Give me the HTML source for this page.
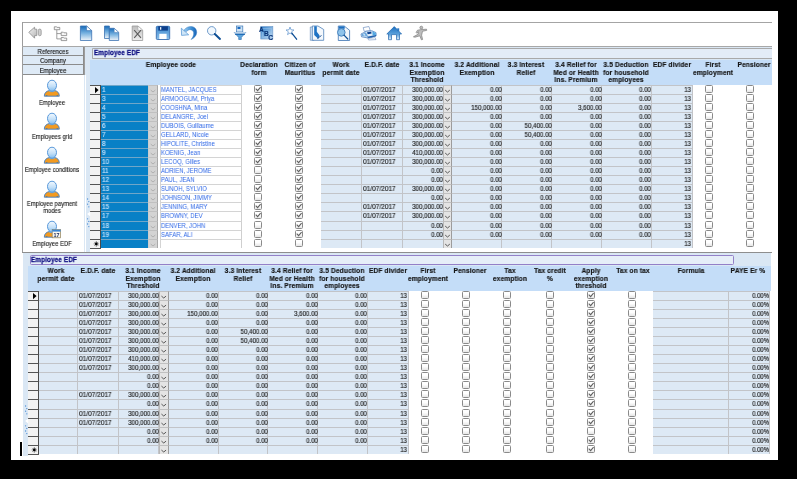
<!DOCTYPE html><html><head><meta charset="utf-8"><style>
*{margin:0;padding:0;box-sizing:border-box}
html,body{width:797px;height:479px;overflow:hidden;background:#000}
body{position:relative;font-family:"Liberation Sans",sans-serif}
div,span{position:absolute}
.x{white-space:nowrap;font-size:7px;line-height:7px;will-change:transform}
.h{font-weight:bold;font-size:6.9px;line-height:7.4px;color:#111;text-align:center;white-space:nowrap;-webkit-text-stroke:0.1px #111}
.cb{width:8px;height:8px;border:1px solid #8a8a8a;border-radius:1.5px;background:linear-gradient(#fff 40%,#e6e6e6)}
</style></head><body><div style="left:11px;top:11px;width:767px;height:449px;background:#fff"></div>
<div style="left:22px;top:22px;width:750px;height:1px;background:#a4a4a4"></div>
<div style="left:22px;top:22px;width:1px;height:231px;background:#9c9c9c"></div>
<div style="left:22px;top:46px;width:750px;height:1px;background:#a8a8a8"></div>
<div style="left:20px;top:442px;width:2px;height:14px;background:#000"></div>
<div style="left:23px;top:47px;width:61px;height:9px;background:#deeaf6;border-bottom:1px solid #8c8c8c;border-right:1px solid #8c8c8c"></div>
<div class="x" style="font-size:7px;line-height:7px;color:#1c1c1c;-webkit-text-stroke:0.160px #1c1c1c;left:23.1px;width:60px;text-align:center;top:48px;transform:scaleX(0.86);transform-origin:50% 0;">References</div>
<div style="left:23px;top:56px;width:61px;height:9px;background:#deeaf6;border-bottom:1px solid #8c8c8c;border-right:1px solid #8c8c8c"></div>
<div class="x" style="font-size:7px;line-height:7px;color:#1c1c1c;-webkit-text-stroke:0.160px #1c1c1c;left:23.1px;width:60px;text-align:center;top:57px;transform:scaleX(0.86);transform-origin:50% 0;">Company</div>
<div style="left:23px;top:65px;width:61px;height:10px;background:#deeaf6;border-bottom:1px solid #8c8c8c;border-right:1px solid #8c8c8c"></div>
<div class="x" style="font-size:7px;line-height:7px;color:#1c1c1c;-webkit-text-stroke:0.160px #1c1c1c;left:23.1px;width:60px;text-align:center;top:67px;transform:scaleX(0.86);transform-origin:50% 0;">Employee</div>
<div style="left:22px;top:252px;width:750px;height:1px;background:#8e8e8e"></div>
<div style="left:84px;top:47px;width:688px;height:205px;background:#dae7f4"></div>
<div style="left:84px;top:47px;width:1px;height:28px;background:#9c9c9c"></div>
<div style="left:85px;top:75px;width:0.8px;height:177px;background:#fff"></div>
<div style="left:92px;top:48px;width:680px;height:10.5px;background:#e3ecf7;border:1px solid #a9a9a9;border-right:none;border-radius:1.5px 0 0 1.5px"></div>
<div class="x" style="font-size:7px;line-height:7px;color:#0e0e82;font-weight:bold;letter-spacing:0.17px;-webkit-text-stroke:0.270px #0e0e82;left:93.8px;top:49px;transform:scaleX(0.9);transform-origin:0 0;">Employee EDF</div>
<div style="left:90px;top:60px;width:682px;height:192px;background:#fff"></div>
<div style="left:90px;top:60px;width:682px;height:25px;background:#c4ddf8"></div>
<div class="x" style="font-size:7px;line-height:7px;color:#141414;font-weight:bold;letter-spacing:0.15px;-webkit-text-stroke:0.170px #141414;left:126.0px;width:90px;text-align:center;top:61px;transform:scaleX(0.94);transform-origin:50% 0;">Employee code</div>
<div class="x" style="font-size:7px;line-height:7px;color:#141414;font-weight:bold;letter-spacing:0.15px;-webkit-text-stroke:0.170px #141414;left:214.0px;width:90px;text-align:center;top:61px;transform:scaleX(0.94);transform-origin:50% 0;">Declaration</div>
<div class="x" style="font-size:7px;line-height:7px;color:#141414;font-weight:bold;letter-spacing:0.15px;-webkit-text-stroke:0.170px #141414;left:214.0px;width:90px;text-align:center;top:69px;transform:scaleX(0.94);transform-origin:50% 0;">form</div>
<div class="x" style="font-size:7px;line-height:7px;color:#141414;font-weight:bold;letter-spacing:0.15px;-webkit-text-stroke:0.170px #141414;left:254.5px;width:90px;text-align:center;top:61px;transform:scaleX(0.94);transform-origin:50% 0;">Citizen of</div>
<div class="x" style="font-size:7px;line-height:7px;color:#141414;font-weight:bold;letter-spacing:0.15px;-webkit-text-stroke:0.170px #141414;left:254.5px;width:90px;text-align:center;top:69px;transform:scaleX(0.94);transform-origin:50% 0;">Mauritius</div>
<div class="x" style="font-size:7px;line-height:7px;color:#141414;font-weight:bold;letter-spacing:0.15px;-webkit-text-stroke:0.170px #141414;left:296.0px;width:90px;text-align:center;top:61px;transform:scaleX(0.94);transform-origin:50% 0;">Work</div>
<div class="x" style="font-size:7px;line-height:7px;color:#141414;font-weight:bold;letter-spacing:0.15px;-webkit-text-stroke:0.170px #141414;left:296.0px;width:90px;text-align:center;top:69px;transform:scaleX(0.94);transform-origin:50% 0;">permit date</div>
<div class="x" style="font-size:7px;line-height:7px;color:#141414;font-weight:bold;letter-spacing:0.15px;-webkit-text-stroke:0.170px #141414;left:336.5px;width:90px;text-align:center;top:61px;transform:scaleX(0.94);transform-origin:50% 0;">E.D.F. date</div>
<div class="x" style="font-size:7px;line-height:7px;color:#141414;font-weight:bold;letter-spacing:0.15px;-webkit-text-stroke:0.170px #141414;left:382.0px;width:90px;text-align:center;top:61px;transform:scaleX(0.94);transform-origin:50% 0;">3.1 Income</div>
<div class="x" style="font-size:7px;line-height:7px;color:#141414;font-weight:bold;letter-spacing:0.15px;-webkit-text-stroke:0.170px #141414;left:382.0px;width:90px;text-align:center;top:69px;transform:scaleX(0.94);transform-origin:50% 0;">Exemption</div>
<div class="x" style="font-size:7px;line-height:7px;color:#141414;font-weight:bold;letter-spacing:0.15px;-webkit-text-stroke:0.170px #141414;left:382.0px;width:90px;text-align:center;top:76px;transform:scaleX(0.94);transform-origin:50% 0;">Threshold</div>
<div class="x" style="font-size:7px;line-height:7px;color:#141414;font-weight:bold;letter-spacing:0.15px;-webkit-text-stroke:0.170px #141414;left:431.5px;width:90px;text-align:center;top:61px;transform:scaleX(0.94);transform-origin:50% 0;">3.2 Additional</div>
<div class="x" style="font-size:7px;line-height:7px;color:#141414;font-weight:bold;letter-spacing:0.15px;-webkit-text-stroke:0.170px #141414;left:431.5px;width:90px;text-align:center;top:69px;transform:scaleX(0.94);transform-origin:50% 0;">Exemption</div>
<div class="x" style="font-size:7px;line-height:7px;color:#141414;font-weight:bold;letter-spacing:0.15px;-webkit-text-stroke:0.170px #141414;left:480.5px;width:90px;text-align:center;top:61px;transform:scaleX(0.94);transform-origin:50% 0;">3.3 Interest</div>
<div class="x" style="font-size:7px;line-height:7px;color:#141414;font-weight:bold;letter-spacing:0.15px;-webkit-text-stroke:0.170px #141414;left:480.5px;width:90px;text-align:center;top:69px;transform:scaleX(0.94);transform-origin:50% 0;">Relief</div>
<div class="x" style="font-size:7px;line-height:7px;color:#141414;font-weight:bold;letter-spacing:0.15px;-webkit-text-stroke:0.170px #141414;left:531.0px;width:90px;text-align:center;top:61px;transform:scaleX(0.94);transform-origin:50% 0;">3.4 Relief for</div>
<div class="x" style="font-size:7px;line-height:7px;color:#141414;font-weight:bold;letter-spacing:0.15px;-webkit-text-stroke:0.170px #141414;left:531.0px;width:90px;text-align:center;top:69px;transform:scaleX(0.94);transform-origin:50% 0;">Med or Health</div>
<div class="x" style="font-size:7px;line-height:7px;color:#141414;font-weight:bold;letter-spacing:0.15px;-webkit-text-stroke:0.170px #141414;left:531.0px;width:90px;text-align:center;top:76px;transform:scaleX(0.94);transform-origin:50% 0;">Ins. Premium</div>
<div class="x" style="font-size:7px;line-height:7px;color:#141414;font-weight:bold;letter-spacing:0.15px;-webkit-text-stroke:0.170px #141414;left:580.5px;width:90px;text-align:center;top:61px;transform:scaleX(0.94);transform-origin:50% 0;">3.5 Deduction</div>
<div class="x" style="font-size:7px;line-height:7px;color:#141414;font-weight:bold;letter-spacing:0.15px;-webkit-text-stroke:0.170px #141414;left:580.5px;width:90px;text-align:center;top:69px;transform:scaleX(0.94);transform-origin:50% 0;">for household</div>
<div class="x" style="font-size:7px;line-height:7px;color:#141414;font-weight:bold;letter-spacing:0.15px;-webkit-text-stroke:0.170px #141414;left:580.5px;width:90px;text-align:center;top:76px;transform:scaleX(0.94);transform-origin:50% 0;">employees</div>
<div class="x" style="font-size:7px;line-height:7px;color:#141414;font-weight:bold;letter-spacing:0.15px;-webkit-text-stroke:0.170px #141414;left:626.8px;width:90px;text-align:center;top:61px;transform:scaleX(0.94);transform-origin:50% 0;">EDF divider</div>
<div class="x" style="font-size:7px;line-height:7px;color:#141414;font-weight:bold;letter-spacing:0.15px;-webkit-text-stroke:0.170px #141414;left:667.5px;width:90px;text-align:center;top:61px;transform:scaleX(0.94);transform-origin:50% 0;">First</div>
<div class="x" style="font-size:7px;line-height:7px;color:#141414;font-weight:bold;letter-spacing:0.15px;-webkit-text-stroke:0.170px #141414;left:667.5px;width:90px;text-align:center;top:69px;transform:scaleX(0.94);transform-origin:50% 0;">employment</div>
<div class="x" style="font-size:7px;line-height:7px;color:#141414;font-weight:bold;letter-spacing:0.15px;-webkit-text-stroke:0.170px #141414;left:708.5px;width:90px;text-align:center;top:61px;transform:scaleX(0.94);transform-origin:50% 0;">Pensioner</div>
<div style="left:90px;top:85px;width:11px;height:9px;background:#f3f3f3;border-top:1px solid #555;border-right:1px solid #4a4a4a"><svg width="10" height="8" style="position:absolute;left:0;top:0"><path d="M5 0.9 L8.6 4 L5 7.2Z" fill="#000"/></svg></div>
<div style="left:101px;top:85px;width:47px;height:9px;background:#0880c6;border-top:1px solid #70a6c8"></div>
<div class="x" style="font-size:7px;line-height:7px;color:#cde5fb;-webkit-text-stroke:0.110px #cde5fb;left:102px;top:86px;transform:scaleX(0.9);transform-origin:0 0;">1</div>
<div style="left:148px;top:85px;width:10px;height:9px;background:#d3d3d3;border-top:1px solid #c0c0c0;border-right:1px solid #a8a8a8;border-left:1px solid #cdcdcd"><svg width="9" height="9" style="position:absolute;left:-1px;top:-1px"><path d="M2.7 5.1 L5.0 7 L7.3 5.1" fill="none" stroke="#a6a6a6" stroke-width="0.8"/></svg></div>
<div style="left:159.5px;top:85px;width:82px;height:9px;background:#fff;border-top:1px solid #d4d4d4;border-left:1px solid #d4d4d4;border-right:1px solid #cfcfcf"></div>
<div class="x" style="font-size:7px;line-height:7px;color:#356ce6;-webkit-text-stroke:0.030px #356ce6;left:161px;top:86px;transform:scaleX(0.85);transform-origin:0 0;">MANTEL, JACQUES</div>
<div class="cb" style="left:254.00px;top:85.00px"><svg width="8" height="8" style="position:absolute;left:-1px;top:-1px"><path d="M1.7 3.7 L3.6 5.6 L6.6 2.2" fill="none" stroke="#5e5e5e" stroke-width="1.1"/></svg></div>
<div class="cb" style="left:295.00px;top:85.00px"><svg width="8" height="8" style="position:absolute;left:-1px;top:-1px"><path d="M1.7 3.7 L3.6 5.6 L6.6 2.2" fill="none" stroke="#5e5e5e" stroke-width="1.1"/></svg></div>
<div style="left:320.5px;top:85px;width:41px;height:9px;background:#dde9f5;border-right:1px solid #c2c4c8;border-top:1px solid #c2c4c8;"></div>
<div style="left:361.5px;top:85px;width:41px;height:9px;background:#dde9f5;border-right:1px solid #c2c4c8;border-top:1px solid #c2c4c8;"></div>
<div style="left:402.5px;top:85px;width:41px;height:9px;background:#dde9f5;border-right:1px solid #c2c4c8;border-top:1px solid #c2c4c8;"></div>
<div style="left:443.2px;top:85px;width:9px;height:9px;background:#e4e4e4;border-top:1px solid #c0c0c0;border-right:1px solid #9c9c9c;border-left:1px solid #b8b8b8"><svg width="9" height="9" style="position:absolute;left:-1px;top:-1px"><path d="M2.2 5.1 L4.5 7 L6.8 5.1" fill="none" stroke="#585858" stroke-width="1.0"/></svg></div>
<div style="left:452px;top:85px;width:50px;height:9px;background:#dde9f5;border-right:1px solid #c2c4c8;border-top:1px solid #c2c4c8;"></div>
<div style="left:502px;top:85px;width:50px;height:9px;background:#dde9f5;border-right:1px solid #c2c4c8;border-top:1px solid #c2c4c8;"></div>
<div style="left:552px;top:85px;width:50px;height:9px;background:#dde9f5;border-right:1px solid #c2c4c8;border-top:1px solid #c2c4c8;"></div>
<div style="left:602px;top:85px;width:49.5px;height:9px;background:#dde9f5;border-right:1px solid #c2c4c8;border-top:1px solid #c2c4c8;"></div>
<div style="left:651.5px;top:85px;width:41.5px;height:9px;background:#dde9f5;border-right:1px solid #c2c4c8;border-top:1px solid #c2c4c8;"></div>
<div class="x" style="font-size:7px;line-height:7px;color:#262626;letter-spacing:0.05px;-webkit-text-stroke:0.180px #262626;left:362.8px;top:86px;transform:scaleX(0.92);transform-origin:0 0;">01/07/2017</div>
<div class="x" style="font-size:7px;line-height:7px;color:#262626;-webkit-text-stroke:0.180px #262626;left:322.9px;width:120px;text-align:right;top:86px;transform:scaleX(0.88);transform-origin:100% 0;">300,000.00</div>
<div class="x" style="font-size:7px;line-height:7px;color:#262626;-webkit-text-stroke:0.180px #262626;left:381.6px;width:120px;text-align:right;top:86px;transform:scaleX(0.88);transform-origin:100% 0;">0.00</div>
<div class="x" style="font-size:7px;line-height:7px;color:#262626;-webkit-text-stroke:0.180px #262626;left:431.6px;width:120px;text-align:right;top:86px;transform:scaleX(0.88);transform-origin:100% 0;">0.00</div>
<div class="x" style="font-size:7px;line-height:7px;color:#262626;-webkit-text-stroke:0.180px #262626;left:481.6px;width:120px;text-align:right;top:86px;transform:scaleX(0.88);transform-origin:100% 0;">0.00</div>
<div class="x" style="font-size:7px;line-height:7px;color:#262626;-webkit-text-stroke:0.180px #262626;left:530.9px;width:120px;text-align:right;top:86px;transform:scaleX(0.88);transform-origin:100% 0;">0.00</div>
<div class="x" style="font-size:7px;line-height:7px;color:#262626;-webkit-text-stroke:0.180px #262626;left:570.5px;width:120px;text-align:right;top:86px;transform:scaleX(0.88);transform-origin:100% 0;">13</div>
<div class="cb" style="left:705.00px;top:85.00px"></div>
<div class="cb" style="left:746.00px;top:85.00px"></div>
<div style="left:90px;top:94px;width:11px;height:9px;background:#f3f3f3;border-top:1px solid #555;border-right:1px solid #4a4a4a"></div>
<div style="left:101px;top:94px;width:47px;height:9px;background:#0880c6;border-top:1px solid #70a6c8"></div>
<div class="x" style="font-size:7px;line-height:7px;color:#cde5fb;-webkit-text-stroke:0.110px #cde5fb;left:102px;top:95px;transform:scaleX(0.9);transform-origin:0 0;">3</div>
<div style="left:148px;top:94px;width:10px;height:9px;background:#d3d3d3;border-top:1px solid #c0c0c0;border-right:1px solid #a8a8a8;border-left:1px solid #cdcdcd"><svg width="9" height="9" style="position:absolute;left:-1px;top:-1px"><path d="M2.7 5.1 L5.0 7 L7.3 5.1" fill="none" stroke="#a6a6a6" stroke-width="0.8"/></svg></div>
<div style="left:159.5px;top:94px;width:82px;height:9px;background:#fff;border-top:1px solid #d4d4d4;border-left:1px solid #d4d4d4;border-right:1px solid #cfcfcf"></div>
<div class="x" style="font-size:7px;line-height:7px;color:#356ce6;-webkit-text-stroke:0.030px #356ce6;left:161px;top:95px;transform:scaleX(0.85);transform-origin:0 0;">ARMOOGUM, Priya</div>
<div class="cb" style="left:254.00px;top:94.00px"><svg width="8" height="8" style="position:absolute;left:-1px;top:-1px"><path d="M1.7 3.7 L3.6 5.6 L6.6 2.2" fill="none" stroke="#5e5e5e" stroke-width="1.1"/></svg></div>
<div class="cb" style="left:295.00px;top:94.00px"><svg width="8" height="8" style="position:absolute;left:-1px;top:-1px"><path d="M1.7 3.7 L3.6 5.6 L6.6 2.2" fill="none" stroke="#5e5e5e" stroke-width="1.1"/></svg></div>
<div style="left:320.5px;top:94px;width:41px;height:9px;background:#dde9f5;border-right:1px solid #c2c4c8;border-top:1px solid #c2c4c8;"></div>
<div style="left:361.5px;top:94px;width:41px;height:9px;background:#dde9f5;border-right:1px solid #c2c4c8;border-top:1px solid #c2c4c8;"></div>
<div style="left:402.5px;top:94px;width:41px;height:9px;background:#dde9f5;border-right:1px solid #c2c4c8;border-top:1px solid #c2c4c8;"></div>
<div style="left:443.2px;top:94px;width:9px;height:9px;background:#e4e4e4;border-top:1px solid #c0c0c0;border-right:1px solid #9c9c9c;border-left:1px solid #b8b8b8"><svg width="9" height="9" style="position:absolute;left:-1px;top:-1px"><path d="M2.2 5.1 L4.5 7 L6.8 5.1" fill="none" stroke="#585858" stroke-width="1.0"/></svg></div>
<div style="left:452px;top:94px;width:50px;height:9px;background:#dde9f5;border-right:1px solid #c2c4c8;border-top:1px solid #c2c4c8;"></div>
<div style="left:502px;top:94px;width:50px;height:9px;background:#dde9f5;border-right:1px solid #c2c4c8;border-top:1px solid #c2c4c8;"></div>
<div style="left:552px;top:94px;width:50px;height:9px;background:#dde9f5;border-right:1px solid #c2c4c8;border-top:1px solid #c2c4c8;"></div>
<div style="left:602px;top:94px;width:49.5px;height:9px;background:#dde9f5;border-right:1px solid #c2c4c8;border-top:1px solid #c2c4c8;"></div>
<div style="left:651.5px;top:94px;width:41.5px;height:9px;background:#dde9f5;border-right:1px solid #c2c4c8;border-top:1px solid #c2c4c8;"></div>
<div class="x" style="font-size:7px;line-height:7px;color:#262626;letter-spacing:0.05px;-webkit-text-stroke:0.180px #262626;left:362.8px;top:95px;transform:scaleX(0.92);transform-origin:0 0;">01/07/2017</div>
<div class="x" style="font-size:7px;line-height:7px;color:#262626;-webkit-text-stroke:0.180px #262626;left:322.9px;width:120px;text-align:right;top:95px;transform:scaleX(0.88);transform-origin:100% 0;">300,000.00</div>
<div class="x" style="font-size:7px;line-height:7px;color:#262626;-webkit-text-stroke:0.180px #262626;left:381.6px;width:120px;text-align:right;top:95px;transform:scaleX(0.88);transform-origin:100% 0;">0.00</div>
<div class="x" style="font-size:7px;line-height:7px;color:#262626;-webkit-text-stroke:0.180px #262626;left:431.6px;width:120px;text-align:right;top:95px;transform:scaleX(0.88);transform-origin:100% 0;">0.00</div>
<div class="x" style="font-size:7px;line-height:7px;color:#262626;-webkit-text-stroke:0.180px #262626;left:481.6px;width:120px;text-align:right;top:95px;transform:scaleX(0.88);transform-origin:100% 0;">0.00</div>
<div class="x" style="font-size:7px;line-height:7px;color:#262626;-webkit-text-stroke:0.180px #262626;left:530.9px;width:120px;text-align:right;top:95px;transform:scaleX(0.88);transform-origin:100% 0;">0.00</div>
<div class="x" style="font-size:7px;line-height:7px;color:#262626;-webkit-text-stroke:0.180px #262626;left:570.5px;width:120px;text-align:right;top:95px;transform:scaleX(0.88);transform-origin:100% 0;">13</div>
<div class="cb" style="left:705.00px;top:94.00px"></div>
<div class="cb" style="left:746.00px;top:94.00px"></div>
<div style="left:90px;top:103px;width:11px;height:9px;background:#f3f3f3;border-top:1px solid #555;border-right:1px solid #4a4a4a"></div>
<div style="left:101px;top:103px;width:47px;height:9px;background:#0880c6;border-top:1px solid #70a6c8"></div>
<div class="x" style="font-size:7px;line-height:7px;color:#cde5fb;-webkit-text-stroke:0.110px #cde5fb;left:102px;top:104px;transform:scaleX(0.9);transform-origin:0 0;">4</div>
<div style="left:148px;top:103px;width:10px;height:9px;background:#d3d3d3;border-top:1px solid #c0c0c0;border-right:1px solid #a8a8a8;border-left:1px solid #cdcdcd"><svg width="9" height="9" style="position:absolute;left:-1px;top:-1px"><path d="M2.7 5.1 L5.0 7 L7.3 5.1" fill="none" stroke="#a6a6a6" stroke-width="0.8"/></svg></div>
<div style="left:159.5px;top:103px;width:82px;height:9px;background:#fff;border-top:1px solid #d4d4d4;border-left:1px solid #d4d4d4;border-right:1px solid #cfcfcf"></div>
<div class="x" style="font-size:7px;line-height:7px;color:#356ce6;-webkit-text-stroke:0.030px #356ce6;left:161px;top:104px;transform:scaleX(0.85);transform-origin:0 0;">COOSHNA, Mina</div>
<div class="cb" style="left:254.00px;top:103.00px"><svg width="8" height="8" style="position:absolute;left:-1px;top:-1px"><path d="M1.7 3.7 L3.6 5.6 L6.6 2.2" fill="none" stroke="#5e5e5e" stroke-width="1.1"/></svg></div>
<div class="cb" style="left:295.00px;top:103.00px"><svg width="8" height="8" style="position:absolute;left:-1px;top:-1px"><path d="M1.7 3.7 L3.6 5.6 L6.6 2.2" fill="none" stroke="#5e5e5e" stroke-width="1.1"/></svg></div>
<div style="left:320.5px;top:103px;width:41px;height:9px;background:#dde9f5;border-right:1px solid #c2c4c8;border-top:1px solid #c2c4c8;"></div>
<div style="left:361.5px;top:103px;width:41px;height:9px;background:#dde9f5;border-right:1px solid #c2c4c8;border-top:1px solid #c2c4c8;"></div>
<div style="left:402.5px;top:103px;width:41px;height:9px;background:#dde9f5;border-right:1px solid #c2c4c8;border-top:1px solid #c2c4c8;"></div>
<div style="left:443.2px;top:103px;width:9px;height:9px;background:#e4e4e4;border-top:1px solid #c0c0c0;border-right:1px solid #9c9c9c;border-left:1px solid #b8b8b8"><svg width="9" height="9" style="position:absolute;left:-1px;top:-1px"><path d="M2.2 5.1 L4.5 7 L6.8 5.1" fill="none" stroke="#585858" stroke-width="1.0"/></svg></div>
<div style="left:452px;top:103px;width:50px;height:9px;background:#dde9f5;border-right:1px solid #c2c4c8;border-top:1px solid #c2c4c8;"></div>
<div style="left:502px;top:103px;width:50px;height:9px;background:#dde9f5;border-right:1px solid #c2c4c8;border-top:1px solid #c2c4c8;"></div>
<div style="left:552px;top:103px;width:50px;height:9px;background:#dde9f5;border-right:1px solid #c2c4c8;border-top:1px solid #c2c4c8;"></div>
<div style="left:602px;top:103px;width:49.5px;height:9px;background:#dde9f5;border-right:1px solid #c2c4c8;border-top:1px solid #c2c4c8;"></div>
<div style="left:651.5px;top:103px;width:41.5px;height:9px;background:#dde9f5;border-right:1px solid #c2c4c8;border-top:1px solid #c2c4c8;"></div>
<div class="x" style="font-size:7px;line-height:7px;color:#262626;letter-spacing:0.05px;-webkit-text-stroke:0.180px #262626;left:362.8px;top:104px;transform:scaleX(0.92);transform-origin:0 0;">01/07/2017</div>
<div class="x" style="font-size:7px;line-height:7px;color:#262626;-webkit-text-stroke:0.180px #262626;left:322.9px;width:120px;text-align:right;top:104px;transform:scaleX(0.88);transform-origin:100% 0;">300,000.00</div>
<div class="x" style="font-size:7px;line-height:7px;color:#262626;-webkit-text-stroke:0.180px #262626;left:381.6px;width:120px;text-align:right;top:104px;transform:scaleX(0.88);transform-origin:100% 0;">150,000.00</div>
<div class="x" style="font-size:7px;line-height:7px;color:#262626;-webkit-text-stroke:0.180px #262626;left:431.6px;width:120px;text-align:right;top:104px;transform:scaleX(0.88);transform-origin:100% 0;">0.00</div>
<div class="x" style="font-size:7px;line-height:7px;color:#262626;-webkit-text-stroke:0.180px #262626;left:481.6px;width:120px;text-align:right;top:104px;transform:scaleX(0.88);transform-origin:100% 0;">3,600.00</div>
<div class="x" style="font-size:7px;line-height:7px;color:#262626;-webkit-text-stroke:0.180px #262626;left:530.9px;width:120px;text-align:right;top:104px;transform:scaleX(0.88);transform-origin:100% 0;">0.00</div>
<div class="x" style="font-size:7px;line-height:7px;color:#262626;-webkit-text-stroke:0.180px #262626;left:570.5px;width:120px;text-align:right;top:104px;transform:scaleX(0.88);transform-origin:100% 0;">13</div>
<div class="cb" style="left:705.00px;top:103.00px"></div>
<div class="cb" style="left:746.00px;top:103.00px"></div>
<div style="left:90px;top:112px;width:11px;height:9px;background:#f3f3f3;border-top:1px solid #555;border-right:1px solid #4a4a4a"></div>
<div style="left:101px;top:112px;width:47px;height:9px;background:#0880c6;border-top:1px solid #70a6c8"></div>
<div class="x" style="font-size:7px;line-height:7px;color:#cde5fb;-webkit-text-stroke:0.110px #cde5fb;left:102px;top:113px;transform:scaleX(0.9);transform-origin:0 0;">5</div>
<div style="left:148px;top:112px;width:10px;height:9px;background:#d3d3d3;border-top:1px solid #c0c0c0;border-right:1px solid #a8a8a8;border-left:1px solid #cdcdcd"><svg width="9" height="9" style="position:absolute;left:-1px;top:-1px"><path d="M2.7 5.1 L5.0 7 L7.3 5.1" fill="none" stroke="#a6a6a6" stroke-width="0.8"/></svg></div>
<div style="left:159.5px;top:112px;width:82px;height:9px;background:#fff;border-top:1px solid #d4d4d4;border-left:1px solid #d4d4d4;border-right:1px solid #cfcfcf"></div>
<div class="x" style="font-size:7px;line-height:7px;color:#356ce6;-webkit-text-stroke:0.030px #356ce6;left:161px;top:113px;transform:scaleX(0.85);transform-origin:0 0;">DELANGRE, Joel</div>
<div class="cb" style="left:254.00px;top:112.00px"><svg width="8" height="8" style="position:absolute;left:-1px;top:-1px"><path d="M1.7 3.7 L3.6 5.6 L6.6 2.2" fill="none" stroke="#5e5e5e" stroke-width="1.1"/></svg></div>
<div class="cb" style="left:295.00px;top:112.00px"><svg width="8" height="8" style="position:absolute;left:-1px;top:-1px"><path d="M1.7 3.7 L3.6 5.6 L6.6 2.2" fill="none" stroke="#5e5e5e" stroke-width="1.1"/></svg></div>
<div style="left:320.5px;top:112px;width:41px;height:9px;background:#dde9f5;border-right:1px solid #c2c4c8;border-top:1px solid #c2c4c8;"></div>
<div style="left:361.5px;top:112px;width:41px;height:9px;background:#dde9f5;border-right:1px solid #c2c4c8;border-top:1px solid #c2c4c8;"></div>
<div style="left:402.5px;top:112px;width:41px;height:9px;background:#dde9f5;border-right:1px solid #c2c4c8;border-top:1px solid #c2c4c8;"></div>
<div style="left:443.2px;top:112px;width:9px;height:9px;background:#e4e4e4;border-top:1px solid #c0c0c0;border-right:1px solid #9c9c9c;border-left:1px solid #b8b8b8"><svg width="9" height="9" style="position:absolute;left:-1px;top:-1px"><path d="M2.2 5.1 L4.5 7 L6.8 5.1" fill="none" stroke="#585858" stroke-width="1.0"/></svg></div>
<div style="left:452px;top:112px;width:50px;height:9px;background:#dde9f5;border-right:1px solid #c2c4c8;border-top:1px solid #c2c4c8;"></div>
<div style="left:502px;top:112px;width:50px;height:9px;background:#dde9f5;border-right:1px solid #c2c4c8;border-top:1px solid #c2c4c8;"></div>
<div style="left:552px;top:112px;width:50px;height:9px;background:#dde9f5;border-right:1px solid #c2c4c8;border-top:1px solid #c2c4c8;"></div>
<div style="left:602px;top:112px;width:49.5px;height:9px;background:#dde9f5;border-right:1px solid #c2c4c8;border-top:1px solid #c2c4c8;"></div>
<div style="left:651.5px;top:112px;width:41.5px;height:9px;background:#dde9f5;border-right:1px solid #c2c4c8;border-top:1px solid #c2c4c8;"></div>
<div class="x" style="font-size:7px;line-height:7px;color:#262626;letter-spacing:0.05px;-webkit-text-stroke:0.180px #262626;left:362.8px;top:113px;transform:scaleX(0.92);transform-origin:0 0;">01/07/2017</div>
<div class="x" style="font-size:7px;line-height:7px;color:#262626;-webkit-text-stroke:0.180px #262626;left:322.9px;width:120px;text-align:right;top:113px;transform:scaleX(0.88);transform-origin:100% 0;">300,000.00</div>
<div class="x" style="font-size:7px;line-height:7px;color:#262626;-webkit-text-stroke:0.180px #262626;left:381.6px;width:120px;text-align:right;top:113px;transform:scaleX(0.88);transform-origin:100% 0;">0.00</div>
<div class="x" style="font-size:7px;line-height:7px;color:#262626;-webkit-text-stroke:0.180px #262626;left:431.6px;width:120px;text-align:right;top:113px;transform:scaleX(0.88);transform-origin:100% 0;">0.00</div>
<div class="x" style="font-size:7px;line-height:7px;color:#262626;-webkit-text-stroke:0.180px #262626;left:481.6px;width:120px;text-align:right;top:113px;transform:scaleX(0.88);transform-origin:100% 0;">0.00</div>
<div class="x" style="font-size:7px;line-height:7px;color:#262626;-webkit-text-stroke:0.180px #262626;left:530.9px;width:120px;text-align:right;top:113px;transform:scaleX(0.88);transform-origin:100% 0;">0.00</div>
<div class="x" style="font-size:7px;line-height:7px;color:#262626;-webkit-text-stroke:0.180px #262626;left:570.5px;width:120px;text-align:right;top:113px;transform:scaleX(0.88);transform-origin:100% 0;">13</div>
<div class="cb" style="left:705.00px;top:112.00px"></div>
<div class="cb" style="left:746.00px;top:112.00px"></div>
<div style="left:90px;top:121px;width:11px;height:9px;background:#f3f3f3;border-top:1px solid #555;border-right:1px solid #4a4a4a"></div>
<div style="left:101px;top:121px;width:47px;height:9px;background:#0880c6;border-top:1px solid #70a6c8"></div>
<div class="x" style="font-size:7px;line-height:7px;color:#cde5fb;-webkit-text-stroke:0.110px #cde5fb;left:102px;top:122px;transform:scaleX(0.9);transform-origin:0 0;">6</div>
<div style="left:148px;top:121px;width:10px;height:9px;background:#d3d3d3;border-top:1px solid #c0c0c0;border-right:1px solid #a8a8a8;border-left:1px solid #cdcdcd"><svg width="9" height="9" style="position:absolute;left:-1px;top:-1px"><path d="M2.7 5.1 L5.0 7 L7.3 5.1" fill="none" stroke="#a6a6a6" stroke-width="0.8"/></svg></div>
<div style="left:159.5px;top:121px;width:82px;height:9px;background:#fff;border-top:1px solid #d4d4d4;border-left:1px solid #d4d4d4;border-right:1px solid #cfcfcf"></div>
<div class="x" style="font-size:7px;line-height:7px;color:#356ce6;-webkit-text-stroke:0.030px #356ce6;left:161px;top:122px;transform:scaleX(0.85);transform-origin:0 0;">DUBOIS, Guillaume</div>
<div class="cb" style="left:254.00px;top:121.00px"><svg width="8" height="8" style="position:absolute;left:-1px;top:-1px"><path d="M1.7 3.7 L3.6 5.6 L6.6 2.2" fill="none" stroke="#5e5e5e" stroke-width="1.1"/></svg></div>
<div class="cb" style="left:295.00px;top:121.00px"><svg width="8" height="8" style="position:absolute;left:-1px;top:-1px"><path d="M1.7 3.7 L3.6 5.6 L6.6 2.2" fill="none" stroke="#5e5e5e" stroke-width="1.1"/></svg></div>
<div style="left:320.5px;top:121px;width:41px;height:9px;background:#dde9f5;border-right:1px solid #c2c4c8;border-top:1px solid #c2c4c8;"></div>
<div style="left:361.5px;top:121px;width:41px;height:9px;background:#dde9f5;border-right:1px solid #c2c4c8;border-top:1px solid #c2c4c8;"></div>
<div style="left:402.5px;top:121px;width:41px;height:9px;background:#dde9f5;border-right:1px solid #c2c4c8;border-top:1px solid #c2c4c8;"></div>
<div style="left:443.2px;top:121px;width:9px;height:9px;background:#e4e4e4;border-top:1px solid #c0c0c0;border-right:1px solid #9c9c9c;border-left:1px solid #b8b8b8"><svg width="9" height="9" style="position:absolute;left:-1px;top:-1px"><path d="M2.2 5.1 L4.5 7 L6.8 5.1" fill="none" stroke="#585858" stroke-width="1.0"/></svg></div>
<div style="left:452px;top:121px;width:50px;height:9px;background:#dde9f5;border-right:1px solid #c2c4c8;border-top:1px solid #c2c4c8;"></div>
<div style="left:502px;top:121px;width:50px;height:9px;background:#dde9f5;border-right:1px solid #c2c4c8;border-top:1px solid #c2c4c8;"></div>
<div style="left:552px;top:121px;width:50px;height:9px;background:#dde9f5;border-right:1px solid #c2c4c8;border-top:1px solid #c2c4c8;"></div>
<div style="left:602px;top:121px;width:49.5px;height:9px;background:#dde9f5;border-right:1px solid #c2c4c8;border-top:1px solid #c2c4c8;"></div>
<div style="left:651.5px;top:121px;width:41.5px;height:9px;background:#dde9f5;border-right:1px solid #c2c4c8;border-top:1px solid #c2c4c8;"></div>
<div class="x" style="font-size:7px;line-height:7px;color:#262626;letter-spacing:0.05px;-webkit-text-stroke:0.180px #262626;left:362.8px;top:122px;transform:scaleX(0.92);transform-origin:0 0;">01/07/2017</div>
<div class="x" style="font-size:7px;line-height:7px;color:#262626;-webkit-text-stroke:0.180px #262626;left:322.9px;width:120px;text-align:right;top:122px;transform:scaleX(0.88);transform-origin:100% 0;">300,000.00</div>
<div class="x" style="font-size:7px;line-height:7px;color:#262626;-webkit-text-stroke:0.180px #262626;left:381.6px;width:120px;text-align:right;top:122px;transform:scaleX(0.88);transform-origin:100% 0;">0.00</div>
<div class="x" style="font-size:7px;line-height:7px;color:#262626;-webkit-text-stroke:0.180px #262626;left:431.6px;width:120px;text-align:right;top:122px;transform:scaleX(0.88);transform-origin:100% 0;">50,400.00</div>
<div class="x" style="font-size:7px;line-height:7px;color:#262626;-webkit-text-stroke:0.180px #262626;left:481.6px;width:120px;text-align:right;top:122px;transform:scaleX(0.88);transform-origin:100% 0;">0.00</div>
<div class="x" style="font-size:7px;line-height:7px;color:#262626;-webkit-text-stroke:0.180px #262626;left:530.9px;width:120px;text-align:right;top:122px;transform:scaleX(0.88);transform-origin:100% 0;">0.00</div>
<div class="x" style="font-size:7px;line-height:7px;color:#262626;-webkit-text-stroke:0.180px #262626;left:570.5px;width:120px;text-align:right;top:122px;transform:scaleX(0.88);transform-origin:100% 0;">13</div>
<div class="cb" style="left:705.00px;top:121.00px"></div>
<div class="cb" style="left:746.00px;top:121.00px"></div>
<div style="left:90px;top:130px;width:11px;height:9px;background:#f3f3f3;border-top:1px solid #555;border-right:1px solid #4a4a4a"></div>
<div style="left:101px;top:130px;width:47px;height:9px;background:#0880c6;border-top:1px solid #70a6c8"></div>
<div class="x" style="font-size:7px;line-height:7px;color:#cde5fb;-webkit-text-stroke:0.110px #cde5fb;left:102px;top:131px;transform:scaleX(0.9);transform-origin:0 0;">7</div>
<div style="left:148px;top:130px;width:10px;height:9px;background:#d3d3d3;border-top:1px solid #c0c0c0;border-right:1px solid #a8a8a8;border-left:1px solid #cdcdcd"><svg width="9" height="9" style="position:absolute;left:-1px;top:-1px"><path d="M2.7 5.1 L5.0 7 L7.3 5.1" fill="none" stroke="#a6a6a6" stroke-width="0.8"/></svg></div>
<div style="left:159.5px;top:130px;width:82px;height:9px;background:#fff;border-top:1px solid #d4d4d4;border-left:1px solid #d4d4d4;border-right:1px solid #cfcfcf"></div>
<div class="x" style="font-size:7px;line-height:7px;color:#356ce6;-webkit-text-stroke:0.030px #356ce6;left:161px;top:131px;transform:scaleX(0.85);transform-origin:0 0;">GELLARD, Nicole</div>
<div class="cb" style="left:254.00px;top:130.00px"><svg width="8" height="8" style="position:absolute;left:-1px;top:-1px"><path d="M1.7 3.7 L3.6 5.6 L6.6 2.2" fill="none" stroke="#5e5e5e" stroke-width="1.1"/></svg></div>
<div class="cb" style="left:295.00px;top:130.00px"><svg width="8" height="8" style="position:absolute;left:-1px;top:-1px"><path d="M1.7 3.7 L3.6 5.6 L6.6 2.2" fill="none" stroke="#5e5e5e" stroke-width="1.1"/></svg></div>
<div style="left:320.5px;top:130px;width:41px;height:9px;background:#dde9f5;border-right:1px solid #c2c4c8;border-top:1px solid #c2c4c8;"></div>
<div style="left:361.5px;top:130px;width:41px;height:9px;background:#dde9f5;border-right:1px solid #c2c4c8;border-top:1px solid #c2c4c8;"></div>
<div style="left:402.5px;top:130px;width:41px;height:9px;background:#dde9f5;border-right:1px solid #c2c4c8;border-top:1px solid #c2c4c8;"></div>
<div style="left:443.2px;top:130px;width:9px;height:9px;background:#e4e4e4;border-top:1px solid #c0c0c0;border-right:1px solid #9c9c9c;border-left:1px solid #b8b8b8"><svg width="9" height="9" style="position:absolute;left:-1px;top:-1px"><path d="M2.2 5.1 L4.5 7 L6.8 5.1" fill="none" stroke="#585858" stroke-width="1.0"/></svg></div>
<div style="left:452px;top:130px;width:50px;height:9px;background:#dde9f5;border-right:1px solid #c2c4c8;border-top:1px solid #c2c4c8;"></div>
<div style="left:502px;top:130px;width:50px;height:9px;background:#dde9f5;border-right:1px solid #c2c4c8;border-top:1px solid #c2c4c8;"></div>
<div style="left:552px;top:130px;width:50px;height:9px;background:#dde9f5;border-right:1px solid #c2c4c8;border-top:1px solid #c2c4c8;"></div>
<div style="left:602px;top:130px;width:49.5px;height:9px;background:#dde9f5;border-right:1px solid #c2c4c8;border-top:1px solid #c2c4c8;"></div>
<div style="left:651.5px;top:130px;width:41.5px;height:9px;background:#dde9f5;border-right:1px solid #c2c4c8;border-top:1px solid #c2c4c8;"></div>
<div class="x" style="font-size:7px;line-height:7px;color:#262626;letter-spacing:0.05px;-webkit-text-stroke:0.180px #262626;left:362.8px;top:131px;transform:scaleX(0.92);transform-origin:0 0;">01/07/2017</div>
<div class="x" style="font-size:7px;line-height:7px;color:#262626;-webkit-text-stroke:0.180px #262626;left:322.9px;width:120px;text-align:right;top:131px;transform:scaleX(0.88);transform-origin:100% 0;">300,000.00</div>
<div class="x" style="font-size:7px;line-height:7px;color:#262626;-webkit-text-stroke:0.180px #262626;left:381.6px;width:120px;text-align:right;top:131px;transform:scaleX(0.88);transform-origin:100% 0;">0.00</div>
<div class="x" style="font-size:7px;line-height:7px;color:#262626;-webkit-text-stroke:0.180px #262626;left:431.6px;width:120px;text-align:right;top:131px;transform:scaleX(0.88);transform-origin:100% 0;">50,400.00</div>
<div class="x" style="font-size:7px;line-height:7px;color:#262626;-webkit-text-stroke:0.180px #262626;left:481.6px;width:120px;text-align:right;top:131px;transform:scaleX(0.88);transform-origin:100% 0;">0.00</div>
<div class="x" style="font-size:7px;line-height:7px;color:#262626;-webkit-text-stroke:0.180px #262626;left:530.9px;width:120px;text-align:right;top:131px;transform:scaleX(0.88);transform-origin:100% 0;">0.00</div>
<div class="x" style="font-size:7px;line-height:7px;color:#262626;-webkit-text-stroke:0.180px #262626;left:570.5px;width:120px;text-align:right;top:131px;transform:scaleX(0.88);transform-origin:100% 0;">13</div>
<div class="cb" style="left:705.00px;top:130.00px"></div>
<div class="cb" style="left:746.00px;top:130.00px"></div>
<div style="left:90px;top:139px;width:11px;height:9px;background:#f3f3f3;border-top:1px solid #555;border-right:1px solid #4a4a4a"></div>
<div style="left:101px;top:139px;width:47px;height:9px;background:#0880c6;border-top:1px solid #70a6c8"></div>
<div class="x" style="font-size:7px;line-height:7px;color:#cde5fb;-webkit-text-stroke:0.110px #cde5fb;left:102px;top:140px;transform:scaleX(0.9);transform-origin:0 0;">8</div>
<div style="left:148px;top:139px;width:10px;height:9px;background:#d3d3d3;border-top:1px solid #c0c0c0;border-right:1px solid #a8a8a8;border-left:1px solid #cdcdcd"><svg width="9" height="9" style="position:absolute;left:-1px;top:-1px"><path d="M2.7 5.1 L5.0 7 L7.3 5.1" fill="none" stroke="#a6a6a6" stroke-width="0.8"/></svg></div>
<div style="left:159.5px;top:139px;width:82px;height:9px;background:#fff;border-top:1px solid #d4d4d4;border-left:1px solid #d4d4d4;border-right:1px solid #cfcfcf"></div>
<div class="x" style="font-size:7px;line-height:7px;color:#356ce6;-webkit-text-stroke:0.030px #356ce6;left:161px;top:140px;transform:scaleX(0.85);transform-origin:0 0;">HIPOLITE, Christine</div>
<div class="cb" style="left:254.00px;top:139.00px"><svg width="8" height="8" style="position:absolute;left:-1px;top:-1px"><path d="M1.7 3.7 L3.6 5.6 L6.6 2.2" fill="none" stroke="#5e5e5e" stroke-width="1.1"/></svg></div>
<div class="cb" style="left:295.00px;top:139.00px"><svg width="8" height="8" style="position:absolute;left:-1px;top:-1px"><path d="M1.7 3.7 L3.6 5.6 L6.6 2.2" fill="none" stroke="#5e5e5e" stroke-width="1.1"/></svg></div>
<div style="left:320.5px;top:139px;width:41px;height:9px;background:#dde9f5;border-right:1px solid #c2c4c8;border-top:1px solid #c2c4c8;"></div>
<div style="left:361.5px;top:139px;width:41px;height:9px;background:#dde9f5;border-right:1px solid #c2c4c8;border-top:1px solid #c2c4c8;"></div>
<div style="left:402.5px;top:139px;width:41px;height:9px;background:#dde9f5;border-right:1px solid #c2c4c8;border-top:1px solid #c2c4c8;"></div>
<div style="left:443.2px;top:139px;width:9px;height:9px;background:#e4e4e4;border-top:1px solid #c0c0c0;border-right:1px solid #9c9c9c;border-left:1px solid #b8b8b8"><svg width="9" height="9" style="position:absolute;left:-1px;top:-1px"><path d="M2.2 5.1 L4.5 7 L6.8 5.1" fill="none" stroke="#585858" stroke-width="1.0"/></svg></div>
<div style="left:452px;top:139px;width:50px;height:9px;background:#dde9f5;border-right:1px solid #c2c4c8;border-top:1px solid #c2c4c8;"></div>
<div style="left:502px;top:139px;width:50px;height:9px;background:#dde9f5;border-right:1px solid #c2c4c8;border-top:1px solid #c2c4c8;"></div>
<div style="left:552px;top:139px;width:50px;height:9px;background:#dde9f5;border-right:1px solid #c2c4c8;border-top:1px solid #c2c4c8;"></div>
<div style="left:602px;top:139px;width:49.5px;height:9px;background:#dde9f5;border-right:1px solid #c2c4c8;border-top:1px solid #c2c4c8;"></div>
<div style="left:651.5px;top:139px;width:41.5px;height:9px;background:#dde9f5;border-right:1px solid #c2c4c8;border-top:1px solid #c2c4c8;"></div>
<div class="x" style="font-size:7px;line-height:7px;color:#262626;letter-spacing:0.05px;-webkit-text-stroke:0.180px #262626;left:362.8px;top:140px;transform:scaleX(0.92);transform-origin:0 0;">01/07/2017</div>
<div class="x" style="font-size:7px;line-height:7px;color:#262626;-webkit-text-stroke:0.180px #262626;left:322.9px;width:120px;text-align:right;top:140px;transform:scaleX(0.88);transform-origin:100% 0;">300,000.00</div>
<div class="x" style="font-size:7px;line-height:7px;color:#262626;-webkit-text-stroke:0.180px #262626;left:381.6px;width:120px;text-align:right;top:140px;transform:scaleX(0.88);transform-origin:100% 0;">0.00</div>
<div class="x" style="font-size:7px;line-height:7px;color:#262626;-webkit-text-stroke:0.180px #262626;left:431.6px;width:120px;text-align:right;top:140px;transform:scaleX(0.88);transform-origin:100% 0;">0.00</div>
<div class="x" style="font-size:7px;line-height:7px;color:#262626;-webkit-text-stroke:0.180px #262626;left:481.6px;width:120px;text-align:right;top:140px;transform:scaleX(0.88);transform-origin:100% 0;">0.00</div>
<div class="x" style="font-size:7px;line-height:7px;color:#262626;-webkit-text-stroke:0.180px #262626;left:530.9px;width:120px;text-align:right;top:140px;transform:scaleX(0.88);transform-origin:100% 0;">0.00</div>
<div class="x" style="font-size:7px;line-height:7px;color:#262626;-webkit-text-stroke:0.180px #262626;left:570.5px;width:120px;text-align:right;top:140px;transform:scaleX(0.88);transform-origin:100% 0;">13</div>
<div class="cb" style="left:705.00px;top:139.00px"></div>
<div class="cb" style="left:746.00px;top:139.00px"></div>
<div style="left:90px;top:148px;width:11px;height:9px;background:#f3f3f3;border-top:1px solid #555;border-right:1px solid #4a4a4a"></div>
<div style="left:101px;top:148px;width:47px;height:9px;background:#0880c6;border-top:1px solid #70a6c8"></div>
<div class="x" style="font-size:7px;line-height:7px;color:#cde5fb;-webkit-text-stroke:0.110px #cde5fb;left:102px;top:149px;transform:scaleX(0.9);transform-origin:0 0;">9</div>
<div style="left:148px;top:148px;width:10px;height:9px;background:#d3d3d3;border-top:1px solid #c0c0c0;border-right:1px solid #a8a8a8;border-left:1px solid #cdcdcd"><svg width="9" height="9" style="position:absolute;left:-1px;top:-1px"><path d="M2.7 5.1 L5.0 7 L7.3 5.1" fill="none" stroke="#a6a6a6" stroke-width="0.8"/></svg></div>
<div style="left:159.5px;top:148px;width:82px;height:9px;background:#fff;border-top:1px solid #d4d4d4;border-left:1px solid #d4d4d4;border-right:1px solid #cfcfcf"></div>
<div class="x" style="font-size:7px;line-height:7px;color:#356ce6;-webkit-text-stroke:0.030px #356ce6;left:161px;top:149px;transform:scaleX(0.85);transform-origin:0 0;">KOENIG, Jean</div>
<div class="cb" style="left:254.00px;top:148.00px"><svg width="8" height="8" style="position:absolute;left:-1px;top:-1px"><path d="M1.7 3.7 L3.6 5.6 L6.6 2.2" fill="none" stroke="#5e5e5e" stroke-width="1.1"/></svg></div>
<div class="cb" style="left:295.00px;top:148.00px"><svg width="8" height="8" style="position:absolute;left:-1px;top:-1px"><path d="M1.7 3.7 L3.6 5.6 L6.6 2.2" fill="none" stroke="#5e5e5e" stroke-width="1.1"/></svg></div>
<div style="left:320.5px;top:148px;width:41px;height:9px;background:#dde9f5;border-right:1px solid #c2c4c8;border-top:1px solid #c2c4c8;"></div>
<div style="left:361.5px;top:148px;width:41px;height:9px;background:#dde9f5;border-right:1px solid #c2c4c8;border-top:1px solid #c2c4c8;"></div>
<div style="left:402.5px;top:148px;width:41px;height:9px;background:#dde9f5;border-right:1px solid #c2c4c8;border-top:1px solid #c2c4c8;"></div>
<div style="left:443.2px;top:148px;width:9px;height:9px;background:#e4e4e4;border-top:1px solid #c0c0c0;border-right:1px solid #9c9c9c;border-left:1px solid #b8b8b8"><svg width="9" height="9" style="position:absolute;left:-1px;top:-1px"><path d="M2.2 5.1 L4.5 7 L6.8 5.1" fill="none" stroke="#585858" stroke-width="1.0"/></svg></div>
<div style="left:452px;top:148px;width:50px;height:9px;background:#dde9f5;border-right:1px solid #c2c4c8;border-top:1px solid #c2c4c8;"></div>
<div style="left:502px;top:148px;width:50px;height:9px;background:#dde9f5;border-right:1px solid #c2c4c8;border-top:1px solid #c2c4c8;"></div>
<div style="left:552px;top:148px;width:50px;height:9px;background:#dde9f5;border-right:1px solid #c2c4c8;border-top:1px solid #c2c4c8;"></div>
<div style="left:602px;top:148px;width:49.5px;height:9px;background:#dde9f5;border-right:1px solid #c2c4c8;border-top:1px solid #c2c4c8;"></div>
<div style="left:651.5px;top:148px;width:41.5px;height:9px;background:#dde9f5;border-right:1px solid #c2c4c8;border-top:1px solid #c2c4c8;"></div>
<div class="x" style="font-size:7px;line-height:7px;color:#262626;letter-spacing:0.05px;-webkit-text-stroke:0.180px #262626;left:362.8px;top:149px;transform:scaleX(0.92);transform-origin:0 0;">01/07/2017</div>
<div class="x" style="font-size:7px;line-height:7px;color:#262626;-webkit-text-stroke:0.180px #262626;left:322.9px;width:120px;text-align:right;top:149px;transform:scaleX(0.88);transform-origin:100% 0;">410,000.00</div>
<div class="x" style="font-size:7px;line-height:7px;color:#262626;-webkit-text-stroke:0.180px #262626;left:381.6px;width:120px;text-align:right;top:149px;transform:scaleX(0.88);transform-origin:100% 0;">0.00</div>
<div class="x" style="font-size:7px;line-height:7px;color:#262626;-webkit-text-stroke:0.180px #262626;left:431.6px;width:120px;text-align:right;top:149px;transform:scaleX(0.88);transform-origin:100% 0;">0.00</div>
<div class="x" style="font-size:7px;line-height:7px;color:#262626;-webkit-text-stroke:0.180px #262626;left:481.6px;width:120px;text-align:right;top:149px;transform:scaleX(0.88);transform-origin:100% 0;">0.00</div>
<div class="x" style="font-size:7px;line-height:7px;color:#262626;-webkit-text-stroke:0.180px #262626;left:530.9px;width:120px;text-align:right;top:149px;transform:scaleX(0.88);transform-origin:100% 0;">0.00</div>
<div class="x" style="font-size:7px;line-height:7px;color:#262626;-webkit-text-stroke:0.180px #262626;left:570.5px;width:120px;text-align:right;top:149px;transform:scaleX(0.88);transform-origin:100% 0;">13</div>
<div class="cb" style="left:705.00px;top:148.00px"></div>
<div class="cb" style="left:746.00px;top:148.00px"></div>
<div style="left:90px;top:157px;width:11px;height:9px;background:#f3f3f3;border-top:1px solid #555;border-right:1px solid #4a4a4a"></div>
<div style="left:101px;top:157px;width:47px;height:9px;background:#0880c6;border-top:1px solid #70a6c8"></div>
<div class="x" style="font-size:7px;line-height:7px;color:#cde5fb;-webkit-text-stroke:0.110px #cde5fb;left:102px;top:158px;transform:scaleX(0.9);transform-origin:0 0;">10</div>
<div style="left:148px;top:157px;width:10px;height:9px;background:#d3d3d3;border-top:1px solid #c0c0c0;border-right:1px solid #a8a8a8;border-left:1px solid #cdcdcd"><svg width="9" height="9" style="position:absolute;left:-1px;top:-1px"><path d="M2.7 5.1 L5.0 7 L7.3 5.1" fill="none" stroke="#a6a6a6" stroke-width="0.8"/></svg></div>
<div style="left:159.5px;top:157px;width:82px;height:9px;background:#fff;border-top:1px solid #d4d4d4;border-left:1px solid #d4d4d4;border-right:1px solid #cfcfcf"></div>
<div class="x" style="font-size:7px;line-height:7px;color:#356ce6;-webkit-text-stroke:0.030px #356ce6;left:161px;top:158px;transform:scaleX(0.85);transform-origin:0 0;">LECOQ, Gilles</div>
<div class="cb" style="left:254.00px;top:157.00px"><svg width="8" height="8" style="position:absolute;left:-1px;top:-1px"><path d="M1.7 3.7 L3.6 5.6 L6.6 2.2" fill="none" stroke="#5e5e5e" stroke-width="1.1"/></svg></div>
<div class="cb" style="left:295.00px;top:157.00px"><svg width="8" height="8" style="position:absolute;left:-1px;top:-1px"><path d="M1.7 3.7 L3.6 5.6 L6.6 2.2" fill="none" stroke="#5e5e5e" stroke-width="1.1"/></svg></div>
<div style="left:320.5px;top:157px;width:41px;height:9px;background:#dde9f5;border-right:1px solid #c2c4c8;border-top:1px solid #c2c4c8;"></div>
<div style="left:361.5px;top:157px;width:41px;height:9px;background:#dde9f5;border-right:1px solid #c2c4c8;border-top:1px solid #c2c4c8;"></div>
<div style="left:402.5px;top:157px;width:41px;height:9px;background:#dde9f5;border-right:1px solid #c2c4c8;border-top:1px solid #c2c4c8;"></div>
<div style="left:443.2px;top:157px;width:9px;height:9px;background:#e4e4e4;border-top:1px solid #c0c0c0;border-right:1px solid #9c9c9c;border-left:1px solid #b8b8b8"><svg width="9" height="9" style="position:absolute;left:-1px;top:-1px"><path d="M2.2 5.1 L4.5 7 L6.8 5.1" fill="none" stroke="#585858" stroke-width="1.0"/></svg></div>
<div style="left:452px;top:157px;width:50px;height:9px;background:#dde9f5;border-right:1px solid #c2c4c8;border-top:1px solid #c2c4c8;"></div>
<div style="left:502px;top:157px;width:50px;height:9px;background:#dde9f5;border-right:1px solid #c2c4c8;border-top:1px solid #c2c4c8;"></div>
<div style="left:552px;top:157px;width:50px;height:9px;background:#dde9f5;border-right:1px solid #c2c4c8;border-top:1px solid #c2c4c8;"></div>
<div style="left:602px;top:157px;width:49.5px;height:9px;background:#dde9f5;border-right:1px solid #c2c4c8;border-top:1px solid #c2c4c8;"></div>
<div style="left:651.5px;top:157px;width:41.5px;height:9px;background:#dde9f5;border-right:1px solid #c2c4c8;border-top:1px solid #c2c4c8;"></div>
<div class="x" style="font-size:7px;line-height:7px;color:#262626;letter-spacing:0.05px;-webkit-text-stroke:0.180px #262626;left:362.8px;top:158px;transform:scaleX(0.92);transform-origin:0 0;">01/07/2017</div>
<div class="x" style="font-size:7px;line-height:7px;color:#262626;-webkit-text-stroke:0.180px #262626;left:322.9px;width:120px;text-align:right;top:158px;transform:scaleX(0.88);transform-origin:100% 0;">300,000.00</div>
<div class="x" style="font-size:7px;line-height:7px;color:#262626;-webkit-text-stroke:0.180px #262626;left:381.6px;width:120px;text-align:right;top:158px;transform:scaleX(0.88);transform-origin:100% 0;">0.00</div>
<div class="x" style="font-size:7px;line-height:7px;color:#262626;-webkit-text-stroke:0.180px #262626;left:431.6px;width:120px;text-align:right;top:158px;transform:scaleX(0.88);transform-origin:100% 0;">0.00</div>
<div class="x" style="font-size:7px;line-height:7px;color:#262626;-webkit-text-stroke:0.180px #262626;left:481.6px;width:120px;text-align:right;top:158px;transform:scaleX(0.88);transform-origin:100% 0;">0.00</div>
<div class="x" style="font-size:7px;line-height:7px;color:#262626;-webkit-text-stroke:0.180px #262626;left:530.9px;width:120px;text-align:right;top:158px;transform:scaleX(0.88);transform-origin:100% 0;">0.00</div>
<div class="x" style="font-size:7px;line-height:7px;color:#262626;-webkit-text-stroke:0.180px #262626;left:570.5px;width:120px;text-align:right;top:158px;transform:scaleX(0.88);transform-origin:100% 0;">13</div>
<div class="cb" style="left:705.00px;top:157.00px"></div>
<div class="cb" style="left:746.00px;top:157.00px"></div>
<div style="left:90px;top:166px;width:11px;height:9px;background:#f3f3f3;border-top:1px solid #555;border-right:1px solid #4a4a4a"></div>
<div style="left:101px;top:166px;width:47px;height:9px;background:#0880c6;border-top:1px solid #70a6c8"></div>
<div class="x" style="font-size:7px;line-height:7px;color:#cde5fb;-webkit-text-stroke:0.110px #cde5fb;left:102px;top:167px;transform:scaleX(0.9);transform-origin:0 0;">11</div>
<div style="left:148px;top:166px;width:10px;height:9px;background:#d3d3d3;border-top:1px solid #c0c0c0;border-right:1px solid #a8a8a8;border-left:1px solid #cdcdcd"><svg width="9" height="9" style="position:absolute;left:-1px;top:-1px"><path d="M2.7 5.1 L5.0 7 L7.3 5.1" fill="none" stroke="#a6a6a6" stroke-width="0.8"/></svg></div>
<div style="left:159.5px;top:166px;width:82px;height:9px;background:#fff;border-top:1px solid #d4d4d4;border-left:1px solid #d4d4d4;border-right:1px solid #cfcfcf"></div>
<div class="x" style="font-size:7px;line-height:7px;color:#356ce6;-webkit-text-stroke:0.030px #356ce6;left:161px;top:167px;transform:scaleX(0.85);transform-origin:0 0;">ADRIEN, JEROME</div>
<div class="cb" style="left:254.00px;top:166.00px"></div>
<div class="cb" style="left:295.00px;top:166.00px"><svg width="8" height="8" style="position:absolute;left:-1px;top:-1px"><path d="M1.7 3.7 L3.6 5.6 L6.6 2.2" fill="none" stroke="#5e5e5e" stroke-width="1.1"/></svg></div>
<div style="left:320.5px;top:166px;width:41px;height:9px;background:#dde9f5;border-right:1px solid #c2c4c8;border-top:1px solid #c2c4c8;"></div>
<div style="left:361.5px;top:166px;width:41px;height:9px;background:#dde9f5;border-right:1px solid #c2c4c8;border-top:1px solid #c2c4c8;"></div>
<div style="left:402.5px;top:166px;width:41px;height:9px;background:#dde9f5;border-right:1px solid #c2c4c8;border-top:1px solid #c2c4c8;"></div>
<div style="left:443.2px;top:166px;width:9px;height:9px;background:#e4e4e4;border-top:1px solid #c0c0c0;border-right:1px solid #9c9c9c;border-left:1px solid #b8b8b8"><svg width="9" height="9" style="position:absolute;left:-1px;top:-1px"><path d="M2.2 5.1 L4.5 7 L6.8 5.1" fill="none" stroke="#585858" stroke-width="1.0"/></svg></div>
<div style="left:452px;top:166px;width:50px;height:9px;background:#dde9f5;border-right:1px solid #c2c4c8;border-top:1px solid #c2c4c8;"></div>
<div style="left:502px;top:166px;width:50px;height:9px;background:#dde9f5;border-right:1px solid #c2c4c8;border-top:1px solid #c2c4c8;"></div>
<div style="left:552px;top:166px;width:50px;height:9px;background:#dde9f5;border-right:1px solid #c2c4c8;border-top:1px solid #c2c4c8;"></div>
<div style="left:602px;top:166px;width:49.5px;height:9px;background:#dde9f5;border-right:1px solid #c2c4c8;border-top:1px solid #c2c4c8;"></div>
<div style="left:651.5px;top:166px;width:41.5px;height:9px;background:#dde9f5;border-right:1px solid #c2c4c8;border-top:1px solid #c2c4c8;"></div>
<div class="x" style="font-size:7px;line-height:7px;color:#262626;-webkit-text-stroke:0.180px #262626;left:322.9px;width:120px;text-align:right;top:167px;transform:scaleX(0.88);transform-origin:100% 0;">0.00</div>
<div class="x" style="font-size:7px;line-height:7px;color:#262626;-webkit-text-stroke:0.180px #262626;left:381.6px;width:120px;text-align:right;top:167px;transform:scaleX(0.88);transform-origin:100% 0;">0.00</div>
<div class="x" style="font-size:7px;line-height:7px;color:#262626;-webkit-text-stroke:0.180px #262626;left:431.6px;width:120px;text-align:right;top:167px;transform:scaleX(0.88);transform-origin:100% 0;">0.00</div>
<div class="x" style="font-size:7px;line-height:7px;color:#262626;-webkit-text-stroke:0.180px #262626;left:481.6px;width:120px;text-align:right;top:167px;transform:scaleX(0.88);transform-origin:100% 0;">0.00</div>
<div class="x" style="font-size:7px;line-height:7px;color:#262626;-webkit-text-stroke:0.180px #262626;left:530.9px;width:120px;text-align:right;top:167px;transform:scaleX(0.88);transform-origin:100% 0;">0.00</div>
<div class="x" style="font-size:7px;line-height:7px;color:#262626;-webkit-text-stroke:0.180px #262626;left:570.5px;width:120px;text-align:right;top:167px;transform:scaleX(0.88);transform-origin:100% 0;">13</div>
<div class="cb" style="left:705.00px;top:166.00px"></div>
<div class="cb" style="left:746.00px;top:166.00px"></div>
<div style="left:90px;top:175px;width:11px;height:9px;background:#f3f3f3;border-top:1px solid #555;border-right:1px solid #4a4a4a"></div>
<div style="left:101px;top:175px;width:47px;height:9px;background:#0880c6;border-top:1px solid #70a6c8"></div>
<div class="x" style="font-size:7px;line-height:7px;color:#cde5fb;-webkit-text-stroke:0.110px #cde5fb;left:102px;top:176px;transform:scaleX(0.9);transform-origin:0 0;">12</div>
<div style="left:148px;top:175px;width:10px;height:9px;background:#d3d3d3;border-top:1px solid #c0c0c0;border-right:1px solid #a8a8a8;border-left:1px solid #cdcdcd"><svg width="9" height="9" style="position:absolute;left:-1px;top:-1px"><path d="M2.7 5.1 L5.0 7 L7.3 5.1" fill="none" stroke="#a6a6a6" stroke-width="0.8"/></svg></div>
<div style="left:159.5px;top:175px;width:82px;height:9px;background:#fff;border-top:1px solid #d4d4d4;border-left:1px solid #d4d4d4;border-right:1px solid #cfcfcf"></div>
<div class="x" style="font-size:7px;line-height:7px;color:#356ce6;-webkit-text-stroke:0.030px #356ce6;left:161px;top:176px;transform:scaleX(0.85);transform-origin:0 0;">PAUL, JEAN</div>
<div class="cb" style="left:254.00px;top:175.00px"></div>
<div class="cb" style="left:295.00px;top:175.00px"><svg width="8" height="8" style="position:absolute;left:-1px;top:-1px"><path d="M1.7 3.7 L3.6 5.6 L6.6 2.2" fill="none" stroke="#5e5e5e" stroke-width="1.1"/></svg></div>
<div style="left:320.5px;top:175px;width:41px;height:9px;background:#dde9f5;border-right:1px solid #c2c4c8;border-top:1px solid #c2c4c8;"></div>
<div style="left:361.5px;top:175px;width:41px;height:9px;background:#dde9f5;border-right:1px solid #c2c4c8;border-top:1px solid #c2c4c8;"></div>
<div style="left:402.5px;top:175px;width:41px;height:9px;background:#dde9f5;border-right:1px solid #c2c4c8;border-top:1px solid #c2c4c8;"></div>
<div style="left:443.2px;top:175px;width:9px;height:9px;background:#e4e4e4;border-top:1px solid #c0c0c0;border-right:1px solid #9c9c9c;border-left:1px solid #b8b8b8"><svg width="9" height="9" style="position:absolute;left:-1px;top:-1px"><path d="M2.2 5.1 L4.5 7 L6.8 5.1" fill="none" stroke="#585858" stroke-width="1.0"/></svg></div>
<div style="left:452px;top:175px;width:50px;height:9px;background:#dde9f5;border-right:1px solid #c2c4c8;border-top:1px solid #c2c4c8;"></div>
<div style="left:502px;top:175px;width:50px;height:9px;background:#dde9f5;border-right:1px solid #c2c4c8;border-top:1px solid #c2c4c8;"></div>
<div style="left:552px;top:175px;width:50px;height:9px;background:#dde9f5;border-right:1px solid #c2c4c8;border-top:1px solid #c2c4c8;"></div>
<div style="left:602px;top:175px;width:49.5px;height:9px;background:#dde9f5;border-right:1px solid #c2c4c8;border-top:1px solid #c2c4c8;"></div>
<div style="left:651.5px;top:175px;width:41.5px;height:9px;background:#dde9f5;border-right:1px solid #c2c4c8;border-top:1px solid #c2c4c8;"></div>
<div class="x" style="font-size:7px;line-height:7px;color:#262626;-webkit-text-stroke:0.180px #262626;left:322.9px;width:120px;text-align:right;top:176px;transform:scaleX(0.88);transform-origin:100% 0;">0.00</div>
<div class="x" style="font-size:7px;line-height:7px;color:#262626;-webkit-text-stroke:0.180px #262626;left:381.6px;width:120px;text-align:right;top:176px;transform:scaleX(0.88);transform-origin:100% 0;">0.00</div>
<div class="x" style="font-size:7px;line-height:7px;color:#262626;-webkit-text-stroke:0.180px #262626;left:431.6px;width:120px;text-align:right;top:176px;transform:scaleX(0.88);transform-origin:100% 0;">0.00</div>
<div class="x" style="font-size:7px;line-height:7px;color:#262626;-webkit-text-stroke:0.180px #262626;left:481.6px;width:120px;text-align:right;top:176px;transform:scaleX(0.88);transform-origin:100% 0;">0.00</div>
<div class="x" style="font-size:7px;line-height:7px;color:#262626;-webkit-text-stroke:0.180px #262626;left:530.9px;width:120px;text-align:right;top:176px;transform:scaleX(0.88);transform-origin:100% 0;">0.00</div>
<div class="x" style="font-size:7px;line-height:7px;color:#262626;-webkit-text-stroke:0.180px #262626;left:570.5px;width:120px;text-align:right;top:176px;transform:scaleX(0.88);transform-origin:100% 0;">13</div>
<div class="cb" style="left:705.00px;top:175.00px"></div>
<div class="cb" style="left:746.00px;top:175.00px"></div>
<div style="left:90px;top:184px;width:11px;height:9px;background:#f3f3f3;border-top:1px solid #555;border-right:1px solid #4a4a4a"></div>
<div style="left:101px;top:184px;width:47px;height:9px;background:#0880c6;border-top:1px solid #70a6c8"></div>
<div class="x" style="font-size:7px;line-height:7px;color:#cde5fb;-webkit-text-stroke:0.110px #cde5fb;left:102px;top:185px;transform:scaleX(0.9);transform-origin:0 0;">13</div>
<div style="left:148px;top:184px;width:10px;height:9px;background:#d3d3d3;border-top:1px solid #c0c0c0;border-right:1px solid #a8a8a8;border-left:1px solid #cdcdcd"><svg width="9" height="9" style="position:absolute;left:-1px;top:-1px"><path d="M2.7 5.1 L5.0 7 L7.3 5.1" fill="none" stroke="#a6a6a6" stroke-width="0.8"/></svg></div>
<div style="left:159.5px;top:184px;width:82px;height:9px;background:#fff;border-top:1px solid #d4d4d4;border-left:1px solid #d4d4d4;border-right:1px solid #cfcfcf"></div>
<div class="x" style="font-size:7px;line-height:7px;color:#356ce6;-webkit-text-stroke:0.030px #356ce6;left:161px;top:185px;transform:scaleX(0.85);transform-origin:0 0;">SUNOH, SYLVIO</div>
<div class="cb" style="left:254.00px;top:184.00px"><svg width="8" height="8" style="position:absolute;left:-1px;top:-1px"><path d="M1.7 3.7 L3.6 5.6 L6.6 2.2" fill="none" stroke="#5e5e5e" stroke-width="1.1"/></svg></div>
<div class="cb" style="left:295.00px;top:184.00px"><svg width="8" height="8" style="position:absolute;left:-1px;top:-1px"><path d="M1.7 3.7 L3.6 5.6 L6.6 2.2" fill="none" stroke="#5e5e5e" stroke-width="1.1"/></svg></div>
<div style="left:320.5px;top:184px;width:41px;height:9px;background:#dde9f5;border-right:1px solid #c2c4c8;border-top:1px solid #c2c4c8;"></div>
<div style="left:361.5px;top:184px;width:41px;height:9px;background:#dde9f5;border-right:1px solid #c2c4c8;border-top:1px solid #c2c4c8;"></div>
<div style="left:402.5px;top:184px;width:41px;height:9px;background:#dde9f5;border-right:1px solid #c2c4c8;border-top:1px solid #c2c4c8;"></div>
<div style="left:443.2px;top:184px;width:9px;height:9px;background:#e4e4e4;border-top:1px solid #c0c0c0;border-right:1px solid #9c9c9c;border-left:1px solid #b8b8b8"><svg width="9" height="9" style="position:absolute;left:-1px;top:-1px"><path d="M2.2 5.1 L4.5 7 L6.8 5.1" fill="none" stroke="#585858" stroke-width="1.0"/></svg></div>
<div style="left:452px;top:184px;width:50px;height:9px;background:#dde9f5;border-right:1px solid #c2c4c8;border-top:1px solid #c2c4c8;"></div>
<div style="left:502px;top:184px;width:50px;height:9px;background:#dde9f5;border-right:1px solid #c2c4c8;border-top:1px solid #c2c4c8;"></div>
<div style="left:552px;top:184px;width:50px;height:9px;background:#dde9f5;border-right:1px solid #c2c4c8;border-top:1px solid #c2c4c8;"></div>
<div style="left:602px;top:184px;width:49.5px;height:9px;background:#dde9f5;border-right:1px solid #c2c4c8;border-top:1px solid #c2c4c8;"></div>
<div style="left:651.5px;top:184px;width:41.5px;height:9px;background:#dde9f5;border-right:1px solid #c2c4c8;border-top:1px solid #c2c4c8;"></div>
<div class="x" style="font-size:7px;line-height:7px;color:#262626;letter-spacing:0.05px;-webkit-text-stroke:0.180px #262626;left:362.8px;top:185px;transform:scaleX(0.92);transform-origin:0 0;">01/07/2017</div>
<div class="x" style="font-size:7px;line-height:7px;color:#262626;-webkit-text-stroke:0.180px #262626;left:322.9px;width:120px;text-align:right;top:185px;transform:scaleX(0.88);transform-origin:100% 0;">300,000.00</div>
<div class="x" style="font-size:7px;line-height:7px;color:#262626;-webkit-text-stroke:0.180px #262626;left:381.6px;width:120px;text-align:right;top:185px;transform:scaleX(0.88);transform-origin:100% 0;">0.00</div>
<div class="x" style="font-size:7px;line-height:7px;color:#262626;-webkit-text-stroke:0.180px #262626;left:431.6px;width:120px;text-align:right;top:185px;transform:scaleX(0.88);transform-origin:100% 0;">0.00</div>
<div class="x" style="font-size:7px;line-height:7px;color:#262626;-webkit-text-stroke:0.180px #262626;left:481.6px;width:120px;text-align:right;top:185px;transform:scaleX(0.88);transform-origin:100% 0;">0.00</div>
<div class="x" style="font-size:7px;line-height:7px;color:#262626;-webkit-text-stroke:0.180px #262626;left:530.9px;width:120px;text-align:right;top:185px;transform:scaleX(0.88);transform-origin:100% 0;">0.00</div>
<div class="x" style="font-size:7px;line-height:7px;color:#262626;-webkit-text-stroke:0.180px #262626;left:570.5px;width:120px;text-align:right;top:185px;transform:scaleX(0.88);transform-origin:100% 0;">13</div>
<div class="cb" style="left:705.00px;top:184.00px"></div>
<div class="cb" style="left:746.00px;top:184.00px"></div>
<div style="left:90px;top:193px;width:11px;height:9px;background:#f3f3f3;border-top:1px solid #555;border-right:1px solid #4a4a4a"></div>
<div style="left:101px;top:193px;width:47px;height:9px;background:#0880c6;border-top:1px solid #70a6c8"></div>
<div class="x" style="font-size:7px;line-height:7px;color:#cde5fb;-webkit-text-stroke:0.110px #cde5fb;left:102px;top:194px;transform:scaleX(0.9);transform-origin:0 0;">14</div>
<div style="left:148px;top:193px;width:10px;height:9px;background:#d3d3d3;border-top:1px solid #c0c0c0;border-right:1px solid #a8a8a8;border-left:1px solid #cdcdcd"><svg width="9" height="9" style="position:absolute;left:-1px;top:-1px"><path d="M2.7 5.1 L5.0 7 L7.3 5.1" fill="none" stroke="#a6a6a6" stroke-width="0.8"/></svg></div>
<div style="left:159.5px;top:193px;width:82px;height:9px;background:#fff;border-top:1px solid #d4d4d4;border-left:1px solid #d4d4d4;border-right:1px solid #cfcfcf"></div>
<div class="x" style="font-size:7px;line-height:7px;color:#356ce6;-webkit-text-stroke:0.030px #356ce6;left:161px;top:194px;transform:scaleX(0.85);transform-origin:0 0;">JOHNSON, JIMMY</div>
<div class="cb" style="left:254.00px;top:193.00px"></div>
<div class="cb" style="left:295.00px;top:193.00px"><svg width="8" height="8" style="position:absolute;left:-1px;top:-1px"><path d="M1.7 3.7 L3.6 5.6 L6.6 2.2" fill="none" stroke="#5e5e5e" stroke-width="1.1"/></svg></div>
<div style="left:320.5px;top:193px;width:41px;height:9px;background:#dde9f5;border-right:1px solid #c2c4c8;border-top:1px solid #c2c4c8;"></div>
<div style="left:361.5px;top:193px;width:41px;height:9px;background:#dde9f5;border-right:1px solid #c2c4c8;border-top:1px solid #c2c4c8;"></div>
<div style="left:402.5px;top:193px;width:41px;height:9px;background:#dde9f5;border-right:1px solid #c2c4c8;border-top:1px solid #c2c4c8;"></div>
<div style="left:443.2px;top:193px;width:9px;height:9px;background:#e4e4e4;border-top:1px solid #c0c0c0;border-right:1px solid #9c9c9c;border-left:1px solid #b8b8b8"><svg width="9" height="9" style="position:absolute;left:-1px;top:-1px"><path d="M2.2 5.1 L4.5 7 L6.8 5.1" fill="none" stroke="#585858" stroke-width="1.0"/></svg></div>
<div style="left:452px;top:193px;width:50px;height:9px;background:#dde9f5;border-right:1px solid #c2c4c8;border-top:1px solid #c2c4c8;"></div>
<div style="left:502px;top:193px;width:50px;height:9px;background:#dde9f5;border-right:1px solid #c2c4c8;border-top:1px solid #c2c4c8;"></div>
<div style="left:552px;top:193px;width:50px;height:9px;background:#dde9f5;border-right:1px solid #c2c4c8;border-top:1px solid #c2c4c8;"></div>
<div style="left:602px;top:193px;width:49.5px;height:9px;background:#dde9f5;border-right:1px solid #c2c4c8;border-top:1px solid #c2c4c8;"></div>
<div style="left:651.5px;top:193px;width:41.5px;height:9px;background:#dde9f5;border-right:1px solid #c2c4c8;border-top:1px solid #c2c4c8;"></div>
<div class="x" style="font-size:7px;line-height:7px;color:#262626;-webkit-text-stroke:0.180px #262626;left:322.9px;width:120px;text-align:right;top:194px;transform:scaleX(0.88);transform-origin:100% 0;">0.00</div>
<div class="x" style="font-size:7px;line-height:7px;color:#262626;-webkit-text-stroke:0.180px #262626;left:381.6px;width:120px;text-align:right;top:194px;transform:scaleX(0.88);transform-origin:100% 0;">0.00</div>
<div class="x" style="font-size:7px;line-height:7px;color:#262626;-webkit-text-stroke:0.180px #262626;left:431.6px;width:120px;text-align:right;top:194px;transform:scaleX(0.88);transform-origin:100% 0;">0.00</div>
<div class="x" style="font-size:7px;line-height:7px;color:#262626;-webkit-text-stroke:0.180px #262626;left:481.6px;width:120px;text-align:right;top:194px;transform:scaleX(0.88);transform-origin:100% 0;">0.00</div>
<div class="x" style="font-size:7px;line-height:7px;color:#262626;-webkit-text-stroke:0.180px #262626;left:530.9px;width:120px;text-align:right;top:194px;transform:scaleX(0.88);transform-origin:100% 0;">0.00</div>
<div class="x" style="font-size:7px;line-height:7px;color:#262626;-webkit-text-stroke:0.180px #262626;left:570.5px;width:120px;text-align:right;top:194px;transform:scaleX(0.88);transform-origin:100% 0;">13</div>
<div class="cb" style="left:705.00px;top:193.00px"></div>
<div class="cb" style="left:746.00px;top:193.00px"></div>
<div style="left:90px;top:202px;width:11px;height:9px;background:#f3f3f3;border-top:1px solid #555;border-right:1px solid #4a4a4a"></div>
<div style="left:101px;top:202px;width:47px;height:9px;background:#0880c6;border-top:1px solid #70a6c8"></div>
<div class="x" style="font-size:7px;line-height:7px;color:#cde5fb;-webkit-text-stroke:0.110px #cde5fb;left:102px;top:203px;transform:scaleX(0.9);transform-origin:0 0;">15</div>
<div style="left:148px;top:202px;width:10px;height:9px;background:#d3d3d3;border-top:1px solid #c0c0c0;border-right:1px solid #a8a8a8;border-left:1px solid #cdcdcd"><svg width="9" height="9" style="position:absolute;left:-1px;top:-1px"><path d="M2.7 5.1 L5.0 7 L7.3 5.1" fill="none" stroke="#a6a6a6" stroke-width="0.8"/></svg></div>
<div style="left:159.5px;top:202px;width:82px;height:9px;background:#fff;border-top:1px solid #d4d4d4;border-left:1px solid #d4d4d4;border-right:1px solid #cfcfcf"></div>
<div class="x" style="font-size:7px;line-height:7px;color:#356ce6;-webkit-text-stroke:0.030px #356ce6;left:161px;top:203px;transform:scaleX(0.85);transform-origin:0 0;">JENNING, MARY</div>
<div class="cb" style="left:254.00px;top:202.00px"><svg width="8" height="8" style="position:absolute;left:-1px;top:-1px"><path d="M1.7 3.7 L3.6 5.6 L6.6 2.2" fill="none" stroke="#5e5e5e" stroke-width="1.1"/></svg></div>
<div class="cb" style="left:295.00px;top:202.00px"><svg width="8" height="8" style="position:absolute;left:-1px;top:-1px"><path d="M1.7 3.7 L3.6 5.6 L6.6 2.2" fill="none" stroke="#5e5e5e" stroke-width="1.1"/></svg></div>
<div style="left:320.5px;top:202px;width:41px;height:9px;background:#dde9f5;border-right:1px solid #c2c4c8;border-top:1px solid #c2c4c8;"></div>
<div style="left:361.5px;top:202px;width:41px;height:9px;background:#dde9f5;border-right:1px solid #c2c4c8;border-top:1px solid #c2c4c8;"></div>
<div style="left:402.5px;top:202px;width:41px;height:9px;background:#dde9f5;border-right:1px solid #c2c4c8;border-top:1px solid #c2c4c8;"></div>
<div style="left:443.2px;top:202px;width:9px;height:9px;background:#e4e4e4;border-top:1px solid #c0c0c0;border-right:1px solid #9c9c9c;border-left:1px solid #b8b8b8"><svg width="9" height="9" style="position:absolute;left:-1px;top:-1px"><path d="M2.2 5.1 L4.5 7 L6.8 5.1" fill="none" stroke="#585858" stroke-width="1.0"/></svg></div>
<div style="left:452px;top:202px;width:50px;height:9px;background:#dde9f5;border-right:1px solid #c2c4c8;border-top:1px solid #c2c4c8;"></div>
<div style="left:502px;top:202px;width:50px;height:9px;background:#dde9f5;border-right:1px solid #c2c4c8;border-top:1px solid #c2c4c8;"></div>
<div style="left:552px;top:202px;width:50px;height:9px;background:#dde9f5;border-right:1px solid #c2c4c8;border-top:1px solid #c2c4c8;"></div>
<div style="left:602px;top:202px;width:49.5px;height:9px;background:#dde9f5;border-right:1px solid #c2c4c8;border-top:1px solid #c2c4c8;"></div>
<div style="left:651.5px;top:202px;width:41.5px;height:9px;background:#dde9f5;border-right:1px solid #c2c4c8;border-top:1px solid #c2c4c8;"></div>
<div class="x" style="font-size:7px;line-height:7px;color:#262626;letter-spacing:0.05px;-webkit-text-stroke:0.180px #262626;left:362.8px;top:203px;transform:scaleX(0.92);transform-origin:0 0;">01/07/2017</div>
<div class="x" style="font-size:7px;line-height:7px;color:#262626;-webkit-text-stroke:0.180px #262626;left:322.9px;width:120px;text-align:right;top:203px;transform:scaleX(0.88);transform-origin:100% 0;">300,000.00</div>
<div class="x" style="font-size:7px;line-height:7px;color:#262626;-webkit-text-stroke:0.180px #262626;left:381.6px;width:120px;text-align:right;top:203px;transform:scaleX(0.88);transform-origin:100% 0;">0.00</div>
<div class="x" style="font-size:7px;line-height:7px;color:#262626;-webkit-text-stroke:0.180px #262626;left:431.6px;width:120px;text-align:right;top:203px;transform:scaleX(0.88);transform-origin:100% 0;">0.00</div>
<div class="x" style="font-size:7px;line-height:7px;color:#262626;-webkit-text-stroke:0.180px #262626;left:481.6px;width:120px;text-align:right;top:203px;transform:scaleX(0.88);transform-origin:100% 0;">0.00</div>
<div class="x" style="font-size:7px;line-height:7px;color:#262626;-webkit-text-stroke:0.180px #262626;left:530.9px;width:120px;text-align:right;top:203px;transform:scaleX(0.88);transform-origin:100% 0;">0.00</div>
<div class="x" style="font-size:7px;line-height:7px;color:#262626;-webkit-text-stroke:0.180px #262626;left:570.5px;width:120px;text-align:right;top:203px;transform:scaleX(0.88);transform-origin:100% 0;">13</div>
<div class="cb" style="left:705.00px;top:202.00px"></div>
<div class="cb" style="left:746.00px;top:202.00px"></div>
<div style="left:90px;top:211px;width:11px;height:10px;background:#f3f3f3;border-top:1px solid #555;border-right:1px solid #4a4a4a"></div>
<div style="left:101px;top:211px;width:47px;height:10px;background:#0880c6;border-top:1px solid #70a6c8"></div>
<div class="x" style="font-size:7px;line-height:7px;color:#cde5fb;-webkit-text-stroke:0.110px #cde5fb;left:102px;top:212px;transform:scaleX(0.9);transform-origin:0 0;">17</div>
<div style="left:148px;top:211px;width:10px;height:10px;background:#d3d3d3;border-top:1px solid #c0c0c0;border-right:1px solid #a8a8a8;border-left:1px solid #cdcdcd"><svg width="9" height="9" style="position:absolute;left:-1px;top:-1px"><path d="M2.7 5.1 L5.0 7 L7.3 5.1" fill="none" stroke="#a6a6a6" stroke-width="0.8"/></svg></div>
<div style="left:159.5px;top:211px;width:82px;height:10px;background:#fff;border-top:1px solid #d4d4d4;border-left:1px solid #d4d4d4;border-right:1px solid #cfcfcf"></div>
<div class="x" style="font-size:7px;line-height:7px;color:#356ce6;-webkit-text-stroke:0.030px #356ce6;left:161px;top:212px;transform:scaleX(0.85);transform-origin:0 0;">BROWNY, DEV</div>
<div class="cb" style="left:254.00px;top:211.00px"><svg width="8" height="8" style="position:absolute;left:-1px;top:-1px"><path d="M1.7 3.7 L3.6 5.6 L6.6 2.2" fill="none" stroke="#5e5e5e" stroke-width="1.1"/></svg></div>
<div class="cb" style="left:295.00px;top:211.00px"><svg width="8" height="8" style="position:absolute;left:-1px;top:-1px"><path d="M1.7 3.7 L3.6 5.6 L6.6 2.2" fill="none" stroke="#5e5e5e" stroke-width="1.1"/></svg></div>
<div style="left:320.5px;top:211px;width:41px;height:10px;background:#dde9f5;border-right:1px solid #c2c4c8;border-top:1px solid #c2c4c8;"></div>
<div style="left:361.5px;top:211px;width:41px;height:10px;background:#dde9f5;border-right:1px solid #c2c4c8;border-top:1px solid #c2c4c8;"></div>
<div style="left:402.5px;top:211px;width:41px;height:10px;background:#dde9f5;border-right:1px solid #c2c4c8;border-top:1px solid #c2c4c8;"></div>
<div style="left:443.2px;top:211px;width:9px;height:10px;background:#e4e4e4;border-top:1px solid #c0c0c0;border-right:1px solid #9c9c9c;border-left:1px solid #b8b8b8"><svg width="9" height="9" style="position:absolute;left:-1px;top:-1px"><path d="M2.2 5.1 L4.5 7 L6.8 5.1" fill="none" stroke="#585858" stroke-width="1.0"/></svg></div>
<div style="left:452px;top:211px;width:50px;height:10px;background:#dde9f5;border-right:1px solid #c2c4c8;border-top:1px solid #c2c4c8;"></div>
<div style="left:502px;top:211px;width:50px;height:10px;background:#dde9f5;border-right:1px solid #c2c4c8;border-top:1px solid #c2c4c8;"></div>
<div style="left:552px;top:211px;width:50px;height:10px;background:#dde9f5;border-right:1px solid #c2c4c8;border-top:1px solid #c2c4c8;"></div>
<div style="left:602px;top:211px;width:49.5px;height:10px;background:#dde9f5;border-right:1px solid #c2c4c8;border-top:1px solid #c2c4c8;"></div>
<div style="left:651.5px;top:211px;width:41.5px;height:10px;background:#dde9f5;border-right:1px solid #c2c4c8;border-top:1px solid #c2c4c8;"></div>
<div class="x" style="font-size:7px;line-height:7px;color:#262626;letter-spacing:0.05px;-webkit-text-stroke:0.180px #262626;left:362.8px;top:212px;transform:scaleX(0.92);transform-origin:0 0;">01/07/2017</div>
<div class="x" style="font-size:7px;line-height:7px;color:#262626;-webkit-text-stroke:0.180px #262626;left:322.9px;width:120px;text-align:right;top:212px;transform:scaleX(0.88);transform-origin:100% 0;">300,000.00</div>
<div class="x" style="font-size:7px;line-height:7px;color:#262626;-webkit-text-stroke:0.180px #262626;left:381.6px;width:120px;text-align:right;top:212px;transform:scaleX(0.88);transform-origin:100% 0;">0.00</div>
<div class="x" style="font-size:7px;line-height:7px;color:#262626;-webkit-text-stroke:0.180px #262626;left:431.6px;width:120px;text-align:right;top:212px;transform:scaleX(0.88);transform-origin:100% 0;">0.00</div>
<div class="x" style="font-size:7px;line-height:7px;color:#262626;-webkit-text-stroke:0.180px #262626;left:481.6px;width:120px;text-align:right;top:212px;transform:scaleX(0.88);transform-origin:100% 0;">0.00</div>
<div class="x" style="font-size:7px;line-height:7px;color:#262626;-webkit-text-stroke:0.180px #262626;left:530.9px;width:120px;text-align:right;top:212px;transform:scaleX(0.88);transform-origin:100% 0;">0.00</div>
<div class="x" style="font-size:7px;line-height:7px;color:#262626;-webkit-text-stroke:0.180px #262626;left:570.5px;width:120px;text-align:right;top:212px;transform:scaleX(0.88);transform-origin:100% 0;">13</div>
<div class="cb" style="left:705.00px;top:211.00px"></div>
<div class="cb" style="left:746.00px;top:211.00px"></div>
<div style="left:90px;top:221px;width:11px;height:9px;background:#f3f3f3;border-top:1px solid #555;border-right:1px solid #4a4a4a"></div>
<div style="left:101px;top:221px;width:47px;height:9px;background:#0880c6;border-top:1px solid #70a6c8"></div>
<div class="x" style="font-size:7px;line-height:7px;color:#cde5fb;-webkit-text-stroke:0.110px #cde5fb;left:102px;top:222px;transform:scaleX(0.9);transform-origin:0 0;">18</div>
<div style="left:148px;top:221px;width:10px;height:9px;background:#d3d3d3;border-top:1px solid #c0c0c0;border-right:1px solid #a8a8a8;border-left:1px solid #cdcdcd"><svg width="9" height="9" style="position:absolute;left:-1px;top:-1px"><path d="M2.7 5.1 L5.0 7 L7.3 5.1" fill="none" stroke="#a6a6a6" stroke-width="0.8"/></svg></div>
<div style="left:159.5px;top:221px;width:82px;height:9px;background:#fff;border-top:1px solid #d4d4d4;border-left:1px solid #d4d4d4;border-right:1px solid #cfcfcf"></div>
<div class="x" style="font-size:7px;line-height:7px;color:#356ce6;-webkit-text-stroke:0.030px #356ce6;left:161px;top:222px;transform:scaleX(0.85);transform-origin:0 0;">DENVER, JOHN</div>
<div class="cb" style="left:254.00px;top:221.00px"></div>
<div class="cb" style="left:295.00px;top:221.00px"><svg width="8" height="8" style="position:absolute;left:-1px;top:-1px"><path d="M1.7 3.7 L3.6 5.6 L6.6 2.2" fill="none" stroke="#5e5e5e" stroke-width="1.1"/></svg></div>
<div style="left:320.5px;top:221px;width:41px;height:9px;background:#dde9f5;border-right:1px solid #c2c4c8;border-top:1px solid #c2c4c8;"></div>
<div style="left:361.5px;top:221px;width:41px;height:9px;background:#dde9f5;border-right:1px solid #c2c4c8;border-top:1px solid #c2c4c8;"></div>
<div style="left:402.5px;top:221px;width:41px;height:9px;background:#dde9f5;border-right:1px solid #c2c4c8;border-top:1px solid #c2c4c8;"></div>
<div style="left:443.2px;top:221px;width:9px;height:9px;background:#e4e4e4;border-top:1px solid #c0c0c0;border-right:1px solid #9c9c9c;border-left:1px solid #b8b8b8"><svg width="9" height="9" style="position:absolute;left:-1px;top:-1px"><path d="M2.2 5.1 L4.5 7 L6.8 5.1" fill="none" stroke="#585858" stroke-width="1.0"/></svg></div>
<div style="left:452px;top:221px;width:50px;height:9px;background:#dde9f5;border-right:1px solid #c2c4c8;border-top:1px solid #c2c4c8;"></div>
<div style="left:502px;top:221px;width:50px;height:9px;background:#dde9f5;border-right:1px solid #c2c4c8;border-top:1px solid #c2c4c8;"></div>
<div style="left:552px;top:221px;width:50px;height:9px;background:#dde9f5;border-right:1px solid #c2c4c8;border-top:1px solid #c2c4c8;"></div>
<div style="left:602px;top:221px;width:49.5px;height:9px;background:#dde9f5;border-right:1px solid #c2c4c8;border-top:1px solid #c2c4c8;"></div>
<div style="left:651.5px;top:221px;width:41.5px;height:9px;background:#dde9f5;border-right:1px solid #c2c4c8;border-top:1px solid #c2c4c8;"></div>
<div class="x" style="font-size:7px;line-height:7px;color:#262626;-webkit-text-stroke:0.180px #262626;left:322.9px;width:120px;text-align:right;top:222px;transform:scaleX(0.88);transform-origin:100% 0;">0.00</div>
<div class="x" style="font-size:7px;line-height:7px;color:#262626;-webkit-text-stroke:0.180px #262626;left:381.6px;width:120px;text-align:right;top:222px;transform:scaleX(0.88);transform-origin:100% 0;">0.00</div>
<div class="x" style="font-size:7px;line-height:7px;color:#262626;-webkit-text-stroke:0.180px #262626;left:431.6px;width:120px;text-align:right;top:222px;transform:scaleX(0.88);transform-origin:100% 0;">0.00</div>
<div class="x" style="font-size:7px;line-height:7px;color:#262626;-webkit-text-stroke:0.180px #262626;left:481.6px;width:120px;text-align:right;top:222px;transform:scaleX(0.88);transform-origin:100% 0;">0.00</div>
<div class="x" style="font-size:7px;line-height:7px;color:#262626;-webkit-text-stroke:0.180px #262626;left:530.9px;width:120px;text-align:right;top:222px;transform:scaleX(0.88);transform-origin:100% 0;">0.00</div>
<div class="x" style="font-size:7px;line-height:7px;color:#262626;-webkit-text-stroke:0.180px #262626;left:570.5px;width:120px;text-align:right;top:222px;transform:scaleX(0.88);transform-origin:100% 0;">13</div>
<div class="cb" style="left:705.00px;top:221.00px"></div>
<div class="cb" style="left:746.00px;top:221.00px"></div>
<div style="left:90px;top:230px;width:11px;height:9px;background:#f3f3f3;border-top:1px solid #555;border-right:1px solid #4a4a4a"></div>
<div style="left:101px;top:230px;width:47px;height:9px;background:#0880c6;border-top:1px solid #70a6c8"></div>
<div class="x" style="font-size:7px;line-height:7px;color:#cde5fb;-webkit-text-stroke:0.110px #cde5fb;left:102px;top:231px;transform:scaleX(0.9);transform-origin:0 0;">19</div>
<div style="left:148px;top:230px;width:10px;height:9px;background:#d3d3d3;border-top:1px solid #c0c0c0;border-right:1px solid #a8a8a8;border-left:1px solid #cdcdcd"><svg width="9" height="9" style="position:absolute;left:-1px;top:-1px"><path d="M2.7 5.1 L5.0 7 L7.3 5.1" fill="none" stroke="#a6a6a6" stroke-width="0.8"/></svg></div>
<div style="left:159.5px;top:230px;width:82px;height:9px;background:#fff;border-top:1px solid #d4d4d4;border-left:1px solid #d4d4d4;border-right:1px solid #cfcfcf"></div>
<div class="x" style="font-size:7px;line-height:7px;color:#356ce6;-webkit-text-stroke:0.030px #356ce6;left:161px;top:231px;transform:scaleX(0.85);transform-origin:0 0;">SAFAR, ALI</div>
<div class="cb" style="left:254.00px;top:230.00px"></div>
<div class="cb" style="left:295.00px;top:230.00px"><svg width="8" height="8" style="position:absolute;left:-1px;top:-1px"><path d="M1.7 3.7 L3.6 5.6 L6.6 2.2" fill="none" stroke="#5e5e5e" stroke-width="1.1"/></svg></div>
<div style="left:320.5px;top:230px;width:41px;height:9px;background:#dde9f5;border-right:1px solid #c2c4c8;border-top:1px solid #c2c4c8;"></div>
<div style="left:361.5px;top:230px;width:41px;height:9px;background:#dde9f5;border-right:1px solid #c2c4c8;border-top:1px solid #c2c4c8;"></div>
<div style="left:402.5px;top:230px;width:41px;height:9px;background:#dde9f5;border-right:1px solid #c2c4c8;border-top:1px solid #c2c4c8;"></div>
<div style="left:443.2px;top:230px;width:9px;height:9px;background:#e4e4e4;border-top:1px solid #c0c0c0;border-right:1px solid #9c9c9c;border-left:1px solid #b8b8b8"><svg width="9" height="9" style="position:absolute;left:-1px;top:-1px"><path d="M2.2 5.1 L4.5 7 L6.8 5.1" fill="none" stroke="#585858" stroke-width="1.0"/></svg></div>
<div style="left:452px;top:230px;width:50px;height:9px;background:#dde9f5;border-right:1px solid #c2c4c8;border-top:1px solid #c2c4c8;"></div>
<div style="left:502px;top:230px;width:50px;height:9px;background:#dde9f5;border-right:1px solid #c2c4c8;border-top:1px solid #c2c4c8;"></div>
<div style="left:552px;top:230px;width:50px;height:9px;background:#dde9f5;border-right:1px solid #c2c4c8;border-top:1px solid #c2c4c8;"></div>
<div style="left:602px;top:230px;width:49.5px;height:9px;background:#dde9f5;border-right:1px solid #c2c4c8;border-top:1px solid #c2c4c8;"></div>
<div style="left:651.5px;top:230px;width:41.5px;height:9px;background:#dde9f5;border-right:1px solid #c2c4c8;border-top:1px solid #c2c4c8;"></div>
<div class="x" style="font-size:7px;line-height:7px;color:#262626;-webkit-text-stroke:0.180px #262626;left:322.9px;width:120px;text-align:right;top:231px;transform:scaleX(0.88);transform-origin:100% 0;">0.00</div>
<div class="x" style="font-size:7px;line-height:7px;color:#262626;-webkit-text-stroke:0.180px #262626;left:381.6px;width:120px;text-align:right;top:231px;transform:scaleX(0.88);transform-origin:100% 0;">0.00</div>
<div class="x" style="font-size:7px;line-height:7px;color:#262626;-webkit-text-stroke:0.180px #262626;left:431.6px;width:120px;text-align:right;top:231px;transform:scaleX(0.88);transform-origin:100% 0;">0.00</div>
<div class="x" style="font-size:7px;line-height:7px;color:#262626;-webkit-text-stroke:0.180px #262626;left:481.6px;width:120px;text-align:right;top:231px;transform:scaleX(0.88);transform-origin:100% 0;">0.00</div>
<div class="x" style="font-size:7px;line-height:7px;color:#262626;-webkit-text-stroke:0.180px #262626;left:530.9px;width:120px;text-align:right;top:231px;transform:scaleX(0.88);transform-origin:100% 0;">0.00</div>
<div class="x" style="font-size:7px;line-height:7px;color:#262626;-webkit-text-stroke:0.180px #262626;left:570.5px;width:120px;text-align:right;top:231px;transform:scaleX(0.88);transform-origin:100% 0;">13</div>
<div class="cb" style="left:705.00px;top:230.00px"></div>
<div class="cb" style="left:746.00px;top:230.00px"></div>
<div style="left:90px;top:239px;width:11px;height:9px;background:#f3f3f3;border-top:1px solid #555;border-right:1px solid #4a4a4a"><svg width="10" height="8" style="position:absolute;left:0;top:0"><g stroke="#444" stroke-width="0.6"><path d="M6.3 1V6.8M3.6 3.9H9M4.3 1.9L8.3 5.9M8.3 1.9L4.3 5.9"/></g><circle cx="6.3" cy="3.9" r="1.3" fill="#000"/></svg></div>
<div style="left:101px;top:239px;width:47px;height:9px;background:#0880c6;border-top:1px solid #70a6c8"></div>
<div style="left:148px;top:239px;width:10px;height:9px;background:#d3d3d3;border-top:1px solid #c0c0c0;border-right:1px solid #a8a8a8;border-left:1px solid #cdcdcd"><svg width="9" height="9" style="position:absolute;left:-1px;top:-1px"><path d="M2.7 5.1 L5.0 7 L7.3 5.1" fill="none" stroke="#a6a6a6" stroke-width="0.8"/></svg></div>
<div style="left:159.5px;top:239px;width:82px;height:9px;background:#fff;border-top:1px solid #d4d4d4;border-left:1px solid #d4d4d4;border-right:1px solid #cfcfcf"></div>
<div class="cb" style="left:254.00px;top:239.00px"></div>
<div class="cb" style="left:295.00px;top:239.00px"></div>
<div style="left:320.5px;top:239px;width:41px;height:9px;background:#dde9f5;border-right:1px solid #c2c4c8;border-top:1px solid #c2c4c8;"></div>
<div style="left:361.5px;top:239px;width:41px;height:9px;background:#dde9f5;border-right:1px solid #c2c4c8;border-top:1px solid #c2c4c8;"></div>
<div style="left:402.5px;top:239px;width:41px;height:9px;background:#dde9f5;border-right:1px solid #c2c4c8;border-top:1px solid #c2c4c8;"></div>
<div style="left:443.2px;top:239px;width:9px;height:9px;background:#e4e4e4;border-top:1px solid #c0c0c0;border-right:1px solid #9c9c9c;border-left:1px solid #b8b8b8"><svg width="9" height="9" style="position:absolute;left:-1px;top:-1px"><path d="M2.2 5.1 L4.5 7 L6.8 5.1" fill="none" stroke="#585858" stroke-width="1.0"/></svg></div>
<div style="left:452px;top:239px;width:50px;height:9px;background:#dde9f5;border-right:1px solid #c2c4c8;border-top:1px solid #c2c4c8;"></div>
<div style="left:502px;top:239px;width:50px;height:9px;background:#dde9f5;border-right:1px solid #c2c4c8;border-top:1px solid #c2c4c8;"></div>
<div style="left:552px;top:239px;width:50px;height:9px;background:#dde9f5;border-right:1px solid #c2c4c8;border-top:1px solid #c2c4c8;"></div>
<div style="left:602px;top:239px;width:49.5px;height:9px;background:#dde9f5;border-right:1px solid #c2c4c8;border-top:1px solid #c2c4c8;"></div>
<div style="left:651.5px;top:239px;width:41.5px;height:9px;background:#dde9f5;border-right:1px solid #c2c4c8;border-top:1px solid #c2c4c8;"></div>
<div class="x" style="font-size:7px;line-height:7px;color:#262626;-webkit-text-stroke:0.180px #262626;left:570.5px;width:120px;text-align:right;top:240px;transform:scaleX(0.88);transform-origin:100% 0;">13</div>
<div class="cb" style="left:705.00px;top:239.00px"></div>
<div class="cb" style="left:746.00px;top:239.00px"></div>
<div style="left:90px;top:248px;width:11px;height:1px;background:#555"></div>
<svg width="19" height="19" style="position:absolute;left:43px;top:79px" viewBox="0 0 19 19"><defs><linearGradient id="hga" x1="0" y1="0" x2="0" y2="1"><stop offset="0" stop-color="#f4faff"/><stop offset="0.55" stop-color="#c4e0f8"/><stop offset="1" stop-color="#7fbcee"/></linearGradient></defs><path d="M1.3 17.2 C1.3 13.6 3.6 12 6.6 11.5 L11.4 11.5 C14.4 12 16.3 13.6 16.3 17.2 Z" fill="#f39a20" stroke="#3f7fc6" stroke-width="0.9"/><path d="M6 11.8 C6.6 13.2 11.4 13.2 12 11.8 L11 10.8 L7 10.8 Z" fill="#a9d2f4" stroke="#5a9ad8" stroke-width="0.5"/><path d="M9 1.2 C12 1.2 13.5 4 13.5 6.5 C13.5 9.3 11.5 12.3 9 12.3 C6.5 12.3 4.5 9.3 4.5 6.5 C4.5 4 6 1.2 9 1.2 Z" fill="url(#hga)" stroke="#4a8fd6" stroke-width="0.9"/><circle cx="3.8" cy="16.6" r="0.6" fill="#2f6fb8"/><circle cx="14.2" cy="16.6" r="0.6" fill="#2f6fb8"/></svg>
<div class="x" style="font-size:7px;line-height:7px;color:#1e1e1e;-webkit-text-stroke:0.140px #1e1e1e;left:-8.0px;width:120px;text-align:center;top:99px;transform:scaleX(0.84);transform-origin:50% 0;">Employee</div>
<svg width="19" height="19" style="position:absolute;left:43px;top:112px" viewBox="0 0 19 19"><defs><linearGradient id="hgb" x1="0" y1="0" x2="0" y2="1"><stop offset="0" stop-color="#f4faff"/><stop offset="0.55" stop-color="#c4e0f8"/><stop offset="1" stop-color="#7fbcee"/></linearGradient></defs><path d="M1.3 17.2 C1.3 13.6 3.6 12 6.6 11.5 L11.4 11.5 C14.4 12 16.3 13.6 16.3 17.2 Z" fill="#f39a20" stroke="#3f7fc6" stroke-width="0.9"/><path d="M6 11.8 C6.6 13.2 11.4 13.2 12 11.8 L11 10.8 L7 10.8 Z" fill="#a9d2f4" stroke="#5a9ad8" stroke-width="0.5"/><path d="M9 1.2 C12 1.2 13.5 4 13.5 6.5 C13.5 9.3 11.5 12.3 9 12.3 C6.5 12.3 4.5 9.3 4.5 6.5 C4.5 4 6 1.2 9 1.2 Z" fill="url(#hgb)" stroke="#4a8fd6" stroke-width="0.9"/><circle cx="3.8" cy="16.6" r="0.6" fill="#2f6fb8"/><circle cx="14.2" cy="16.6" r="0.6" fill="#2f6fb8"/></svg>
<div class="x" style="font-size:7px;line-height:7px;color:#1e1e1e;-webkit-text-stroke:0.140px #1e1e1e;left:-8.0px;width:120px;text-align:center;top:133px;transform:scaleX(0.84);transform-origin:50% 0;">Employees grid</div>
<svg width="19" height="19" style="position:absolute;left:43px;top:145.5px" viewBox="0 0 19 19"><defs><linearGradient id="hgc" x1="0" y1="0" x2="0" y2="1"><stop offset="0" stop-color="#f4faff"/><stop offset="0.55" stop-color="#c4e0f8"/><stop offset="1" stop-color="#7fbcee"/></linearGradient></defs><path d="M1.3 17.2 C1.3 13.6 3.6 12 6.6 11.5 L11.4 11.5 C14.4 12 16.3 13.6 16.3 17.2 Z" fill="#f39a20" stroke="#3f7fc6" stroke-width="0.9"/><path d="M6 11.8 C6.6 13.2 11.4 13.2 12 11.8 L11 10.8 L7 10.8 Z" fill="#a9d2f4" stroke="#5a9ad8" stroke-width="0.5"/><path d="M9 1.2 C12 1.2 13.5 4 13.5 6.5 C13.5 9.3 11.5 12.3 9 12.3 C6.5 12.3 4.5 9.3 4.5 6.5 C4.5 4 6 1.2 9 1.2 Z" fill="url(#hgc)" stroke="#4a8fd6" stroke-width="0.9"/><circle cx="3.8" cy="16.6" r="0.6" fill="#2f6fb8"/><circle cx="14.2" cy="16.6" r="0.6" fill="#2f6fb8"/></svg>
<div class="x" style="font-size:7px;line-height:7px;color:#1e1e1e;-webkit-text-stroke:0.140px #1e1e1e;left:-8.0px;width:120px;text-align:center;top:166px;transform:scaleX(0.84);transform-origin:50% 0;">Employee conditions</div>
<svg width="19" height="19" style="position:absolute;left:43px;top:179.5px" viewBox="0 0 19 19"><defs><linearGradient id="hgd" x1="0" y1="0" x2="0" y2="1"><stop offset="0" stop-color="#f4faff"/><stop offset="0.55" stop-color="#c4e0f8"/><stop offset="1" stop-color="#7fbcee"/></linearGradient></defs><path d="M1.3 17.2 C1.3 13.6 3.6 12 6.6 11.5 L11.4 11.5 C14.4 12 16.3 13.6 16.3 17.2 Z" fill="#f39a20" stroke="#3f7fc6" stroke-width="0.9"/><path d="M6 11.8 C6.6 13.2 11.4 13.2 12 11.8 L11 10.8 L7 10.8 Z" fill="#a9d2f4" stroke="#5a9ad8" stroke-width="0.5"/><path d="M9 1.2 C12 1.2 13.5 4 13.5 6.5 C13.5 9.3 11.5 12.3 9 12.3 C6.5 12.3 4.5 9.3 4.5 6.5 C4.5 4 6 1.2 9 1.2 Z" fill="url(#hgd)" stroke="#4a8fd6" stroke-width="0.9"/><circle cx="3.8" cy="16.6" r="0.6" fill="#2f6fb8"/><circle cx="14.2" cy="16.6" r="0.6" fill="#2f6fb8"/></svg>
<div class="x" style="font-size:7px;line-height:7px;color:#1e1e1e;-webkit-text-stroke:0.140px #1e1e1e;left:-8.0px;width:120px;text-align:center;top:200px;transform:scaleX(0.84);transform-origin:50% 0;">Employee payment</div>
<div class="x" style="font-size:7px;line-height:7px;color:#1e1e1e;-webkit-text-stroke:0.140px #1e1e1e;left:-8.0px;width:120px;text-align:center;top:207px;transform:scaleX(0.84);transform-origin:50% 0;">modes</div>
<svg width="19" height="19" style="position:absolute;left:43px;top:220px" viewBox="0 0 19 19"><defs><linearGradient id="hge" x1="0" y1="0" x2="0" y2="1"><stop offset="0" stop-color="#f4faff"/><stop offset="0.55" stop-color="#c4e0f8"/><stop offset="1" stop-color="#7fbcee"/></linearGradient></defs><path d="M1.3 17.2 C1.3 13.6 3.6 12 6.6 11.5 L11.4 11.5 C14.4 12 16.3 13.6 16.3 17.2 Z" fill="#f39a20" stroke="#3f7fc6" stroke-width="0.9"/><path d="M6 11.8 C6.6 13.2 11.4 13.2 12 11.8 L11 10.8 L7 10.8 Z" fill="#a9d2f4" stroke="#5a9ad8" stroke-width="0.5"/><path d="M9 1.2 C12 1.2 13.5 4 13.5 6.5 C13.5 9.3 11.5 12.3 9 12.3 C6.5 12.3 4.5 9.3 4.5 6.5 C4.5 4 6 1.2 9 1.2 Z" fill="url(#hge)" stroke="#4a8fd6" stroke-width="0.9"/><circle cx="3.8" cy="16.6" r="0.6" fill="#2f6fb8"/><circle cx="14.2" cy="16.6" r="0.6" fill="#2f6fb8"/><rect x="9.2" y="9.6" width="8.4" height="8.2" fill="#fbf8ee" stroke="#8f7f55" stroke-width="0.7"/><rect x="9.2" y="9.6" width="8.4" height="2" fill="#3b87d6"/><text x="13.4" y="16.7" font-size="5.4" font-weight="bold" text-anchor="middle" fill="#1b2c60" font-family="Liberation Sans">17</text></svg>
<div class="x" style="font-size:7px;line-height:7px;color:#1e1e1e;-webkit-text-stroke:0.140px #1e1e1e;left:-8.0px;width:120px;text-align:center;top:240px;transform:scaleX(0.84);transform-origin:50% 0;">Employee EDF</div>
<div style="left:23px;top:253px;width:748px;height:203px;background:#dae7f4"></div>
<div style="left:29.5px;top:254.5px;width:704.5px;height:10.5px;background:#e6eef8;border:1px solid #9380c8;border-radius:1.5px"></div>
<div class="x" style="font-size:7px;line-height:7px;color:#0e0e82;font-weight:bold;letter-spacing:0.17px;-webkit-text-stroke:0.270px #0e0e82;left:31.2px;top:256px;transform:scaleX(0.9);transform-origin:0 0;">Employee EDF</div>
<div style="left:28px;top:266px;width:743px;height:190px;background:#fff"></div>
<div style="left:28px;top:266px;width:743px;height:25px;background:#c4ddf8"></div>
<div class="x" style="font-size:7px;line-height:7px;color:#141414;font-weight:bold;letter-spacing:0.15px;-webkit-text-stroke:0.170px #141414;left:11.299999999999997px;width:90px;text-align:center;top:267px;transform:scaleX(0.94);transform-origin:50% 0;">Work</div>
<div class="x" style="font-size:7px;line-height:7px;color:#141414;font-weight:bold;letter-spacing:0.15px;-webkit-text-stroke:0.170px #141414;left:11.299999999999997px;width:90px;text-align:center;top:275px;transform:scaleX(0.94);transform-origin:50% 0;">permit date</div>
<div class="x" style="font-size:7px;line-height:7px;color:#141414;font-weight:bold;letter-spacing:0.15px;-webkit-text-stroke:0.170px #141414;left:52.5px;width:90px;text-align:center;top:267px;transform:scaleX(0.94);transform-origin:50% 0;">E.D.F. date</div>
<div class="x" style="font-size:7px;line-height:7px;color:#141414;font-weight:bold;letter-spacing:0.15px;-webkit-text-stroke:0.170px #141414;left:97.5px;width:90px;text-align:center;top:267px;transform:scaleX(0.94);transform-origin:50% 0;">3.1 Income</div>
<div class="x" style="font-size:7px;line-height:7px;color:#141414;font-weight:bold;letter-spacing:0.15px;-webkit-text-stroke:0.170px #141414;left:97.5px;width:90px;text-align:center;top:275px;transform:scaleX(0.94);transform-origin:50% 0;">Exemption</div>
<div class="x" style="font-size:7px;line-height:7px;color:#141414;font-weight:bold;letter-spacing:0.15px;-webkit-text-stroke:0.170px #141414;left:97.5px;width:90px;text-align:center;top:282px;transform:scaleX(0.94);transform-origin:50% 0;">Threshold</div>
<div class="x" style="font-size:7px;line-height:7px;color:#141414;font-weight:bold;letter-spacing:0.15px;-webkit-text-stroke:0.170px #141414;left:147.5px;width:90px;text-align:center;top:267px;transform:scaleX(0.94);transform-origin:50% 0;">3.2 Additional</div>
<div class="x" style="font-size:7px;line-height:7px;color:#141414;font-weight:bold;letter-spacing:0.15px;-webkit-text-stroke:0.170px #141414;left:147.5px;width:90px;text-align:center;top:275px;transform:scaleX(0.94);transform-origin:50% 0;">Exemption</div>
<div class="x" style="font-size:7px;line-height:7px;color:#141414;font-weight:bold;letter-spacing:0.15px;-webkit-text-stroke:0.170px #141414;left:197.5px;width:90px;text-align:center;top:267px;transform:scaleX(0.94);transform-origin:50% 0;">3.3 Interest</div>
<div class="x" style="font-size:7px;line-height:7px;color:#141414;font-weight:bold;letter-spacing:0.15px;-webkit-text-stroke:0.170px #141414;left:197.5px;width:90px;text-align:center;top:275px;transform:scaleX(0.94);transform-origin:50% 0;">Relief</div>
<div class="x" style="font-size:7px;line-height:7px;color:#141414;font-weight:bold;letter-spacing:0.15px;-webkit-text-stroke:0.170px #141414;left:246.5px;width:90px;text-align:center;top:267px;transform:scaleX(0.94);transform-origin:50% 0;">3.4 Relief for</div>
<div class="x" style="font-size:7px;line-height:7px;color:#141414;font-weight:bold;letter-spacing:0.15px;-webkit-text-stroke:0.170px #141414;left:246.5px;width:90px;text-align:center;top:275px;transform:scaleX(0.94);transform-origin:50% 0;">Med or Health</div>
<div class="x" style="font-size:7px;line-height:7px;color:#141414;font-weight:bold;letter-spacing:0.15px;-webkit-text-stroke:0.170px #141414;left:246.5px;width:90px;text-align:center;top:282px;transform:scaleX(0.94);transform-origin:50% 0;">Ins. Premium</div>
<div class="x" style="font-size:7px;line-height:7px;color:#141414;font-weight:bold;letter-spacing:0.15px;-webkit-text-stroke:0.170px #141414;left:297.0px;width:90px;text-align:center;top:267px;transform:scaleX(0.94);transform-origin:50% 0;">3.5 Deduction</div>
<div class="x" style="font-size:7px;line-height:7px;color:#141414;font-weight:bold;letter-spacing:0.15px;-webkit-text-stroke:0.170px #141414;left:297.0px;width:90px;text-align:center;top:275px;transform:scaleX(0.94);transform-origin:50% 0;">for household</div>
<div class="x" style="font-size:7px;line-height:7px;color:#141414;font-weight:bold;letter-spacing:0.15px;-webkit-text-stroke:0.170px #141414;left:297.0px;width:90px;text-align:center;top:282px;transform:scaleX(0.94);transform-origin:50% 0;">employees</div>
<div class="x" style="font-size:7px;line-height:7px;color:#141414;font-weight:bold;letter-spacing:0.15px;-webkit-text-stroke:0.170px #141414;left:343.0px;width:90px;text-align:center;top:267px;transform:scaleX(0.94);transform-origin:50% 0;">EDF divider</div>
<div class="x" style="font-size:7px;line-height:7px;color:#141414;font-weight:bold;letter-spacing:0.15px;-webkit-text-stroke:0.170px #141414;left:383.0px;width:90px;text-align:center;top:267px;transform:scaleX(0.94);transform-origin:50% 0;">First</div>
<div class="x" style="font-size:7px;line-height:7px;color:#141414;font-weight:bold;letter-spacing:0.15px;-webkit-text-stroke:0.170px #141414;left:383.0px;width:90px;text-align:center;top:275px;transform:scaleX(0.94);transform-origin:50% 0;">employment</div>
<div class="x" style="font-size:7px;line-height:7px;color:#141414;font-weight:bold;letter-spacing:0.15px;-webkit-text-stroke:0.170px #141414;left:424.5px;width:90px;text-align:center;top:267px;transform:scaleX(0.94);transform-origin:50% 0;">Pensioner</div>
<div class="x" style="font-size:7px;line-height:7px;color:#141414;font-weight:bold;letter-spacing:0.15px;-webkit-text-stroke:0.170px #141414;left:465.0px;width:90px;text-align:center;top:267px;transform:scaleX(0.94);transform-origin:50% 0;">Tax</div>
<div class="x" style="font-size:7px;line-height:7px;color:#141414;font-weight:bold;letter-spacing:0.15px;-webkit-text-stroke:0.170px #141414;left:465.0px;width:90px;text-align:center;top:275px;transform:scaleX(0.94);transform-origin:50% 0;">exemption</div>
<div class="x" style="font-size:7px;line-height:7px;color:#141414;font-weight:bold;letter-spacing:0.15px;-webkit-text-stroke:0.170px #141414;left:505.0px;width:90px;text-align:center;top:267px;transform:scaleX(0.94);transform-origin:50% 0;">Tax credit</div>
<div class="x" style="font-size:7px;line-height:7px;color:#141414;font-weight:bold;letter-spacing:0.15px;-webkit-text-stroke:0.170px #141414;left:505.0px;width:90px;text-align:center;top:275px;transform:scaleX(0.94);transform-origin:50% 0;">%</div>
<div class="x" style="font-size:7px;line-height:7px;color:#141414;font-weight:bold;letter-spacing:0.15px;-webkit-text-stroke:0.170px #141414;left:545.5px;width:90px;text-align:center;top:267px;transform:scaleX(0.94);transform-origin:50% 0;">Apply</div>
<div class="x" style="font-size:7px;line-height:7px;color:#141414;font-weight:bold;letter-spacing:0.15px;-webkit-text-stroke:0.170px #141414;left:545.5px;width:90px;text-align:center;top:275px;transform:scaleX(0.94);transform-origin:50% 0;">exemption</div>
<div class="x" style="font-size:7px;line-height:7px;color:#141414;font-weight:bold;letter-spacing:0.15px;-webkit-text-stroke:0.170px #141414;left:545.5px;width:90px;text-align:center;top:282px;transform:scaleX(0.94);transform-origin:50% 0;">threshold</div>
<div class="x" style="font-size:7px;line-height:7px;color:#141414;font-weight:bold;letter-spacing:0.15px;-webkit-text-stroke:0.170px #141414;left:587.5px;width:90px;text-align:center;top:267px;transform:scaleX(0.94);transform-origin:50% 0;">Tax on tax</div>
<div class="x" style="font-size:7px;line-height:7px;color:#141414;font-weight:bold;letter-spacing:0.15px;-webkit-text-stroke:0.170px #141414;left:645.5px;width:90px;text-align:center;top:267px;transform:scaleX(0.94);transform-origin:50% 0;">Formula</div>
<div class="x" style="font-size:7px;line-height:7px;color:#141414;font-weight:bold;letter-spacing:0.15px;-webkit-text-stroke:0.170px #141414;left:703.0px;width:90px;text-align:center;top:267px;transform:scaleX(0.94);transform-origin:50% 0;">PAYE Er %</div>
<div style="left:28px;top:291px;width:11px;height:9px;background:#f3f3f3;border-top:1px solid #555;border-right:1px solid #4a4a4a"><svg width="10" height="8" style="position:absolute;left:0;top:0"><path d="M5 0.9 L8.6 4 L5 7.2Z" fill="#000"/></svg></div>
<div style="left:39px;top:291px;width:38.5px;height:9px;background:#dde9f5;border-right:1px solid #c2c4c8;border-top:1px solid #c2c4c8;"></div>
<div style="left:77.5px;top:291px;width:41px;height:9px;background:#dde9f5;border-right:1px solid #c2c4c8;border-top:1px solid #c2c4c8;"></div>
<div style="left:118.5px;top:291px;width:40.5px;height:9px;background:#dde9f5;border-right:1px solid #c2c4c8;border-top:1px solid #c2c4c8;"></div>
<div style="left:159px;top:291px;width:9.5px;height:9px;background:#e4e4e4;border-top:1px solid #c0c0c0;border-right:1px solid #9c9c9c;border-left:1px solid #b8b8b8"><svg width="9" height="9" style="position:absolute;left:-1px;top:-1px"><path d="M2.45 5.1 L4.75 7 L7.05 5.1" fill="none" stroke="#585858" stroke-width="1.0"/></svg></div>
<div style="left:168.5px;top:291px;width:50px;height:9px;background:#dde9f5;border-right:1px solid #c2c4c8;border-top:1px solid #c2c4c8;"></div>
<div style="left:218.5px;top:291px;width:49.5px;height:9px;background:#dde9f5;border-right:1px solid #c2c4c8;border-top:1px solid #c2c4c8;"></div>
<div style="left:268px;top:291px;width:50px;height:9px;background:#dde9f5;border-right:1px solid #c2c4c8;border-top:1px solid #c2c4c8;"></div>
<div style="left:318px;top:291px;width:49.5px;height:9px;background:#dde9f5;border-right:1px solid #c2c4c8;border-top:1px solid #c2c4c8;"></div>
<div style="left:367.5px;top:291px;width:41px;height:9px;background:#dde9f5;border-right:1px solid #c2c4c8;border-top:1px solid #c2c4c8;"></div>
<div class="x" style="font-size:7px;line-height:7px;color:#262626;letter-spacing:0.05px;-webkit-text-stroke:0.180px #262626;left:79px;top:292px;transform:scaleX(0.92);transform-origin:0 0;">01/07/2017</div>
<div class="x" style="font-size:7px;line-height:7px;color:#262626;-webkit-text-stroke:0.180px #262626;left:38.69999999999999px;width:120px;text-align:right;top:292px;transform:scaleX(0.88);transform-origin:100% 0;">300,000.00</div>
<div class="x" style="font-size:7px;line-height:7px;color:#262626;-webkit-text-stroke:0.180px #262626;left:98px;width:120px;text-align:right;top:292px;transform:scaleX(0.88);transform-origin:100% 0;">0.00</div>
<div class="x" style="font-size:7px;line-height:7px;color:#262626;-webkit-text-stroke:0.180px #262626;left:147.60000000000002px;width:120px;text-align:right;top:292px;transform:scaleX(0.88);transform-origin:100% 0;">0.00</div>
<div class="x" style="font-size:7px;line-height:7px;color:#262626;-webkit-text-stroke:0.180px #262626;left:197.60000000000002px;width:120px;text-align:right;top:292px;transform:scaleX(0.88);transform-origin:100% 0;">0.00</div>
<div class="x" style="font-size:7px;line-height:7px;color:#262626;-webkit-text-stroke:0.180px #262626;left:247px;width:120px;text-align:right;top:292px;transform:scaleX(0.88);transform-origin:100% 0;">0.00</div>
<div class="x" style="font-size:7px;line-height:7px;color:#262626;-webkit-text-stroke:0.180px #262626;left:286.5px;width:120px;text-align:right;top:292px;transform:scaleX(0.88);transform-origin:100% 0;">13</div>
<div class="cb" style="left:421.00px;top:291.00px"></div>
<div class="cb" style="left:462.00px;top:291.00px"></div>
<div class="cb" style="left:503.00px;top:291.00px"></div>
<div class="cb" style="left:546.00px;top:291.00px"></div>
<div class="cb" style="left:587.00px;top:291.00px"><svg width="8" height="8" style="position:absolute;left:-1px;top:-1px"><path d="M1.7 3.7 L3.6 5.6 L6.6 2.2" fill="none" stroke="#5e5e5e" stroke-width="1.1"/></svg></div>
<div class="cb" style="left:628.00px;top:291.00px"></div>
<div style="left:653px;top:291px;width:75.5px;height:9px;background:#dde9f5;border-right:1px solid #c2c4c8;border-top:1px solid #c2c4c8;"></div>
<div style="left:728.5px;top:291px;width:41.5px;height:9px;background:#dde9f5;border-right:1px solid #c2c4c8;border-top:1px solid #c2c4c8;"></div>
<div class="x" style="font-size:7px;line-height:7px;color:#262626;-webkit-text-stroke:0.180px #262626;left:649.4px;width:120px;text-align:right;top:292px;transform:scaleX(0.85);transform-origin:100% 0;">0.00%</div>
<div style="left:28px;top:300px;width:11px;height:9px;background:#f3f3f3;border-top:1px solid #555;border-right:1px solid #4a4a4a"></div>
<div style="left:39px;top:300px;width:38.5px;height:9px;background:#dde9f5;border-right:1px solid #c2c4c8;border-top:1px solid #c2c4c8;"></div>
<div style="left:77.5px;top:300px;width:41px;height:9px;background:#dde9f5;border-right:1px solid #c2c4c8;border-top:1px solid #c2c4c8;"></div>
<div style="left:118.5px;top:300px;width:40.5px;height:9px;background:#dde9f5;border-right:1px solid #c2c4c8;border-top:1px solid #c2c4c8;"></div>
<div style="left:159px;top:300px;width:9.5px;height:9px;background:#e4e4e4;border-top:1px solid #c0c0c0;border-right:1px solid #9c9c9c;border-left:1px solid #b8b8b8"><svg width="9" height="9" style="position:absolute;left:-1px;top:-1px"><path d="M2.45 5.1 L4.75 7 L7.05 5.1" fill="none" stroke="#585858" stroke-width="1.0"/></svg></div>
<div style="left:168.5px;top:300px;width:50px;height:9px;background:#dde9f5;border-right:1px solid #c2c4c8;border-top:1px solid #c2c4c8;"></div>
<div style="left:218.5px;top:300px;width:49.5px;height:9px;background:#dde9f5;border-right:1px solid #c2c4c8;border-top:1px solid #c2c4c8;"></div>
<div style="left:268px;top:300px;width:50px;height:9px;background:#dde9f5;border-right:1px solid #c2c4c8;border-top:1px solid #c2c4c8;"></div>
<div style="left:318px;top:300px;width:49.5px;height:9px;background:#dde9f5;border-right:1px solid #c2c4c8;border-top:1px solid #c2c4c8;"></div>
<div style="left:367.5px;top:300px;width:41px;height:9px;background:#dde9f5;border-right:1px solid #c2c4c8;border-top:1px solid #c2c4c8;"></div>
<div class="x" style="font-size:7px;line-height:7px;color:#262626;letter-spacing:0.05px;-webkit-text-stroke:0.180px #262626;left:79px;top:301px;transform:scaleX(0.92);transform-origin:0 0;">01/07/2017</div>
<div class="x" style="font-size:7px;line-height:7px;color:#262626;-webkit-text-stroke:0.180px #262626;left:38.69999999999999px;width:120px;text-align:right;top:301px;transform:scaleX(0.88);transform-origin:100% 0;">300,000.00</div>
<div class="x" style="font-size:7px;line-height:7px;color:#262626;-webkit-text-stroke:0.180px #262626;left:98px;width:120px;text-align:right;top:301px;transform:scaleX(0.88);transform-origin:100% 0;">0.00</div>
<div class="x" style="font-size:7px;line-height:7px;color:#262626;-webkit-text-stroke:0.180px #262626;left:147.60000000000002px;width:120px;text-align:right;top:301px;transform:scaleX(0.88);transform-origin:100% 0;">0.00</div>
<div class="x" style="font-size:7px;line-height:7px;color:#262626;-webkit-text-stroke:0.180px #262626;left:197.60000000000002px;width:120px;text-align:right;top:301px;transform:scaleX(0.88);transform-origin:100% 0;">0.00</div>
<div class="x" style="font-size:7px;line-height:7px;color:#262626;-webkit-text-stroke:0.180px #262626;left:247px;width:120px;text-align:right;top:301px;transform:scaleX(0.88);transform-origin:100% 0;">0.00</div>
<div class="x" style="font-size:7px;line-height:7px;color:#262626;-webkit-text-stroke:0.180px #262626;left:286.5px;width:120px;text-align:right;top:301px;transform:scaleX(0.88);transform-origin:100% 0;">13</div>
<div class="cb" style="left:421.00px;top:300.00px"></div>
<div class="cb" style="left:462.00px;top:300.00px"></div>
<div class="cb" style="left:503.00px;top:300.00px"></div>
<div class="cb" style="left:546.00px;top:300.00px"></div>
<div class="cb" style="left:587.00px;top:300.00px"><svg width="8" height="8" style="position:absolute;left:-1px;top:-1px"><path d="M1.7 3.7 L3.6 5.6 L6.6 2.2" fill="none" stroke="#5e5e5e" stroke-width="1.1"/></svg></div>
<div class="cb" style="left:628.00px;top:300.00px"></div>
<div style="left:653px;top:300px;width:75.5px;height:9px;background:#dde9f5;border-right:1px solid #c2c4c8;border-top:1px solid #c2c4c8;"></div>
<div style="left:728.5px;top:300px;width:41.5px;height:9px;background:#dde9f5;border-right:1px solid #c2c4c8;border-top:1px solid #c2c4c8;"></div>
<div class="x" style="font-size:7px;line-height:7px;color:#262626;-webkit-text-stroke:0.180px #262626;left:649.4px;width:120px;text-align:right;top:301px;transform:scaleX(0.85);transform-origin:100% 0;">0.00%</div>
<div style="left:28px;top:309px;width:11px;height:9px;background:#f3f3f3;border-top:1px solid #555;border-right:1px solid #4a4a4a"></div>
<div style="left:39px;top:309px;width:38.5px;height:9px;background:#dde9f5;border-right:1px solid #c2c4c8;border-top:1px solid #c2c4c8;"></div>
<div style="left:77.5px;top:309px;width:41px;height:9px;background:#dde9f5;border-right:1px solid #c2c4c8;border-top:1px solid #c2c4c8;"></div>
<div style="left:118.5px;top:309px;width:40.5px;height:9px;background:#dde9f5;border-right:1px solid #c2c4c8;border-top:1px solid #c2c4c8;"></div>
<div style="left:159px;top:309px;width:9.5px;height:9px;background:#e4e4e4;border-top:1px solid #c0c0c0;border-right:1px solid #9c9c9c;border-left:1px solid #b8b8b8"><svg width="9" height="9" style="position:absolute;left:-1px;top:-1px"><path d="M2.45 5.1 L4.75 7 L7.05 5.1" fill="none" stroke="#585858" stroke-width="1.0"/></svg></div>
<div style="left:168.5px;top:309px;width:50px;height:9px;background:#dde9f5;border-right:1px solid #c2c4c8;border-top:1px solid #c2c4c8;"></div>
<div style="left:218.5px;top:309px;width:49.5px;height:9px;background:#dde9f5;border-right:1px solid #c2c4c8;border-top:1px solid #c2c4c8;"></div>
<div style="left:268px;top:309px;width:50px;height:9px;background:#dde9f5;border-right:1px solid #c2c4c8;border-top:1px solid #c2c4c8;"></div>
<div style="left:318px;top:309px;width:49.5px;height:9px;background:#dde9f5;border-right:1px solid #c2c4c8;border-top:1px solid #c2c4c8;"></div>
<div style="left:367.5px;top:309px;width:41px;height:9px;background:#dde9f5;border-right:1px solid #c2c4c8;border-top:1px solid #c2c4c8;"></div>
<div class="x" style="font-size:7px;line-height:7px;color:#262626;letter-spacing:0.05px;-webkit-text-stroke:0.180px #262626;left:79px;top:310px;transform:scaleX(0.92);transform-origin:0 0;">01/07/2017</div>
<div class="x" style="font-size:7px;line-height:7px;color:#262626;-webkit-text-stroke:0.180px #262626;left:38.69999999999999px;width:120px;text-align:right;top:310px;transform:scaleX(0.88);transform-origin:100% 0;">300,000.00</div>
<div class="x" style="font-size:7px;line-height:7px;color:#262626;-webkit-text-stroke:0.180px #262626;left:98px;width:120px;text-align:right;top:310px;transform:scaleX(0.88);transform-origin:100% 0;">150,000.00</div>
<div class="x" style="font-size:7px;line-height:7px;color:#262626;-webkit-text-stroke:0.180px #262626;left:147.60000000000002px;width:120px;text-align:right;top:310px;transform:scaleX(0.88);transform-origin:100% 0;">0.00</div>
<div class="x" style="font-size:7px;line-height:7px;color:#262626;-webkit-text-stroke:0.180px #262626;left:197.60000000000002px;width:120px;text-align:right;top:310px;transform:scaleX(0.88);transform-origin:100% 0;">3,600.00</div>
<div class="x" style="font-size:7px;line-height:7px;color:#262626;-webkit-text-stroke:0.180px #262626;left:247px;width:120px;text-align:right;top:310px;transform:scaleX(0.88);transform-origin:100% 0;">0.00</div>
<div class="x" style="font-size:7px;line-height:7px;color:#262626;-webkit-text-stroke:0.180px #262626;left:286.5px;width:120px;text-align:right;top:310px;transform:scaleX(0.88);transform-origin:100% 0;">13</div>
<div class="cb" style="left:421.00px;top:309.00px"></div>
<div class="cb" style="left:462.00px;top:309.00px"></div>
<div class="cb" style="left:503.00px;top:309.00px"></div>
<div class="cb" style="left:546.00px;top:309.00px"></div>
<div class="cb" style="left:587.00px;top:309.00px"><svg width="8" height="8" style="position:absolute;left:-1px;top:-1px"><path d="M1.7 3.7 L3.6 5.6 L6.6 2.2" fill="none" stroke="#5e5e5e" stroke-width="1.1"/></svg></div>
<div class="cb" style="left:628.00px;top:309.00px"></div>
<div style="left:653px;top:309px;width:75.5px;height:9px;background:#dde9f5;border-right:1px solid #c2c4c8;border-top:1px solid #c2c4c8;"></div>
<div style="left:728.5px;top:309px;width:41.5px;height:9px;background:#dde9f5;border-right:1px solid #c2c4c8;border-top:1px solid #c2c4c8;"></div>
<div class="x" style="font-size:7px;line-height:7px;color:#262626;-webkit-text-stroke:0.180px #262626;left:649.4px;width:120px;text-align:right;top:310px;transform:scaleX(0.85);transform-origin:100% 0;">0.00%</div>
<div style="left:28px;top:318px;width:11px;height:9px;background:#f3f3f3;border-top:1px solid #555;border-right:1px solid #4a4a4a"></div>
<div style="left:39px;top:318px;width:38.5px;height:9px;background:#dde9f5;border-right:1px solid #c2c4c8;border-top:1px solid #c2c4c8;"></div>
<div style="left:77.5px;top:318px;width:41px;height:9px;background:#dde9f5;border-right:1px solid #c2c4c8;border-top:1px solid #c2c4c8;"></div>
<div style="left:118.5px;top:318px;width:40.5px;height:9px;background:#dde9f5;border-right:1px solid #c2c4c8;border-top:1px solid #c2c4c8;"></div>
<div style="left:159px;top:318px;width:9.5px;height:9px;background:#e4e4e4;border-top:1px solid #c0c0c0;border-right:1px solid #9c9c9c;border-left:1px solid #b8b8b8"><svg width="9" height="9" style="position:absolute;left:-1px;top:-1px"><path d="M2.45 5.1 L4.75 7 L7.05 5.1" fill="none" stroke="#585858" stroke-width="1.0"/></svg></div>
<div style="left:168.5px;top:318px;width:50px;height:9px;background:#dde9f5;border-right:1px solid #c2c4c8;border-top:1px solid #c2c4c8;"></div>
<div style="left:218.5px;top:318px;width:49.5px;height:9px;background:#dde9f5;border-right:1px solid #c2c4c8;border-top:1px solid #c2c4c8;"></div>
<div style="left:268px;top:318px;width:50px;height:9px;background:#dde9f5;border-right:1px solid #c2c4c8;border-top:1px solid #c2c4c8;"></div>
<div style="left:318px;top:318px;width:49.5px;height:9px;background:#dde9f5;border-right:1px solid #c2c4c8;border-top:1px solid #c2c4c8;"></div>
<div style="left:367.5px;top:318px;width:41px;height:9px;background:#dde9f5;border-right:1px solid #c2c4c8;border-top:1px solid #c2c4c8;"></div>
<div class="x" style="font-size:7px;line-height:7px;color:#262626;letter-spacing:0.05px;-webkit-text-stroke:0.180px #262626;left:79px;top:319px;transform:scaleX(0.92);transform-origin:0 0;">01/07/2017</div>
<div class="x" style="font-size:7px;line-height:7px;color:#262626;-webkit-text-stroke:0.180px #262626;left:38.69999999999999px;width:120px;text-align:right;top:319px;transform:scaleX(0.88);transform-origin:100% 0;">300,000.00</div>
<div class="x" style="font-size:7px;line-height:7px;color:#262626;-webkit-text-stroke:0.180px #262626;left:98px;width:120px;text-align:right;top:319px;transform:scaleX(0.88);transform-origin:100% 0;">0.00</div>
<div class="x" style="font-size:7px;line-height:7px;color:#262626;-webkit-text-stroke:0.180px #262626;left:147.60000000000002px;width:120px;text-align:right;top:319px;transform:scaleX(0.88);transform-origin:100% 0;">0.00</div>
<div class="x" style="font-size:7px;line-height:7px;color:#262626;-webkit-text-stroke:0.180px #262626;left:197.60000000000002px;width:120px;text-align:right;top:319px;transform:scaleX(0.88);transform-origin:100% 0;">0.00</div>
<div class="x" style="font-size:7px;line-height:7px;color:#262626;-webkit-text-stroke:0.180px #262626;left:247px;width:120px;text-align:right;top:319px;transform:scaleX(0.88);transform-origin:100% 0;">0.00</div>
<div class="x" style="font-size:7px;line-height:7px;color:#262626;-webkit-text-stroke:0.180px #262626;left:286.5px;width:120px;text-align:right;top:319px;transform:scaleX(0.88);transform-origin:100% 0;">13</div>
<div class="cb" style="left:421.00px;top:318.00px"></div>
<div class="cb" style="left:462.00px;top:318.00px"></div>
<div class="cb" style="left:503.00px;top:318.00px"></div>
<div class="cb" style="left:546.00px;top:318.00px"></div>
<div class="cb" style="left:587.00px;top:318.00px"><svg width="8" height="8" style="position:absolute;left:-1px;top:-1px"><path d="M1.7 3.7 L3.6 5.6 L6.6 2.2" fill="none" stroke="#5e5e5e" stroke-width="1.1"/></svg></div>
<div class="cb" style="left:628.00px;top:318.00px"></div>
<div style="left:653px;top:318px;width:75.5px;height:9px;background:#dde9f5;border-right:1px solid #c2c4c8;border-top:1px solid #c2c4c8;"></div>
<div style="left:728.5px;top:318px;width:41.5px;height:9px;background:#dde9f5;border-right:1px solid #c2c4c8;border-top:1px solid #c2c4c8;"></div>
<div class="x" style="font-size:7px;line-height:7px;color:#262626;-webkit-text-stroke:0.180px #262626;left:649.4px;width:120px;text-align:right;top:319px;transform:scaleX(0.85);transform-origin:100% 0;">0.00%</div>
<div style="left:28px;top:327px;width:11px;height:9px;background:#f3f3f3;border-top:1px solid #555;border-right:1px solid #4a4a4a"></div>
<div style="left:39px;top:327px;width:38.5px;height:9px;background:#dde9f5;border-right:1px solid #c2c4c8;border-top:1px solid #c2c4c8;"></div>
<div style="left:77.5px;top:327px;width:41px;height:9px;background:#dde9f5;border-right:1px solid #c2c4c8;border-top:1px solid #c2c4c8;"></div>
<div style="left:118.5px;top:327px;width:40.5px;height:9px;background:#dde9f5;border-right:1px solid #c2c4c8;border-top:1px solid #c2c4c8;"></div>
<div style="left:159px;top:327px;width:9.5px;height:9px;background:#e4e4e4;border-top:1px solid #c0c0c0;border-right:1px solid #9c9c9c;border-left:1px solid #b8b8b8"><svg width="9" height="9" style="position:absolute;left:-1px;top:-1px"><path d="M2.45 5.1 L4.75 7 L7.05 5.1" fill="none" stroke="#585858" stroke-width="1.0"/></svg></div>
<div style="left:168.5px;top:327px;width:50px;height:9px;background:#dde9f5;border-right:1px solid #c2c4c8;border-top:1px solid #c2c4c8;"></div>
<div style="left:218.5px;top:327px;width:49.5px;height:9px;background:#dde9f5;border-right:1px solid #c2c4c8;border-top:1px solid #c2c4c8;"></div>
<div style="left:268px;top:327px;width:50px;height:9px;background:#dde9f5;border-right:1px solid #c2c4c8;border-top:1px solid #c2c4c8;"></div>
<div style="left:318px;top:327px;width:49.5px;height:9px;background:#dde9f5;border-right:1px solid #c2c4c8;border-top:1px solid #c2c4c8;"></div>
<div style="left:367.5px;top:327px;width:41px;height:9px;background:#dde9f5;border-right:1px solid #c2c4c8;border-top:1px solid #c2c4c8;"></div>
<div class="x" style="font-size:7px;line-height:7px;color:#262626;letter-spacing:0.05px;-webkit-text-stroke:0.180px #262626;left:79px;top:328px;transform:scaleX(0.92);transform-origin:0 0;">01/07/2017</div>
<div class="x" style="font-size:7px;line-height:7px;color:#262626;-webkit-text-stroke:0.180px #262626;left:38.69999999999999px;width:120px;text-align:right;top:328px;transform:scaleX(0.88);transform-origin:100% 0;">300,000.00</div>
<div class="x" style="font-size:7px;line-height:7px;color:#262626;-webkit-text-stroke:0.180px #262626;left:98px;width:120px;text-align:right;top:328px;transform:scaleX(0.88);transform-origin:100% 0;">0.00</div>
<div class="x" style="font-size:7px;line-height:7px;color:#262626;-webkit-text-stroke:0.180px #262626;left:147.60000000000002px;width:120px;text-align:right;top:328px;transform:scaleX(0.88);transform-origin:100% 0;">50,400.00</div>
<div class="x" style="font-size:7px;line-height:7px;color:#262626;-webkit-text-stroke:0.180px #262626;left:197.60000000000002px;width:120px;text-align:right;top:328px;transform:scaleX(0.88);transform-origin:100% 0;">0.00</div>
<div class="x" style="font-size:7px;line-height:7px;color:#262626;-webkit-text-stroke:0.180px #262626;left:247px;width:120px;text-align:right;top:328px;transform:scaleX(0.88);transform-origin:100% 0;">0.00</div>
<div class="x" style="font-size:7px;line-height:7px;color:#262626;-webkit-text-stroke:0.180px #262626;left:286.5px;width:120px;text-align:right;top:328px;transform:scaleX(0.88);transform-origin:100% 0;">13</div>
<div class="cb" style="left:421.00px;top:327.00px"></div>
<div class="cb" style="left:462.00px;top:327.00px"></div>
<div class="cb" style="left:503.00px;top:327.00px"></div>
<div class="cb" style="left:546.00px;top:327.00px"></div>
<div class="cb" style="left:587.00px;top:327.00px"><svg width="8" height="8" style="position:absolute;left:-1px;top:-1px"><path d="M1.7 3.7 L3.6 5.6 L6.6 2.2" fill="none" stroke="#5e5e5e" stroke-width="1.1"/></svg></div>
<div class="cb" style="left:628.00px;top:327.00px"></div>
<div style="left:653px;top:327px;width:75.5px;height:9px;background:#dde9f5;border-right:1px solid #c2c4c8;border-top:1px solid #c2c4c8;"></div>
<div style="left:728.5px;top:327px;width:41.5px;height:9px;background:#dde9f5;border-right:1px solid #c2c4c8;border-top:1px solid #c2c4c8;"></div>
<div class="x" style="font-size:7px;line-height:7px;color:#262626;-webkit-text-stroke:0.180px #262626;left:649.4px;width:120px;text-align:right;top:328px;transform:scaleX(0.85);transform-origin:100% 0;">0.00%</div>
<div style="left:28px;top:336px;width:11px;height:9px;background:#f3f3f3;border-top:1px solid #555;border-right:1px solid #4a4a4a"></div>
<div style="left:39px;top:336px;width:38.5px;height:9px;background:#dde9f5;border-right:1px solid #c2c4c8;border-top:1px solid #c2c4c8;"></div>
<div style="left:77.5px;top:336px;width:41px;height:9px;background:#dde9f5;border-right:1px solid #c2c4c8;border-top:1px solid #c2c4c8;"></div>
<div style="left:118.5px;top:336px;width:40.5px;height:9px;background:#dde9f5;border-right:1px solid #c2c4c8;border-top:1px solid #c2c4c8;"></div>
<div style="left:159px;top:336px;width:9.5px;height:9px;background:#e4e4e4;border-top:1px solid #c0c0c0;border-right:1px solid #9c9c9c;border-left:1px solid #b8b8b8"><svg width="9" height="9" style="position:absolute;left:-1px;top:-1px"><path d="M2.45 5.1 L4.75 7 L7.05 5.1" fill="none" stroke="#585858" stroke-width="1.0"/></svg></div>
<div style="left:168.5px;top:336px;width:50px;height:9px;background:#dde9f5;border-right:1px solid #c2c4c8;border-top:1px solid #c2c4c8;"></div>
<div style="left:218.5px;top:336px;width:49.5px;height:9px;background:#dde9f5;border-right:1px solid #c2c4c8;border-top:1px solid #c2c4c8;"></div>
<div style="left:268px;top:336px;width:50px;height:9px;background:#dde9f5;border-right:1px solid #c2c4c8;border-top:1px solid #c2c4c8;"></div>
<div style="left:318px;top:336px;width:49.5px;height:9px;background:#dde9f5;border-right:1px solid #c2c4c8;border-top:1px solid #c2c4c8;"></div>
<div style="left:367.5px;top:336px;width:41px;height:9px;background:#dde9f5;border-right:1px solid #c2c4c8;border-top:1px solid #c2c4c8;"></div>
<div class="x" style="font-size:7px;line-height:7px;color:#262626;letter-spacing:0.05px;-webkit-text-stroke:0.180px #262626;left:79px;top:337px;transform:scaleX(0.92);transform-origin:0 0;">01/07/2017</div>
<div class="x" style="font-size:7px;line-height:7px;color:#262626;-webkit-text-stroke:0.180px #262626;left:38.69999999999999px;width:120px;text-align:right;top:337px;transform:scaleX(0.88);transform-origin:100% 0;">300,000.00</div>
<div class="x" style="font-size:7px;line-height:7px;color:#262626;-webkit-text-stroke:0.180px #262626;left:98px;width:120px;text-align:right;top:337px;transform:scaleX(0.88);transform-origin:100% 0;">0.00</div>
<div class="x" style="font-size:7px;line-height:7px;color:#262626;-webkit-text-stroke:0.180px #262626;left:147.60000000000002px;width:120px;text-align:right;top:337px;transform:scaleX(0.88);transform-origin:100% 0;">50,400.00</div>
<div class="x" style="font-size:7px;line-height:7px;color:#262626;-webkit-text-stroke:0.180px #262626;left:197.60000000000002px;width:120px;text-align:right;top:337px;transform:scaleX(0.88);transform-origin:100% 0;">0.00</div>
<div class="x" style="font-size:7px;line-height:7px;color:#262626;-webkit-text-stroke:0.180px #262626;left:247px;width:120px;text-align:right;top:337px;transform:scaleX(0.88);transform-origin:100% 0;">0.00</div>
<div class="x" style="font-size:7px;line-height:7px;color:#262626;-webkit-text-stroke:0.180px #262626;left:286.5px;width:120px;text-align:right;top:337px;transform:scaleX(0.88);transform-origin:100% 0;">13</div>
<div class="cb" style="left:421.00px;top:336.00px"></div>
<div class="cb" style="left:462.00px;top:336.00px"></div>
<div class="cb" style="left:503.00px;top:336.00px"></div>
<div class="cb" style="left:546.00px;top:336.00px"></div>
<div class="cb" style="left:587.00px;top:336.00px"><svg width="8" height="8" style="position:absolute;left:-1px;top:-1px"><path d="M1.7 3.7 L3.6 5.6 L6.6 2.2" fill="none" stroke="#5e5e5e" stroke-width="1.1"/></svg></div>
<div class="cb" style="left:628.00px;top:336.00px"></div>
<div style="left:653px;top:336px;width:75.5px;height:9px;background:#dde9f5;border-right:1px solid #c2c4c8;border-top:1px solid #c2c4c8;"></div>
<div style="left:728.5px;top:336px;width:41.5px;height:9px;background:#dde9f5;border-right:1px solid #c2c4c8;border-top:1px solid #c2c4c8;"></div>
<div class="x" style="font-size:7px;line-height:7px;color:#262626;-webkit-text-stroke:0.180px #262626;left:649.4px;width:120px;text-align:right;top:337px;transform:scaleX(0.85);transform-origin:100% 0;">0.00%</div>
<div style="left:28px;top:345px;width:11px;height:9px;background:#f3f3f3;border-top:1px solid #555;border-right:1px solid #4a4a4a"></div>
<div style="left:39px;top:345px;width:38.5px;height:9px;background:#dde9f5;border-right:1px solid #c2c4c8;border-top:1px solid #c2c4c8;"></div>
<div style="left:77.5px;top:345px;width:41px;height:9px;background:#dde9f5;border-right:1px solid #c2c4c8;border-top:1px solid #c2c4c8;"></div>
<div style="left:118.5px;top:345px;width:40.5px;height:9px;background:#dde9f5;border-right:1px solid #c2c4c8;border-top:1px solid #c2c4c8;"></div>
<div style="left:159px;top:345px;width:9.5px;height:9px;background:#e4e4e4;border-top:1px solid #c0c0c0;border-right:1px solid #9c9c9c;border-left:1px solid #b8b8b8"><svg width="9" height="9" style="position:absolute;left:-1px;top:-1px"><path d="M2.45 5.1 L4.75 7 L7.05 5.1" fill="none" stroke="#585858" stroke-width="1.0"/></svg></div>
<div style="left:168.5px;top:345px;width:50px;height:9px;background:#dde9f5;border-right:1px solid #c2c4c8;border-top:1px solid #c2c4c8;"></div>
<div style="left:218.5px;top:345px;width:49.5px;height:9px;background:#dde9f5;border-right:1px solid #c2c4c8;border-top:1px solid #c2c4c8;"></div>
<div style="left:268px;top:345px;width:50px;height:9px;background:#dde9f5;border-right:1px solid #c2c4c8;border-top:1px solid #c2c4c8;"></div>
<div style="left:318px;top:345px;width:49.5px;height:9px;background:#dde9f5;border-right:1px solid #c2c4c8;border-top:1px solid #c2c4c8;"></div>
<div style="left:367.5px;top:345px;width:41px;height:9px;background:#dde9f5;border-right:1px solid #c2c4c8;border-top:1px solid #c2c4c8;"></div>
<div class="x" style="font-size:7px;line-height:7px;color:#262626;letter-spacing:0.05px;-webkit-text-stroke:0.180px #262626;left:79px;top:346px;transform:scaleX(0.92);transform-origin:0 0;">01/07/2017</div>
<div class="x" style="font-size:7px;line-height:7px;color:#262626;-webkit-text-stroke:0.180px #262626;left:38.69999999999999px;width:120px;text-align:right;top:346px;transform:scaleX(0.88);transform-origin:100% 0;">300,000.00</div>
<div class="x" style="font-size:7px;line-height:7px;color:#262626;-webkit-text-stroke:0.180px #262626;left:98px;width:120px;text-align:right;top:346px;transform:scaleX(0.88);transform-origin:100% 0;">0.00</div>
<div class="x" style="font-size:7px;line-height:7px;color:#262626;-webkit-text-stroke:0.180px #262626;left:147.60000000000002px;width:120px;text-align:right;top:346px;transform:scaleX(0.88);transform-origin:100% 0;">0.00</div>
<div class="x" style="font-size:7px;line-height:7px;color:#262626;-webkit-text-stroke:0.180px #262626;left:197.60000000000002px;width:120px;text-align:right;top:346px;transform:scaleX(0.88);transform-origin:100% 0;">0.00</div>
<div class="x" style="font-size:7px;line-height:7px;color:#262626;-webkit-text-stroke:0.180px #262626;left:247px;width:120px;text-align:right;top:346px;transform:scaleX(0.88);transform-origin:100% 0;">0.00</div>
<div class="x" style="font-size:7px;line-height:7px;color:#262626;-webkit-text-stroke:0.180px #262626;left:286.5px;width:120px;text-align:right;top:346px;transform:scaleX(0.88);transform-origin:100% 0;">13</div>
<div class="cb" style="left:421.00px;top:345.00px"></div>
<div class="cb" style="left:462.00px;top:345.00px"></div>
<div class="cb" style="left:503.00px;top:345.00px"></div>
<div class="cb" style="left:546.00px;top:345.00px"></div>
<div class="cb" style="left:587.00px;top:345.00px"><svg width="8" height="8" style="position:absolute;left:-1px;top:-1px"><path d="M1.7 3.7 L3.6 5.6 L6.6 2.2" fill="none" stroke="#5e5e5e" stroke-width="1.1"/></svg></div>
<div class="cb" style="left:628.00px;top:345.00px"></div>
<div style="left:653px;top:345px;width:75.5px;height:9px;background:#dde9f5;border-right:1px solid #c2c4c8;border-top:1px solid #c2c4c8;"></div>
<div style="left:728.5px;top:345px;width:41.5px;height:9px;background:#dde9f5;border-right:1px solid #c2c4c8;border-top:1px solid #c2c4c8;"></div>
<div class="x" style="font-size:7px;line-height:7px;color:#262626;-webkit-text-stroke:0.180px #262626;left:649.4px;width:120px;text-align:right;top:346px;transform:scaleX(0.85);transform-origin:100% 0;">0.00%</div>
<div style="left:28px;top:354px;width:11px;height:9px;background:#f3f3f3;border-top:1px solid #555;border-right:1px solid #4a4a4a"></div>
<div style="left:39px;top:354px;width:38.5px;height:9px;background:#dde9f5;border-right:1px solid #c2c4c8;border-top:1px solid #c2c4c8;"></div>
<div style="left:77.5px;top:354px;width:41px;height:9px;background:#dde9f5;border-right:1px solid #c2c4c8;border-top:1px solid #c2c4c8;"></div>
<div style="left:118.5px;top:354px;width:40.5px;height:9px;background:#dde9f5;border-right:1px solid #c2c4c8;border-top:1px solid #c2c4c8;"></div>
<div style="left:159px;top:354px;width:9.5px;height:9px;background:#e4e4e4;border-top:1px solid #c0c0c0;border-right:1px solid #9c9c9c;border-left:1px solid #b8b8b8"><svg width="9" height="9" style="position:absolute;left:-1px;top:-1px"><path d="M2.45 5.1 L4.75 7 L7.05 5.1" fill="none" stroke="#585858" stroke-width="1.0"/></svg></div>
<div style="left:168.5px;top:354px;width:50px;height:9px;background:#dde9f5;border-right:1px solid #c2c4c8;border-top:1px solid #c2c4c8;"></div>
<div style="left:218.5px;top:354px;width:49.5px;height:9px;background:#dde9f5;border-right:1px solid #c2c4c8;border-top:1px solid #c2c4c8;"></div>
<div style="left:268px;top:354px;width:50px;height:9px;background:#dde9f5;border-right:1px solid #c2c4c8;border-top:1px solid #c2c4c8;"></div>
<div style="left:318px;top:354px;width:49.5px;height:9px;background:#dde9f5;border-right:1px solid #c2c4c8;border-top:1px solid #c2c4c8;"></div>
<div style="left:367.5px;top:354px;width:41px;height:9px;background:#dde9f5;border-right:1px solid #c2c4c8;border-top:1px solid #c2c4c8;"></div>
<div class="x" style="font-size:7px;line-height:7px;color:#262626;letter-spacing:0.05px;-webkit-text-stroke:0.180px #262626;left:79px;top:355px;transform:scaleX(0.92);transform-origin:0 0;">01/07/2017</div>
<div class="x" style="font-size:7px;line-height:7px;color:#262626;-webkit-text-stroke:0.180px #262626;left:38.69999999999999px;width:120px;text-align:right;top:355px;transform:scaleX(0.88);transform-origin:100% 0;">410,000.00</div>
<div class="x" style="font-size:7px;line-height:7px;color:#262626;-webkit-text-stroke:0.180px #262626;left:98px;width:120px;text-align:right;top:355px;transform:scaleX(0.88);transform-origin:100% 0;">0.00</div>
<div class="x" style="font-size:7px;line-height:7px;color:#262626;-webkit-text-stroke:0.180px #262626;left:147.60000000000002px;width:120px;text-align:right;top:355px;transform:scaleX(0.88);transform-origin:100% 0;">0.00</div>
<div class="x" style="font-size:7px;line-height:7px;color:#262626;-webkit-text-stroke:0.180px #262626;left:197.60000000000002px;width:120px;text-align:right;top:355px;transform:scaleX(0.88);transform-origin:100% 0;">0.00</div>
<div class="x" style="font-size:7px;line-height:7px;color:#262626;-webkit-text-stroke:0.180px #262626;left:247px;width:120px;text-align:right;top:355px;transform:scaleX(0.88);transform-origin:100% 0;">0.00</div>
<div class="x" style="font-size:7px;line-height:7px;color:#262626;-webkit-text-stroke:0.180px #262626;left:286.5px;width:120px;text-align:right;top:355px;transform:scaleX(0.88);transform-origin:100% 0;">13</div>
<div class="cb" style="left:421.00px;top:354.00px"></div>
<div class="cb" style="left:462.00px;top:354.00px"></div>
<div class="cb" style="left:503.00px;top:354.00px"></div>
<div class="cb" style="left:546.00px;top:354.00px"></div>
<div class="cb" style="left:587.00px;top:354.00px"><svg width="8" height="8" style="position:absolute;left:-1px;top:-1px"><path d="M1.7 3.7 L3.6 5.6 L6.6 2.2" fill="none" stroke="#5e5e5e" stroke-width="1.1"/></svg></div>
<div class="cb" style="left:628.00px;top:354.00px"></div>
<div style="left:653px;top:354px;width:75.5px;height:9px;background:#dde9f5;border-right:1px solid #c2c4c8;border-top:1px solid #c2c4c8;"></div>
<div style="left:728.5px;top:354px;width:41.5px;height:9px;background:#dde9f5;border-right:1px solid #c2c4c8;border-top:1px solid #c2c4c8;"></div>
<div class="x" style="font-size:7px;line-height:7px;color:#262626;-webkit-text-stroke:0.180px #262626;left:649.4px;width:120px;text-align:right;top:355px;transform:scaleX(0.85);transform-origin:100% 0;">0.00%</div>
<div style="left:28px;top:363px;width:11px;height:9px;background:#f3f3f3;border-top:1px solid #555;border-right:1px solid #4a4a4a"></div>
<div style="left:39px;top:363px;width:38.5px;height:9px;background:#dde9f5;border-right:1px solid #c2c4c8;border-top:1px solid #c2c4c8;"></div>
<div style="left:77.5px;top:363px;width:41px;height:9px;background:#dde9f5;border-right:1px solid #c2c4c8;border-top:1px solid #c2c4c8;"></div>
<div style="left:118.5px;top:363px;width:40.5px;height:9px;background:#dde9f5;border-right:1px solid #c2c4c8;border-top:1px solid #c2c4c8;"></div>
<div style="left:159px;top:363px;width:9.5px;height:9px;background:#e4e4e4;border-top:1px solid #c0c0c0;border-right:1px solid #9c9c9c;border-left:1px solid #b8b8b8"><svg width="9" height="9" style="position:absolute;left:-1px;top:-1px"><path d="M2.45 5.1 L4.75 7 L7.05 5.1" fill="none" stroke="#585858" stroke-width="1.0"/></svg></div>
<div style="left:168.5px;top:363px;width:50px;height:9px;background:#dde9f5;border-right:1px solid #c2c4c8;border-top:1px solid #c2c4c8;"></div>
<div style="left:218.5px;top:363px;width:49.5px;height:9px;background:#dde9f5;border-right:1px solid #c2c4c8;border-top:1px solid #c2c4c8;"></div>
<div style="left:268px;top:363px;width:50px;height:9px;background:#dde9f5;border-right:1px solid #c2c4c8;border-top:1px solid #c2c4c8;"></div>
<div style="left:318px;top:363px;width:49.5px;height:9px;background:#dde9f5;border-right:1px solid #c2c4c8;border-top:1px solid #c2c4c8;"></div>
<div style="left:367.5px;top:363px;width:41px;height:9px;background:#dde9f5;border-right:1px solid #c2c4c8;border-top:1px solid #c2c4c8;"></div>
<div class="x" style="font-size:7px;line-height:7px;color:#262626;letter-spacing:0.05px;-webkit-text-stroke:0.180px #262626;left:79px;top:364px;transform:scaleX(0.92);transform-origin:0 0;">01/07/2017</div>
<div class="x" style="font-size:7px;line-height:7px;color:#262626;-webkit-text-stroke:0.180px #262626;left:38.69999999999999px;width:120px;text-align:right;top:364px;transform:scaleX(0.88);transform-origin:100% 0;">300,000.00</div>
<div class="x" style="font-size:7px;line-height:7px;color:#262626;-webkit-text-stroke:0.180px #262626;left:98px;width:120px;text-align:right;top:364px;transform:scaleX(0.88);transform-origin:100% 0;">0.00</div>
<div class="x" style="font-size:7px;line-height:7px;color:#262626;-webkit-text-stroke:0.180px #262626;left:147.60000000000002px;width:120px;text-align:right;top:364px;transform:scaleX(0.88);transform-origin:100% 0;">0.00</div>
<div class="x" style="font-size:7px;line-height:7px;color:#262626;-webkit-text-stroke:0.180px #262626;left:197.60000000000002px;width:120px;text-align:right;top:364px;transform:scaleX(0.88);transform-origin:100% 0;">0.00</div>
<div class="x" style="font-size:7px;line-height:7px;color:#262626;-webkit-text-stroke:0.180px #262626;left:247px;width:120px;text-align:right;top:364px;transform:scaleX(0.88);transform-origin:100% 0;">0.00</div>
<div class="x" style="font-size:7px;line-height:7px;color:#262626;-webkit-text-stroke:0.180px #262626;left:286.5px;width:120px;text-align:right;top:364px;transform:scaleX(0.88);transform-origin:100% 0;">13</div>
<div class="cb" style="left:421.00px;top:363.00px"></div>
<div class="cb" style="left:462.00px;top:363.00px"></div>
<div class="cb" style="left:503.00px;top:363.00px"></div>
<div class="cb" style="left:546.00px;top:363.00px"></div>
<div class="cb" style="left:587.00px;top:363.00px"><svg width="8" height="8" style="position:absolute;left:-1px;top:-1px"><path d="M1.7 3.7 L3.6 5.6 L6.6 2.2" fill="none" stroke="#5e5e5e" stroke-width="1.1"/></svg></div>
<div class="cb" style="left:628.00px;top:363.00px"></div>
<div style="left:653px;top:363px;width:75.5px;height:9px;background:#dde9f5;border-right:1px solid #c2c4c8;border-top:1px solid #c2c4c8;"></div>
<div style="left:728.5px;top:363px;width:41.5px;height:9px;background:#dde9f5;border-right:1px solid #c2c4c8;border-top:1px solid #c2c4c8;"></div>
<div class="x" style="font-size:7px;line-height:7px;color:#262626;-webkit-text-stroke:0.180px #262626;left:649.4px;width:120px;text-align:right;top:364px;transform:scaleX(0.85);transform-origin:100% 0;">0.00%</div>
<div style="left:28px;top:372px;width:11px;height:9px;background:#f3f3f3;border-top:1px solid #555;border-right:1px solid #4a4a4a"></div>
<div style="left:39px;top:372px;width:38.5px;height:9px;background:#dde9f5;border-right:1px solid #c2c4c8;border-top:1px solid #c2c4c8;"></div>
<div style="left:77.5px;top:372px;width:41px;height:9px;background:#dde9f5;border-right:1px solid #c2c4c8;border-top:1px solid #c2c4c8;"></div>
<div style="left:118.5px;top:372px;width:40.5px;height:9px;background:#dde9f5;border-right:1px solid #c2c4c8;border-top:1px solid #c2c4c8;"></div>
<div style="left:159px;top:372px;width:9.5px;height:9px;background:#e4e4e4;border-top:1px solid #c0c0c0;border-right:1px solid #9c9c9c;border-left:1px solid #b8b8b8"><svg width="9" height="9" style="position:absolute;left:-1px;top:-1px"><path d="M2.45 5.1 L4.75 7 L7.05 5.1" fill="none" stroke="#585858" stroke-width="1.0"/></svg></div>
<div style="left:168.5px;top:372px;width:50px;height:9px;background:#dde9f5;border-right:1px solid #c2c4c8;border-top:1px solid #c2c4c8;"></div>
<div style="left:218.5px;top:372px;width:49.5px;height:9px;background:#dde9f5;border-right:1px solid #c2c4c8;border-top:1px solid #c2c4c8;"></div>
<div style="left:268px;top:372px;width:50px;height:9px;background:#dde9f5;border-right:1px solid #c2c4c8;border-top:1px solid #c2c4c8;"></div>
<div style="left:318px;top:372px;width:49.5px;height:9px;background:#dde9f5;border-right:1px solid #c2c4c8;border-top:1px solid #c2c4c8;"></div>
<div style="left:367.5px;top:372px;width:41px;height:9px;background:#dde9f5;border-right:1px solid #c2c4c8;border-top:1px solid #c2c4c8;"></div>
<div class="x" style="font-size:7px;line-height:7px;color:#262626;-webkit-text-stroke:0.180px #262626;left:38.69999999999999px;width:120px;text-align:right;top:373px;transform:scaleX(0.88);transform-origin:100% 0;">0.00</div>
<div class="x" style="font-size:7px;line-height:7px;color:#262626;-webkit-text-stroke:0.180px #262626;left:98px;width:120px;text-align:right;top:373px;transform:scaleX(0.88);transform-origin:100% 0;">0.00</div>
<div class="x" style="font-size:7px;line-height:7px;color:#262626;-webkit-text-stroke:0.180px #262626;left:147.60000000000002px;width:120px;text-align:right;top:373px;transform:scaleX(0.88);transform-origin:100% 0;">0.00</div>
<div class="x" style="font-size:7px;line-height:7px;color:#262626;-webkit-text-stroke:0.180px #262626;left:197.60000000000002px;width:120px;text-align:right;top:373px;transform:scaleX(0.88);transform-origin:100% 0;">0.00</div>
<div class="x" style="font-size:7px;line-height:7px;color:#262626;-webkit-text-stroke:0.180px #262626;left:247px;width:120px;text-align:right;top:373px;transform:scaleX(0.88);transform-origin:100% 0;">0.00</div>
<div class="x" style="font-size:7px;line-height:7px;color:#262626;-webkit-text-stroke:0.180px #262626;left:286.5px;width:120px;text-align:right;top:373px;transform:scaleX(0.88);transform-origin:100% 0;">13</div>
<div class="cb" style="left:421.00px;top:372.00px"></div>
<div class="cb" style="left:462.00px;top:372.00px"></div>
<div class="cb" style="left:503.00px;top:372.00px"></div>
<div class="cb" style="left:546.00px;top:372.00px"></div>
<div class="cb" style="left:587.00px;top:372.00px"><svg width="8" height="8" style="position:absolute;left:-1px;top:-1px"><path d="M1.7 3.7 L3.6 5.6 L6.6 2.2" fill="none" stroke="#5e5e5e" stroke-width="1.1"/></svg></div>
<div class="cb" style="left:628.00px;top:372.00px"></div>
<div style="left:653px;top:372px;width:75.5px;height:9px;background:#dde9f5;border-right:1px solid #c2c4c8;border-top:1px solid #c2c4c8;"></div>
<div style="left:728.5px;top:372px;width:41.5px;height:9px;background:#dde9f5;border-right:1px solid #c2c4c8;border-top:1px solid #c2c4c8;"></div>
<div class="x" style="font-size:7px;line-height:7px;color:#262626;-webkit-text-stroke:0.180px #262626;left:649.4px;width:120px;text-align:right;top:373px;transform:scaleX(0.85);transform-origin:100% 0;">0.00%</div>
<div style="left:28px;top:381px;width:11px;height:9px;background:#f3f3f3;border-top:1px solid #555;border-right:1px solid #4a4a4a"></div>
<div style="left:39px;top:381px;width:38.5px;height:9px;background:#dde9f5;border-right:1px solid #c2c4c8;border-top:1px solid #c2c4c8;"></div>
<div style="left:77.5px;top:381px;width:41px;height:9px;background:#dde9f5;border-right:1px solid #c2c4c8;border-top:1px solid #c2c4c8;"></div>
<div style="left:118.5px;top:381px;width:40.5px;height:9px;background:#dde9f5;border-right:1px solid #c2c4c8;border-top:1px solid #c2c4c8;"></div>
<div style="left:159px;top:381px;width:9.5px;height:9px;background:#e4e4e4;border-top:1px solid #c0c0c0;border-right:1px solid #9c9c9c;border-left:1px solid #b8b8b8"><svg width="9" height="9" style="position:absolute;left:-1px;top:-1px"><path d="M2.45 5.1 L4.75 7 L7.05 5.1" fill="none" stroke="#585858" stroke-width="1.0"/></svg></div>
<div style="left:168.5px;top:381px;width:50px;height:9px;background:#dde9f5;border-right:1px solid #c2c4c8;border-top:1px solid #c2c4c8;"></div>
<div style="left:218.5px;top:381px;width:49.5px;height:9px;background:#dde9f5;border-right:1px solid #c2c4c8;border-top:1px solid #c2c4c8;"></div>
<div style="left:268px;top:381px;width:50px;height:9px;background:#dde9f5;border-right:1px solid #c2c4c8;border-top:1px solid #c2c4c8;"></div>
<div style="left:318px;top:381px;width:49.5px;height:9px;background:#dde9f5;border-right:1px solid #c2c4c8;border-top:1px solid #c2c4c8;"></div>
<div style="left:367.5px;top:381px;width:41px;height:9px;background:#dde9f5;border-right:1px solid #c2c4c8;border-top:1px solid #c2c4c8;"></div>
<div class="x" style="font-size:7px;line-height:7px;color:#262626;-webkit-text-stroke:0.180px #262626;left:38.69999999999999px;width:120px;text-align:right;top:382px;transform:scaleX(0.88);transform-origin:100% 0;">0.00</div>
<div class="x" style="font-size:7px;line-height:7px;color:#262626;-webkit-text-stroke:0.180px #262626;left:98px;width:120px;text-align:right;top:382px;transform:scaleX(0.88);transform-origin:100% 0;">0.00</div>
<div class="x" style="font-size:7px;line-height:7px;color:#262626;-webkit-text-stroke:0.180px #262626;left:147.60000000000002px;width:120px;text-align:right;top:382px;transform:scaleX(0.88);transform-origin:100% 0;">0.00</div>
<div class="x" style="font-size:7px;line-height:7px;color:#262626;-webkit-text-stroke:0.180px #262626;left:197.60000000000002px;width:120px;text-align:right;top:382px;transform:scaleX(0.88);transform-origin:100% 0;">0.00</div>
<div class="x" style="font-size:7px;line-height:7px;color:#262626;-webkit-text-stroke:0.180px #262626;left:247px;width:120px;text-align:right;top:382px;transform:scaleX(0.88);transform-origin:100% 0;">0.00</div>
<div class="x" style="font-size:7px;line-height:7px;color:#262626;-webkit-text-stroke:0.180px #262626;left:286.5px;width:120px;text-align:right;top:382px;transform:scaleX(0.88);transform-origin:100% 0;">13</div>
<div class="cb" style="left:421.00px;top:381.00px"></div>
<div class="cb" style="left:462.00px;top:381.00px"></div>
<div class="cb" style="left:503.00px;top:381.00px"></div>
<div class="cb" style="left:546.00px;top:381.00px"></div>
<div class="cb" style="left:587.00px;top:381.00px"><svg width="8" height="8" style="position:absolute;left:-1px;top:-1px"><path d="M1.7 3.7 L3.6 5.6 L6.6 2.2" fill="none" stroke="#5e5e5e" stroke-width="1.1"/></svg></div>
<div class="cb" style="left:628.00px;top:381.00px"></div>
<div style="left:653px;top:381px;width:75.5px;height:9px;background:#dde9f5;border-right:1px solid #c2c4c8;border-top:1px solid #c2c4c8;"></div>
<div style="left:728.5px;top:381px;width:41.5px;height:9px;background:#dde9f5;border-right:1px solid #c2c4c8;border-top:1px solid #c2c4c8;"></div>
<div class="x" style="font-size:7px;line-height:7px;color:#262626;-webkit-text-stroke:0.180px #262626;left:649.4px;width:120px;text-align:right;top:382px;transform:scaleX(0.85);transform-origin:100% 0;">0.00%</div>
<div style="left:28px;top:390px;width:11px;height:9px;background:#f3f3f3;border-top:1px solid #555;border-right:1px solid #4a4a4a"></div>
<div style="left:39px;top:390px;width:38.5px;height:9px;background:#dde9f5;border-right:1px solid #c2c4c8;border-top:1px solid #c2c4c8;"></div>
<div style="left:77.5px;top:390px;width:41px;height:9px;background:#dde9f5;border-right:1px solid #c2c4c8;border-top:1px solid #c2c4c8;"></div>
<div style="left:118.5px;top:390px;width:40.5px;height:9px;background:#dde9f5;border-right:1px solid #c2c4c8;border-top:1px solid #c2c4c8;"></div>
<div style="left:159px;top:390px;width:9.5px;height:9px;background:#e4e4e4;border-top:1px solid #c0c0c0;border-right:1px solid #9c9c9c;border-left:1px solid #b8b8b8"><svg width="9" height="9" style="position:absolute;left:-1px;top:-1px"><path d="M2.45 5.1 L4.75 7 L7.05 5.1" fill="none" stroke="#585858" stroke-width="1.0"/></svg></div>
<div style="left:168.5px;top:390px;width:50px;height:9px;background:#dde9f5;border-right:1px solid #c2c4c8;border-top:1px solid #c2c4c8;"></div>
<div style="left:218.5px;top:390px;width:49.5px;height:9px;background:#dde9f5;border-right:1px solid #c2c4c8;border-top:1px solid #c2c4c8;"></div>
<div style="left:268px;top:390px;width:50px;height:9px;background:#dde9f5;border-right:1px solid #c2c4c8;border-top:1px solid #c2c4c8;"></div>
<div style="left:318px;top:390px;width:49.5px;height:9px;background:#dde9f5;border-right:1px solid #c2c4c8;border-top:1px solid #c2c4c8;"></div>
<div style="left:367.5px;top:390px;width:41px;height:9px;background:#dde9f5;border-right:1px solid #c2c4c8;border-top:1px solid #c2c4c8;"></div>
<div class="x" style="font-size:7px;line-height:7px;color:#262626;letter-spacing:0.05px;-webkit-text-stroke:0.180px #262626;left:79px;top:391px;transform:scaleX(0.92);transform-origin:0 0;">01/07/2017</div>
<div class="x" style="font-size:7px;line-height:7px;color:#262626;-webkit-text-stroke:0.180px #262626;left:38.69999999999999px;width:120px;text-align:right;top:391px;transform:scaleX(0.88);transform-origin:100% 0;">300,000.00</div>
<div class="x" style="font-size:7px;line-height:7px;color:#262626;-webkit-text-stroke:0.180px #262626;left:98px;width:120px;text-align:right;top:391px;transform:scaleX(0.88);transform-origin:100% 0;">0.00</div>
<div class="x" style="font-size:7px;line-height:7px;color:#262626;-webkit-text-stroke:0.180px #262626;left:147.60000000000002px;width:120px;text-align:right;top:391px;transform:scaleX(0.88);transform-origin:100% 0;">0.00</div>
<div class="x" style="font-size:7px;line-height:7px;color:#262626;-webkit-text-stroke:0.180px #262626;left:197.60000000000002px;width:120px;text-align:right;top:391px;transform:scaleX(0.88);transform-origin:100% 0;">0.00</div>
<div class="x" style="font-size:7px;line-height:7px;color:#262626;-webkit-text-stroke:0.180px #262626;left:247px;width:120px;text-align:right;top:391px;transform:scaleX(0.88);transform-origin:100% 0;">0.00</div>
<div class="x" style="font-size:7px;line-height:7px;color:#262626;-webkit-text-stroke:0.180px #262626;left:286.5px;width:120px;text-align:right;top:391px;transform:scaleX(0.88);transform-origin:100% 0;">13</div>
<div class="cb" style="left:421.00px;top:390.00px"></div>
<div class="cb" style="left:462.00px;top:390.00px"></div>
<div class="cb" style="left:503.00px;top:390.00px"></div>
<div class="cb" style="left:546.00px;top:390.00px"></div>
<div class="cb" style="left:587.00px;top:390.00px"><svg width="8" height="8" style="position:absolute;left:-1px;top:-1px"><path d="M1.7 3.7 L3.6 5.6 L6.6 2.2" fill="none" stroke="#5e5e5e" stroke-width="1.1"/></svg></div>
<div class="cb" style="left:628.00px;top:390.00px"></div>
<div style="left:653px;top:390px;width:75.5px;height:9px;background:#dde9f5;border-right:1px solid #c2c4c8;border-top:1px solid #c2c4c8;"></div>
<div style="left:728.5px;top:390px;width:41.5px;height:9px;background:#dde9f5;border-right:1px solid #c2c4c8;border-top:1px solid #c2c4c8;"></div>
<div class="x" style="font-size:7px;line-height:7px;color:#262626;-webkit-text-stroke:0.180px #262626;left:649.4px;width:120px;text-align:right;top:391px;transform:scaleX(0.85);transform-origin:100% 0;">0.00%</div>
<div style="left:28px;top:399px;width:11px;height:10px;background:#f3f3f3;border-top:1px solid #555;border-right:1px solid #4a4a4a"></div>
<div style="left:39px;top:399px;width:38.5px;height:10px;background:#dde9f5;border-right:1px solid #c2c4c8;border-top:1px solid #c2c4c8;"></div>
<div style="left:77.5px;top:399px;width:41px;height:10px;background:#dde9f5;border-right:1px solid #c2c4c8;border-top:1px solid #c2c4c8;"></div>
<div style="left:118.5px;top:399px;width:40.5px;height:10px;background:#dde9f5;border-right:1px solid #c2c4c8;border-top:1px solid #c2c4c8;"></div>
<div style="left:159px;top:399px;width:9.5px;height:10px;background:#e4e4e4;border-top:1px solid #c0c0c0;border-right:1px solid #9c9c9c;border-left:1px solid #b8b8b8"><svg width="9" height="9" style="position:absolute;left:-1px;top:-1px"><path d="M2.45 5.1 L4.75 7 L7.05 5.1" fill="none" stroke="#585858" stroke-width="1.0"/></svg></div>
<div style="left:168.5px;top:399px;width:50px;height:10px;background:#dde9f5;border-right:1px solid #c2c4c8;border-top:1px solid #c2c4c8;"></div>
<div style="left:218.5px;top:399px;width:49.5px;height:10px;background:#dde9f5;border-right:1px solid #c2c4c8;border-top:1px solid #c2c4c8;"></div>
<div style="left:268px;top:399px;width:50px;height:10px;background:#dde9f5;border-right:1px solid #c2c4c8;border-top:1px solid #c2c4c8;"></div>
<div style="left:318px;top:399px;width:49.5px;height:10px;background:#dde9f5;border-right:1px solid #c2c4c8;border-top:1px solid #c2c4c8;"></div>
<div style="left:367.5px;top:399px;width:41px;height:10px;background:#dde9f5;border-right:1px solid #c2c4c8;border-top:1px solid #c2c4c8;"></div>
<div class="x" style="font-size:7px;line-height:7px;color:#262626;-webkit-text-stroke:0.180px #262626;left:38.69999999999999px;width:120px;text-align:right;top:400px;transform:scaleX(0.88);transform-origin:100% 0;">0.00</div>
<div class="x" style="font-size:7px;line-height:7px;color:#262626;-webkit-text-stroke:0.180px #262626;left:98px;width:120px;text-align:right;top:400px;transform:scaleX(0.88);transform-origin:100% 0;">0.00</div>
<div class="x" style="font-size:7px;line-height:7px;color:#262626;-webkit-text-stroke:0.180px #262626;left:147.60000000000002px;width:120px;text-align:right;top:400px;transform:scaleX(0.88);transform-origin:100% 0;">0.00</div>
<div class="x" style="font-size:7px;line-height:7px;color:#262626;-webkit-text-stroke:0.180px #262626;left:197.60000000000002px;width:120px;text-align:right;top:400px;transform:scaleX(0.88);transform-origin:100% 0;">0.00</div>
<div class="x" style="font-size:7px;line-height:7px;color:#262626;-webkit-text-stroke:0.180px #262626;left:247px;width:120px;text-align:right;top:400px;transform:scaleX(0.88);transform-origin:100% 0;">0.00</div>
<div class="x" style="font-size:7px;line-height:7px;color:#262626;-webkit-text-stroke:0.180px #262626;left:286.5px;width:120px;text-align:right;top:400px;transform:scaleX(0.88);transform-origin:100% 0;">13</div>
<div class="cb" style="left:421.00px;top:399.00px"></div>
<div class="cb" style="left:462.00px;top:399.00px"></div>
<div class="cb" style="left:503.00px;top:399.00px"></div>
<div class="cb" style="left:546.00px;top:399.00px"></div>
<div class="cb" style="left:587.00px;top:399.00px"><svg width="8" height="8" style="position:absolute;left:-1px;top:-1px"><path d="M1.7 3.7 L3.6 5.6 L6.6 2.2" fill="none" stroke="#5e5e5e" stroke-width="1.1"/></svg></div>
<div class="cb" style="left:628.00px;top:399.00px"></div>
<div style="left:653px;top:399px;width:75.5px;height:10px;background:#dde9f5;border-right:1px solid #c2c4c8;border-top:1px solid #c2c4c8;"></div>
<div style="left:728.5px;top:399px;width:41.5px;height:10px;background:#dde9f5;border-right:1px solid #c2c4c8;border-top:1px solid #c2c4c8;"></div>
<div class="x" style="font-size:7px;line-height:7px;color:#262626;-webkit-text-stroke:0.180px #262626;left:649.4px;width:120px;text-align:right;top:400px;transform:scaleX(0.85);transform-origin:100% 0;">0.00%</div>
<div style="left:28px;top:409px;width:11px;height:9px;background:#f3f3f3;border-top:1px solid #555;border-right:1px solid #4a4a4a"></div>
<div style="left:39px;top:409px;width:38.5px;height:9px;background:#dde9f5;border-right:1px solid #c2c4c8;border-top:1px solid #c2c4c8;"></div>
<div style="left:77.5px;top:409px;width:41px;height:9px;background:#dde9f5;border-right:1px solid #c2c4c8;border-top:1px solid #c2c4c8;"></div>
<div style="left:118.5px;top:409px;width:40.5px;height:9px;background:#dde9f5;border-right:1px solid #c2c4c8;border-top:1px solid #c2c4c8;"></div>
<div style="left:159px;top:409px;width:9.5px;height:9px;background:#e4e4e4;border-top:1px solid #c0c0c0;border-right:1px solid #9c9c9c;border-left:1px solid #b8b8b8"><svg width="9" height="9" style="position:absolute;left:-1px;top:-1px"><path d="M2.45 5.1 L4.75 7 L7.05 5.1" fill="none" stroke="#585858" stroke-width="1.0"/></svg></div>
<div style="left:168.5px;top:409px;width:50px;height:9px;background:#dde9f5;border-right:1px solid #c2c4c8;border-top:1px solid #c2c4c8;"></div>
<div style="left:218.5px;top:409px;width:49.5px;height:9px;background:#dde9f5;border-right:1px solid #c2c4c8;border-top:1px solid #c2c4c8;"></div>
<div style="left:268px;top:409px;width:50px;height:9px;background:#dde9f5;border-right:1px solid #c2c4c8;border-top:1px solid #c2c4c8;"></div>
<div style="left:318px;top:409px;width:49.5px;height:9px;background:#dde9f5;border-right:1px solid #c2c4c8;border-top:1px solid #c2c4c8;"></div>
<div style="left:367.5px;top:409px;width:41px;height:9px;background:#dde9f5;border-right:1px solid #c2c4c8;border-top:1px solid #c2c4c8;"></div>
<div class="x" style="font-size:7px;line-height:7px;color:#262626;letter-spacing:0.05px;-webkit-text-stroke:0.180px #262626;left:79px;top:410px;transform:scaleX(0.92);transform-origin:0 0;">01/07/2017</div>
<div class="x" style="font-size:7px;line-height:7px;color:#262626;-webkit-text-stroke:0.180px #262626;left:38.69999999999999px;width:120px;text-align:right;top:410px;transform:scaleX(0.88);transform-origin:100% 0;">300,000.00</div>
<div class="x" style="font-size:7px;line-height:7px;color:#262626;-webkit-text-stroke:0.180px #262626;left:98px;width:120px;text-align:right;top:410px;transform:scaleX(0.88);transform-origin:100% 0;">0.00</div>
<div class="x" style="font-size:7px;line-height:7px;color:#262626;-webkit-text-stroke:0.180px #262626;left:147.60000000000002px;width:120px;text-align:right;top:410px;transform:scaleX(0.88);transform-origin:100% 0;">0.00</div>
<div class="x" style="font-size:7px;line-height:7px;color:#262626;-webkit-text-stroke:0.180px #262626;left:197.60000000000002px;width:120px;text-align:right;top:410px;transform:scaleX(0.88);transform-origin:100% 0;">0.00</div>
<div class="x" style="font-size:7px;line-height:7px;color:#262626;-webkit-text-stroke:0.180px #262626;left:247px;width:120px;text-align:right;top:410px;transform:scaleX(0.88);transform-origin:100% 0;">0.00</div>
<div class="x" style="font-size:7px;line-height:7px;color:#262626;-webkit-text-stroke:0.180px #262626;left:286.5px;width:120px;text-align:right;top:410px;transform:scaleX(0.88);transform-origin:100% 0;">13</div>
<div class="cb" style="left:421.00px;top:409.00px"></div>
<div class="cb" style="left:462.00px;top:409.00px"></div>
<div class="cb" style="left:503.00px;top:409.00px"></div>
<div class="cb" style="left:546.00px;top:409.00px"></div>
<div class="cb" style="left:587.00px;top:409.00px"><svg width="8" height="8" style="position:absolute;left:-1px;top:-1px"><path d="M1.7 3.7 L3.6 5.6 L6.6 2.2" fill="none" stroke="#5e5e5e" stroke-width="1.1"/></svg></div>
<div class="cb" style="left:628.00px;top:409.00px"></div>
<div style="left:653px;top:409px;width:75.5px;height:9px;background:#dde9f5;border-right:1px solid #c2c4c8;border-top:1px solid #c2c4c8;"></div>
<div style="left:728.5px;top:409px;width:41.5px;height:9px;background:#dde9f5;border-right:1px solid #c2c4c8;border-top:1px solid #c2c4c8;"></div>
<div class="x" style="font-size:7px;line-height:7px;color:#262626;-webkit-text-stroke:0.180px #262626;left:649.4px;width:120px;text-align:right;top:410px;transform:scaleX(0.85);transform-origin:100% 0;">0.00%</div>
<div style="left:28px;top:418px;width:11px;height:9px;background:#f3f3f3;border-top:1px solid #555;border-right:1px solid #4a4a4a"></div>
<div style="left:39px;top:418px;width:38.5px;height:9px;background:#dde9f5;border-right:1px solid #c2c4c8;border-top:1px solid #c2c4c8;"></div>
<div style="left:77.5px;top:418px;width:41px;height:9px;background:#dde9f5;border-right:1px solid #c2c4c8;border-top:1px solid #c2c4c8;"></div>
<div style="left:118.5px;top:418px;width:40.5px;height:9px;background:#dde9f5;border-right:1px solid #c2c4c8;border-top:1px solid #c2c4c8;"></div>
<div style="left:159px;top:418px;width:9.5px;height:9px;background:#e4e4e4;border-top:1px solid #c0c0c0;border-right:1px solid #9c9c9c;border-left:1px solid #b8b8b8"><svg width="9" height="9" style="position:absolute;left:-1px;top:-1px"><path d="M2.45 5.1 L4.75 7 L7.05 5.1" fill="none" stroke="#585858" stroke-width="1.0"/></svg></div>
<div style="left:168.5px;top:418px;width:50px;height:9px;background:#dde9f5;border-right:1px solid #c2c4c8;border-top:1px solid #c2c4c8;"></div>
<div style="left:218.5px;top:418px;width:49.5px;height:9px;background:#dde9f5;border-right:1px solid #c2c4c8;border-top:1px solid #c2c4c8;"></div>
<div style="left:268px;top:418px;width:50px;height:9px;background:#dde9f5;border-right:1px solid #c2c4c8;border-top:1px solid #c2c4c8;"></div>
<div style="left:318px;top:418px;width:49.5px;height:9px;background:#dde9f5;border-right:1px solid #c2c4c8;border-top:1px solid #c2c4c8;"></div>
<div style="left:367.5px;top:418px;width:41px;height:9px;background:#dde9f5;border-right:1px solid #c2c4c8;border-top:1px solid #c2c4c8;"></div>
<div class="x" style="font-size:7px;line-height:7px;color:#262626;letter-spacing:0.05px;-webkit-text-stroke:0.180px #262626;left:79px;top:419px;transform:scaleX(0.92);transform-origin:0 0;">01/07/2017</div>
<div class="x" style="font-size:7px;line-height:7px;color:#262626;-webkit-text-stroke:0.180px #262626;left:38.69999999999999px;width:120px;text-align:right;top:419px;transform:scaleX(0.88);transform-origin:100% 0;">300,000.00</div>
<div class="x" style="font-size:7px;line-height:7px;color:#262626;-webkit-text-stroke:0.180px #262626;left:98px;width:120px;text-align:right;top:419px;transform:scaleX(0.88);transform-origin:100% 0;">0.00</div>
<div class="x" style="font-size:7px;line-height:7px;color:#262626;-webkit-text-stroke:0.180px #262626;left:147.60000000000002px;width:120px;text-align:right;top:419px;transform:scaleX(0.88);transform-origin:100% 0;">0.00</div>
<div class="x" style="font-size:7px;line-height:7px;color:#262626;-webkit-text-stroke:0.180px #262626;left:197.60000000000002px;width:120px;text-align:right;top:419px;transform:scaleX(0.88);transform-origin:100% 0;">0.00</div>
<div class="x" style="font-size:7px;line-height:7px;color:#262626;-webkit-text-stroke:0.180px #262626;left:247px;width:120px;text-align:right;top:419px;transform:scaleX(0.88);transform-origin:100% 0;">0.00</div>
<div class="x" style="font-size:7px;line-height:7px;color:#262626;-webkit-text-stroke:0.180px #262626;left:286.5px;width:120px;text-align:right;top:419px;transform:scaleX(0.88);transform-origin:100% 0;">13</div>
<div class="cb" style="left:421.00px;top:418.00px"></div>
<div class="cb" style="left:462.00px;top:418.00px"></div>
<div class="cb" style="left:503.00px;top:418.00px"></div>
<div class="cb" style="left:546.00px;top:418.00px"></div>
<div class="cb" style="left:587.00px;top:418.00px"><svg width="8" height="8" style="position:absolute;left:-1px;top:-1px"><path d="M1.7 3.7 L3.6 5.6 L6.6 2.2" fill="none" stroke="#5e5e5e" stroke-width="1.1"/></svg></div>
<div class="cb" style="left:628.00px;top:418.00px"></div>
<div style="left:653px;top:418px;width:75.5px;height:9px;background:#dde9f5;border-right:1px solid #c2c4c8;border-top:1px solid #c2c4c8;"></div>
<div style="left:728.5px;top:418px;width:41.5px;height:9px;background:#dde9f5;border-right:1px solid #c2c4c8;border-top:1px solid #c2c4c8;"></div>
<div class="x" style="font-size:7px;line-height:7px;color:#262626;-webkit-text-stroke:0.180px #262626;left:649.4px;width:120px;text-align:right;top:419px;transform:scaleX(0.85);transform-origin:100% 0;">0.00%</div>
<div style="left:28px;top:427px;width:11px;height:9px;background:#f3f3f3;border-top:1px solid #555;border-right:1px solid #4a4a4a"></div>
<div style="left:39px;top:427px;width:38.5px;height:9px;background:#dde9f5;border-right:1px solid #c2c4c8;border-top:1px solid #c2c4c8;"></div>
<div style="left:77.5px;top:427px;width:41px;height:9px;background:#dde9f5;border-right:1px solid #c2c4c8;border-top:1px solid #c2c4c8;"></div>
<div style="left:118.5px;top:427px;width:40.5px;height:9px;background:#dde9f5;border-right:1px solid #c2c4c8;border-top:1px solid #c2c4c8;"></div>
<div style="left:159px;top:427px;width:9.5px;height:9px;background:#e4e4e4;border-top:1px solid #c0c0c0;border-right:1px solid #9c9c9c;border-left:1px solid #b8b8b8"><svg width="9" height="9" style="position:absolute;left:-1px;top:-1px"><path d="M2.45 5.1 L4.75 7 L7.05 5.1" fill="none" stroke="#585858" stroke-width="1.0"/></svg></div>
<div style="left:168.5px;top:427px;width:50px;height:9px;background:#dde9f5;border-right:1px solid #c2c4c8;border-top:1px solid #c2c4c8;"></div>
<div style="left:218.5px;top:427px;width:49.5px;height:9px;background:#dde9f5;border-right:1px solid #c2c4c8;border-top:1px solid #c2c4c8;"></div>
<div style="left:268px;top:427px;width:50px;height:9px;background:#dde9f5;border-right:1px solid #c2c4c8;border-top:1px solid #c2c4c8;"></div>
<div style="left:318px;top:427px;width:49.5px;height:9px;background:#dde9f5;border-right:1px solid #c2c4c8;border-top:1px solid #c2c4c8;"></div>
<div style="left:367.5px;top:427px;width:41px;height:9px;background:#dde9f5;border-right:1px solid #c2c4c8;border-top:1px solid #c2c4c8;"></div>
<div class="x" style="font-size:7px;line-height:7px;color:#262626;-webkit-text-stroke:0.180px #262626;left:38.69999999999999px;width:120px;text-align:right;top:428px;transform:scaleX(0.88);transform-origin:100% 0;">0.00</div>
<div class="x" style="font-size:7px;line-height:7px;color:#262626;-webkit-text-stroke:0.180px #262626;left:98px;width:120px;text-align:right;top:428px;transform:scaleX(0.88);transform-origin:100% 0;">0.00</div>
<div class="x" style="font-size:7px;line-height:7px;color:#262626;-webkit-text-stroke:0.180px #262626;left:147.60000000000002px;width:120px;text-align:right;top:428px;transform:scaleX(0.88);transform-origin:100% 0;">0.00</div>
<div class="x" style="font-size:7px;line-height:7px;color:#262626;-webkit-text-stroke:0.180px #262626;left:197.60000000000002px;width:120px;text-align:right;top:428px;transform:scaleX(0.88);transform-origin:100% 0;">0.00</div>
<div class="x" style="font-size:7px;line-height:7px;color:#262626;-webkit-text-stroke:0.180px #262626;left:247px;width:120px;text-align:right;top:428px;transform:scaleX(0.88);transform-origin:100% 0;">0.00</div>
<div class="x" style="font-size:7px;line-height:7px;color:#262626;-webkit-text-stroke:0.180px #262626;left:286.5px;width:120px;text-align:right;top:428px;transform:scaleX(0.88);transform-origin:100% 0;">13</div>
<div class="cb" style="left:421.00px;top:427.00px"></div>
<div class="cb" style="left:462.00px;top:427.00px"></div>
<div class="cb" style="left:503.00px;top:427.00px"></div>
<div class="cb" style="left:546.00px;top:427.00px"></div>
<div class="cb" style="left:587.00px;top:427.00px"></div>
<div class="cb" style="left:628.00px;top:427.00px"></div>
<div style="left:653px;top:427px;width:75.5px;height:9px;background:#dde9f5;border-right:1px solid #c2c4c8;border-top:1px solid #c2c4c8;"></div>
<div style="left:728.5px;top:427px;width:41.5px;height:9px;background:#dde9f5;border-right:1px solid #c2c4c8;border-top:1px solid #c2c4c8;"></div>
<div class="x" style="font-size:7px;line-height:7px;color:#262626;-webkit-text-stroke:0.180px #262626;left:649.4px;width:120px;text-align:right;top:428px;transform:scaleX(0.85);transform-origin:100% 0;">0.00%</div>
<div style="left:28px;top:436px;width:11px;height:9px;background:#f3f3f3;border-top:1px solid #555;border-right:1px solid #4a4a4a"></div>
<div style="left:39px;top:436px;width:38.5px;height:9px;background:#dde9f5;border-right:1px solid #c2c4c8;border-top:1px solid #c2c4c8;"></div>
<div style="left:77.5px;top:436px;width:41px;height:9px;background:#dde9f5;border-right:1px solid #c2c4c8;border-top:1px solid #c2c4c8;"></div>
<div style="left:118.5px;top:436px;width:40.5px;height:9px;background:#dde9f5;border-right:1px solid #c2c4c8;border-top:1px solid #c2c4c8;"></div>
<div style="left:159px;top:436px;width:9.5px;height:9px;background:#e4e4e4;border-top:1px solid #c0c0c0;border-right:1px solid #9c9c9c;border-left:1px solid #b8b8b8"><svg width="9" height="9" style="position:absolute;left:-1px;top:-1px"><path d="M2.45 5.1 L4.75 7 L7.05 5.1" fill="none" stroke="#585858" stroke-width="1.0"/></svg></div>
<div style="left:168.5px;top:436px;width:50px;height:9px;background:#dde9f5;border-right:1px solid #c2c4c8;border-top:1px solid #c2c4c8;"></div>
<div style="left:218.5px;top:436px;width:49.5px;height:9px;background:#dde9f5;border-right:1px solid #c2c4c8;border-top:1px solid #c2c4c8;"></div>
<div style="left:268px;top:436px;width:50px;height:9px;background:#dde9f5;border-right:1px solid #c2c4c8;border-top:1px solid #c2c4c8;"></div>
<div style="left:318px;top:436px;width:49.5px;height:9px;background:#dde9f5;border-right:1px solid #c2c4c8;border-top:1px solid #c2c4c8;"></div>
<div style="left:367.5px;top:436px;width:41px;height:9px;background:#dde9f5;border-right:1px solid #c2c4c8;border-top:1px solid #c2c4c8;"></div>
<div class="x" style="font-size:7px;line-height:7px;color:#262626;-webkit-text-stroke:0.180px #262626;left:38.69999999999999px;width:120px;text-align:right;top:437px;transform:scaleX(0.88);transform-origin:100% 0;">0.00</div>
<div class="x" style="font-size:7px;line-height:7px;color:#262626;-webkit-text-stroke:0.180px #262626;left:98px;width:120px;text-align:right;top:437px;transform:scaleX(0.88);transform-origin:100% 0;">0.00</div>
<div class="x" style="font-size:7px;line-height:7px;color:#262626;-webkit-text-stroke:0.180px #262626;left:147.60000000000002px;width:120px;text-align:right;top:437px;transform:scaleX(0.88);transform-origin:100% 0;">0.00</div>
<div class="x" style="font-size:7px;line-height:7px;color:#262626;-webkit-text-stroke:0.180px #262626;left:197.60000000000002px;width:120px;text-align:right;top:437px;transform:scaleX(0.88);transform-origin:100% 0;">0.00</div>
<div class="x" style="font-size:7px;line-height:7px;color:#262626;-webkit-text-stroke:0.180px #262626;left:247px;width:120px;text-align:right;top:437px;transform:scaleX(0.88);transform-origin:100% 0;">0.00</div>
<div class="x" style="font-size:7px;line-height:7px;color:#262626;-webkit-text-stroke:0.180px #262626;left:286.5px;width:120px;text-align:right;top:437px;transform:scaleX(0.88);transform-origin:100% 0;">13</div>
<div class="cb" style="left:421.00px;top:436.00px"></div>
<div class="cb" style="left:462.00px;top:436.00px"></div>
<div class="cb" style="left:503.00px;top:436.00px"></div>
<div class="cb" style="left:546.00px;top:436.00px"></div>
<div class="cb" style="left:587.00px;top:436.00px"><svg width="8" height="8" style="position:absolute;left:-1px;top:-1px"><path d="M1.7 3.7 L3.6 5.6 L6.6 2.2" fill="none" stroke="#5e5e5e" stroke-width="1.1"/></svg></div>
<div class="cb" style="left:628.00px;top:436.00px"></div>
<div style="left:653px;top:436px;width:75.5px;height:9px;background:#dde9f5;border-right:1px solid #c2c4c8;border-top:1px solid #c2c4c8;"></div>
<div style="left:728.5px;top:436px;width:41.5px;height:9px;background:#dde9f5;border-right:1px solid #c2c4c8;border-top:1px solid #c2c4c8;"></div>
<div class="x" style="font-size:7px;line-height:7px;color:#262626;-webkit-text-stroke:0.180px #262626;left:649.4px;width:120px;text-align:right;top:437px;transform:scaleX(0.85);transform-origin:100% 0;">0.00%</div>
<div style="left:28px;top:445px;width:11px;height:9px;background:#f3f3f3;border-top:1px solid #555;border-right:1px solid #4a4a4a"><svg width="10" height="8" style="position:absolute;left:0;top:0"><g stroke="#444" stroke-width="0.6"><path d="M6.3 1V6.8M3.6 3.9H9M4.3 1.9L8.3 5.9M8.3 1.9L4.3 5.9"/></g><circle cx="6.3" cy="3.9" r="1.3" fill="#000"/></svg></div>
<div style="left:39px;top:445px;width:38.5px;height:9px;background:#dde9f5;border-right:1px solid #c2c4c8;border-top:1px solid #c2c4c8;"></div>
<div style="left:77.5px;top:445px;width:41px;height:9px;background:#dde9f5;border-right:1px solid #c2c4c8;border-top:1px solid #c2c4c8;"></div>
<div style="left:118.5px;top:445px;width:40.5px;height:9px;background:#dde9f5;border-right:1px solid #c2c4c8;border-top:1px solid #c2c4c8;"></div>
<div style="left:159px;top:445px;width:9.5px;height:9px;background:#e4e4e4;border-top:1px solid #c0c0c0;border-right:1px solid #9c9c9c;border-left:1px solid #b8b8b8"><svg width="9" height="9" style="position:absolute;left:-1px;top:-1px"><path d="M2.45 5.1 L4.75 7 L7.05 5.1" fill="none" stroke="#585858" stroke-width="1.0"/></svg></div>
<div style="left:168.5px;top:445px;width:50px;height:9px;background:#dde9f5;border-right:1px solid #c2c4c8;border-top:1px solid #c2c4c8;"></div>
<div style="left:218.5px;top:445px;width:49.5px;height:9px;background:#dde9f5;border-right:1px solid #c2c4c8;border-top:1px solid #c2c4c8;"></div>
<div style="left:268px;top:445px;width:50px;height:9px;background:#dde9f5;border-right:1px solid #c2c4c8;border-top:1px solid #c2c4c8;"></div>
<div style="left:318px;top:445px;width:49.5px;height:9px;background:#dde9f5;border-right:1px solid #c2c4c8;border-top:1px solid #c2c4c8;"></div>
<div style="left:367.5px;top:445px;width:41px;height:9px;background:#dde9f5;border-right:1px solid #c2c4c8;border-top:1px solid #c2c4c8;"></div>
<div class="x" style="font-size:7px;line-height:7px;color:#262626;-webkit-text-stroke:0.180px #262626;left:286.5px;width:120px;text-align:right;top:446px;transform:scaleX(0.88);transform-origin:100% 0;">13</div>
<div class="cb" style="left:421.00px;top:445.00px"></div>
<div class="cb" style="left:462.00px;top:445.00px"></div>
<div class="cb" style="left:503.00px;top:445.00px"></div>
<div class="cb" style="left:546.00px;top:445.00px"></div>
<div class="cb" style="left:587.00px;top:445.00px"><svg width="8" height="8" style="position:absolute;left:-1px;top:-1px"><path d="M1.7 3.7 L3.6 5.6 L6.6 2.2" fill="none" stroke="#5e5e5e" stroke-width="1.1"/></svg></div>
<div class="cb" style="left:628.00px;top:445.00px"></div>
<div style="left:653px;top:445px;width:75.5px;height:9px;background:#dde9f5;border-right:1px solid #c2c4c8;border-top:1px solid #c2c4c8;"></div>
<div style="left:728.5px;top:445px;width:41.5px;height:9px;background:#dde9f5;border-right:1px solid #c2c4c8;border-top:1px solid #c2c4c8;"></div>
<div class="x" style="font-size:7px;line-height:7px;color:#262626;-webkit-text-stroke:0.180px #262626;left:649.4px;width:120px;text-align:right;top:446px;transform:scaleX(0.85);transform-origin:100% 0;">0.00%</div>
<div style="left:28px;top:454px;width:11px;height:1px;background:#555"></div>
<svg width="6" height="40" style="position:absolute;left:24px;top:401px"><g fill="#4f8fd6"><circle cx="1.6" cy="5.0" r="0.65"/><circle cx="2.8" cy="7.6" r="0.65"/><circle cx="1.6" cy="10.2" r="0.65"/><circle cx="2.8" cy="12.8" r="0.65"/><circle cx="1.6" cy="24.8" r="0.65"/><circle cx="2.8" cy="27.4" r="0.65"/><circle cx="1.6" cy="30.0" r="0.65"/><circle cx="2.8" cy="32.6" r="0.65"/></g><path d="M1.2 20 L4.2 17.4 L4.2 22.6Z" fill="#fff"/></svg>
<svg width="6" height="40" style="position:absolute;left:86px;top:194px"><g fill="#4f8fd6"><circle cx="1.6" cy="5.0" r="0.65"/><circle cx="2.8" cy="7.6" r="0.65"/><circle cx="1.6" cy="10.2" r="0.65"/><circle cx="2.8" cy="12.8" r="0.65"/><circle cx="1.6" cy="24.8" r="0.65"/><circle cx="2.8" cy="27.4" r="0.65"/><circle cx="1.6" cy="30.0" r="0.65"/><circle cx="2.8" cy="32.6" r="0.65"/></g><path d="M1.2 20 L4.2 17.4 L4.2 22.6Z" fill="#fff"/></svg>
<svg width="797" height="50" style="position:absolute;left:0;top:0" viewBox="0 0 797 50">
<defs>
<linearGradient id="gGray" x1="0" y1="0" x2="1" y2="0"><stop offset="0" stop-color="#e4e4e4"/><stop offset="1" stop-color="#9c9c9c"/></linearGradient>
<linearGradient id="gDoc" x1="0" y1="0" x2="0" y2="1"><stop offset="0" stop-color="#1469b8"/><stop offset="0.5" stop-color="#78b2e0"/><stop offset="1" stop-color="#eef3f8"/></linearGradient>
<linearGradient id="gDocG" x1="0" y1="0" x2="0" y2="1"><stop offset="0" stop-color="#bdbdbd"/><stop offset="1" stop-color="#eeeeee"/></linearGradient>
<linearGradient id="gSave" x1="0" y1="0" x2="0" y2="1"><stop offset="0" stop-color="#3b86cc"/><stop offset="1" stop-color="#8cc0ea"/></linearGradient>
<linearGradient id="gBlueL" x1="0" y1="0" x2="1" y2="1"><stop offset="0" stop-color="#2a7cc8"/><stop offset="1" stop-color="#cfe4f6"/></linearGradient>
<linearGradient id="gHome" x1="0" y1="0" x2="0" y2="1"><stop offset="0" stop-color="#1c6fc0"/><stop offset="0.6" stop-color="#5ea3dc"/><stop offset="1" stop-color="#e8f2fa"/></linearGradient>
</defs>
<!-- 1 back -->
<linearGradient id="gBack" x1="0" y1="0" x2="1" y2="1"><stop offset="0" stop-color="#f4f4f4"/><stop offset="1" stop-color="#b4b4b4"/></linearGradient>
<path d="M28.8 32.3 L34.6 27.2 L34.6 29.2 L36.8 29.2 L36.8 35.6 L34.6 35.6 L34.6 38.2 Z" fill="url(#gBack)" stroke="#8a8a8a" stroke-width="0.8" stroke-linejoin="round"/>
<rect x="38.3" y="29.1" width="2.9" height="6.6" rx="1.4" fill="#d0d0d0" stroke="#8a8a8a" stroke-width="0.7"/>
<!-- 2 tree -->
<g fill="#f6f6f6" stroke="#767676" stroke-width="0.7">
<path d="M56.8 29.8 V38.9 H61.2 M56.8 33.6 H61.2" fill="none"/>
<path d="M54.3 26.8 H56.4 L57 27.4 H59.8 V29.7 H54.3 Z"/>
<path d="M61.2 32.2 H63.4 L64 32.8 H66.7 V35.6 H61.2 Z"/>
<path d="M61.2 37.5 H63.4 L64 38.1 H66.7 V40.6 H61.2 Z"/>
</g>
<!-- 3 new doc -->
<path d="M80.4 26 H86.6 L91.7 30.6 V40.5 H80.4 Z" fill="url(#gDoc)" stroke="#3e74b2" stroke-width="0.8"/>
<path d="M86.6 26 V30.6 H91.7 Z" fill="#fff" stroke="#3e74b2" stroke-width="0.6"/>
<!-- 4 copy -->
<path d="M104.5 26 H109.4 V38.5 H104.5 Z" fill="url(#gDoc)" stroke="#3e74b2" stroke-width="0.8"/>
<path d="M109.3 28.3 H114.2 L118.7 32.4 V40.5 H109.3 Z" fill="url(#gDoc)" stroke="#3e74b2" stroke-width="0.8"/>
<path d="M114.2 28.3 V32.4 H118.7 Z" fill="#fff" stroke="#3e74b2" stroke-width="0.5"/>
<!-- 5 delete -->
<path d="M132.2 26 H138 L142.7 30.3 V40.5 H132.2 Z" fill="url(#gDocG)" stroke="#9a9a9a" stroke-width="0.8"/>
<path d="M138 26 V30.3 H142.7 Z" fill="#fff" stroke="#9a9a9a" stroke-width="0.5"/>
<path d="M134.2 30.2 L141 37.8 M141 30.2 L134.2 37.8" stroke="#5c5c5c" stroke-width="1.1"/>
<!-- 6 save -->
<rect x="156.3" y="26.3" width="13.4" height="13.2" rx="1" fill="url(#gSave)" stroke="#2a62a8" stroke-width="0.8"/>
<rect x="158.3" y="26.3" width="9.6" height="4.3" fill="#0d3f8a"/>
<rect x="160" y="27.1" width="1.3" height="2.6" fill="#e8f0f8"/>
<rect x="159.3" y="33.8" width="7.3" height="5.2" fill="#fff"/>
<!-- 7 undo -->
<linearGradient id="gUndo" x1="0" y1="0" x2="1" y2="0"><stop offset="0" stop-color="#9fd0f2"/><stop offset="0.6" stop-color="#3e8ed4"/><stop offset="1" stop-color="#1764b8"/></linearGradient>
<path d="M183.5 30.8 C185.5 27.6 188.5 26.3 191.5 26.5 C195 26.8 196.8 29.5 196.7 32.5 C196.6 35.5 194.5 38 191 39.6 C193 37.5 194 35 193.6 32.6 C193.2 30.3 191.2 29.5 189.5 29.7 C188.3 29.9 187.3 30.6 186.6 31.6 Z" fill="url(#gUndo)" stroke="#2a72bc" stroke-width="0.4"/>
<path d="M181.3 28.2 L181.6 35.4 L188.7 34.8 Z" fill="#cfe6f8" stroke="#4f92d2" stroke-width="0.7" stroke-linejoin="round"/>
<!-- 8 search -->
<circle cx="211.7" cy="30.8" r="4.2" fill="#f2f8fd" stroke="#5d8fc4" stroke-width="0.9"/>
<path d="M214.8 34 L220 38.9" stroke="#0d4e94" stroke-width="2" stroke-linecap="round"/>
<!-- 9 funnel -->
<rect x="236.5" y="26" width="6.3" height="6" fill="#cfe2f3" stroke="#3a78b8" stroke-width="0.7"/>
<rect x="237.5" y="27" width="3" height="2" fill="#1a6ac0"/>
<path d="M234.2 32.5 H245.8 L241.3 37.4 V39.5 H238.7 V37.4 Z" fill="#5ea6de" stroke="#3a78b8" stroke-width="0.7"/>
<rect x="234.5" y="32.4" width="11" height="1.3" fill="#fff"/>
<path d="M235 34.2 H245" stroke="#0d5aa8" stroke-width="1.1"/>
<!-- 10 ABC -->
<rect x="260.8" y="26.6" width="12" height="12.4" fill="url(#gBlueL)" stroke="#6f9ccc" stroke-width="0.7"/>
<rect x="262.6" y="28.4" width="8.6" height="8.8" fill="none" stroke="#9cc4ea" stroke-width="0.5"/>
<g font-family="Liberation Sans" font-weight="bold" font-size="6.6" fill="#0a3578" stroke="#0a3578" stroke-width="0.15">
<text x="259" y="32.4">A</text><text x="263.9" y="36.4">B</text><text x="268.3" y="40.2">C</text></g>
<!-- 11 wand -->
<path d="M290 27 L291 29.8 L294 30 L291.6 31.8 L292.5 34.6 L290 33 L287.5 34.6 L288.4 31.8 L286 30 L289 29.8 Z" fill="#fff" stroke="#6a9ad0" stroke-width="0.8" stroke-linejoin="round"/>
<path d="M291.8 33.2 L296.6 39.2" stroke="#0d4e94" stroke-width="1.3" stroke-linecap="round"/>
<!-- 12 clip docs -->
<path d="M310.3 27 H314 V40.3 H310.3 Z" fill="#dbe8f5" stroke="#6a92c0" stroke-width="0.7"/>
<path d="M312.3 26 H318 L323.7 29.5 V40.3 H312.3 Z" fill="#f4f8fc" stroke="#4d7fb8" stroke-width="0.8"/>
<path d="M314.2 26.3 H316.8 V31.8 L319.6 35.6 L318.4 39 L314.2 35 Z" fill="#1f73c4"/>
<path d="M317.3 38.5 L321.5 35.5" stroke="#2a5a98" stroke-width="1"/>
<!-- 13 search doc -->
<path d="M338.3 26 H344.2 L349.6 30.3 V40.5 H338.3 Z" fill="#f0f5fa" stroke="#3e74b2" stroke-width="0.8"/>
<rect x="338.7" y="26.3" width="6" height="2.5" fill="#1d6fc0"/>
<circle cx="341.3" cy="32.4" r="3.8" fill="#8fc3ea" stroke="#3d7ab8" stroke-width="0.9"/>
<path d="M344 35.2 L347.8 39" stroke="#0d4e94" stroke-width="1.2" stroke-linecap="round"/>
<!-- 14 printer -->
<path d="M363.2 27.6 L368.9 26.5 L370.4 31 L364.2 31.3 Z" fill="#fff" stroke="#7090c0" stroke-width="0.7"/>
<path d="M361 34 L366.5 31.2 L372 30.8 L376 32.6 L376.2 35.8 L369 38.2 L361.5 36.8 Z" fill="#e4eff9" stroke="#3a70b4" stroke-width="0.7"/>
<path d="M361.6 34.3 L366 32.4 L368 36.4 L362.2 36.2 Z" fill="#6aa6dc"/>
<path d="M363 34.4 L364.6 33.7 L365.6 35.6 L364 35.7 Z" fill="#cfe4f6"/>
<path d="M367 32.2 L371.2 31.7 L371.6 33.6 L367.7 34.2 Z" fill="#0b3f8e"/>
<path d="M372.3 31.3 L375.8 32.9 L375.9 35 L372.6 35.5 Z" fill="#52a8e2"/>
<path d="M366.8 36.8 L376 35.1 L376 36.2 L368.6 38.2 Z" fill="#2262ae"/>
<path d="M367.8 38.4 L375.2 37.7 L376 39.6 L368.6 40 Z" fill="#fff" stroke="#7090c0" stroke-width="0.6"/>
<!-- 15 home -->
<path d="M394.3 26.6 L401.6 34 H399.5 V39.7 H396.5 V34.6 H391.5 V39.7 H388.5 V34 H386.8 Z" fill="url(#gHome)" stroke="#1f64ae" stroke-width="0.7" stroke-linejoin="round"/>
<rect x="397.2" y="28.3" width="2" height="2.8" fill="#2d78c2"/>
<!-- 16 runner -->
<g fill="#bdbdbd" stroke="#7c7c7c" stroke-width="0.7">
<circle cx="421.3" cy="27.6" r="1.4"/>
<path d="M417.5 30.2 L421.8 29.5 L426.5 29.2 L426.8 30.3 L422.5 31.3 L421.6 35.2 L422.6 39.5 L421.4 39.8 L419.8 35.8 L415 37.2 L413.4 36.8 L418.2 34.2 L418.4 31.8 L416.8 33.2 L416.2 32.4 Z"/>
</g>
</svg>
</body></html>
